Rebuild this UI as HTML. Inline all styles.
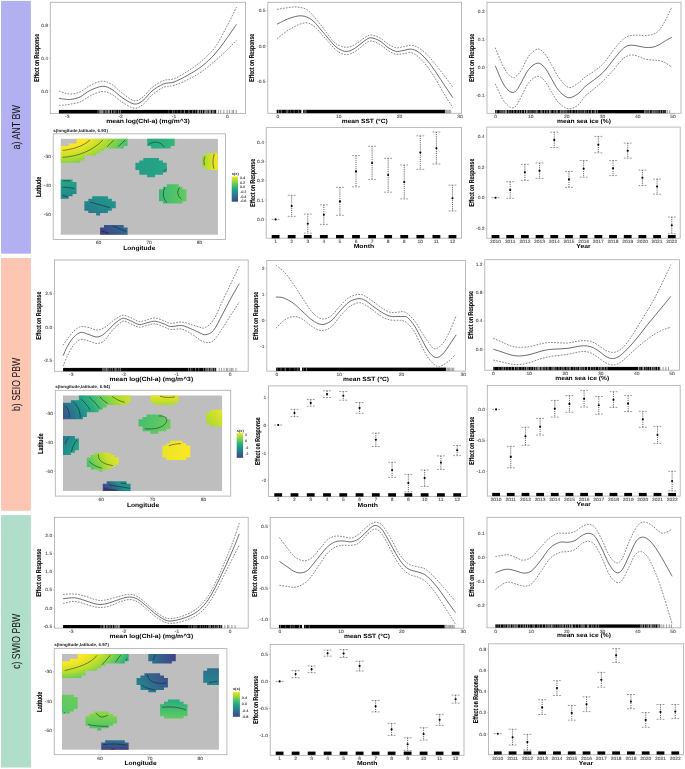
<!DOCTYPE html>
<html><head><meta charset="utf-8"><title>GAM partial effects</title>
<style>html,body{margin:0;padding:0;background:#fff;overflow:hidden}svg{display:block}text{font-family:"Liberation Sans",sans-serif;text-rendering:geometricPrecision}</style>
</head><body>
<svg width="685" height="769" viewBox="0 0 685 769" >
<defs><filter id="soft" filterUnits="userSpaceOnUse" x="0" y="0" width="685" height="769" color-interpolation-filters="sRGB"><feGaussianBlur stdDeviation="0.3"/></filter><filter id="tsoft" filterUnits="userSpaceOnUse" x="0" y="0" width="685" height="769" color-interpolation-filters="sRGB"><feGaussianBlur stdDeviation="0.12"/></filter></defs>
<rect width="685" height="769" fill="#fff"/>
<g filter="url(#soft)">
<rect width="685" height="769" fill="#fff"/>
<rect x="1.05" y="0.9" width="29.85" height="252.8" fill="#b2b0f0"/>
<rect x="1.05" y="258" width="29.85" height="252.8" fill="#fdc6b2"/>
<rect x="1.05" y="515.1" width="29.85" height="252.4" fill="#b0decb"/>
<rect x="50.3" y="2.3" width="195.3" height="111.1" fill="#fff" stroke="#b0b0b0" stroke-width="0.85"/>
<path d="M59,98.3C60,98.45 63,99.02 65,99.2C67,99.38 68.5,99.77 71,99.4C73.5,99.03 76.83,98.48 80,97C83.17,95.52 86.25,92.28 90,90.5C93.75,88.72 98.83,86.47 102.5,86.3C106.17,86.13 108.75,87.63 112,89.5C115.25,91.37 118.3,95.08 122,97.5C125.7,99.92 130.7,103.5 134.2,104C137.7,104.5 140.03,102.67 143,100.5C145.97,98.33 148.57,93.77 152,91C155.43,88.23 159.93,85.4 163.6,83.9C167.27,82.4 169.93,83.48 174,82C178.07,80.52 183.4,77.6 188,75C192.6,72.4 197.12,69.9 201.6,66.4C206.08,62.9 210.83,58.48 214.9,54C218.97,49.52 222.4,44.45 226,39.5C229.6,34.55 234.75,26.83 236.5,24.3" stroke="#2a2a2a" stroke-width="0.68" fill="none"/>
<path d="M59,91C60,91.33 63,92.5 65,93C67,93.5 68.5,94.17 71,94C73.5,93.83 76.83,93.42 80,92C83.17,90.58 86.33,87.3 90,85.5C93.67,83.7 98.33,81.37 102,81.2C105.67,81.03 108.67,82.53 112,84.5C115.33,86.47 118.3,90.32 122,93C125.7,95.68 130.7,99.93 134.2,100.6C137.7,101.27 140.03,99.18 143,97C145.97,94.82 148.57,90.23 152,87.5C155.43,84.77 159.93,82.07 163.6,80.6C167.27,79.13 169.93,80.3 174,78.7C178.07,77.1 183.4,73.95 188,71C192.6,68.05 197.12,64.93 201.6,61C206.08,57.07 210.83,52.9 214.9,47.4C218.97,41.9 222.4,34.7 226,28C229.6,21.3 234.75,10.67 236.5,7.2" stroke="#3a3a3a" stroke-width="0.62" fill="none" stroke-dasharray="1.7,1.3"/>
<path d="M59,105.3C60,105.25 63,105.22 65,105C67,104.78 68.5,104.5 71,104C73.5,103.5 76.83,103.33 80,102C83.17,100.67 86.33,97.75 90,96C93.67,94.25 98.33,91.75 102,91.5C105.67,91.25 108.67,92.75 112,94.5C115.33,96.25 118.3,99.72 122,102C125.7,104.28 130.7,107.78 134.2,108.2C137.7,108.62 140.03,106.7 143,104.5C145.97,102.3 148.57,97.87 152,95C155.43,92.13 159.93,88.9 163.6,87.3C167.27,85.7 169.93,86.7 174,85.4C178.07,84.1 183.4,81.78 188,79.5C192.6,77.22 197.12,74.78 201.6,71.7C206.08,68.62 210.83,64.45 214.9,61C218.97,57.55 222.4,54.47 226,51C229.6,47.53 234.75,42 236.5,40.2" stroke="#3a3a3a" stroke-width="0.62" fill="none" stroke-dasharray="1.7,1.3"/>
<rect x="58.9" y="109.9" width="38.1" height="3.5" fill="#000"/>
<rect x="97" y="109.9" width="25" height="3.5" fill="#000"/>
<path d="M97.99,109.85v3.6M99.56,109.85v3.6M103.9,109.85v3.6M105.54,109.85v3.6M109.58,109.85v3.6M115.96,109.85v3.6M118.52,109.85v3.6M120.37,109.85v3.6" stroke="#fff" stroke-width="0.6" fill="none" stroke-opacity="0.7"/>
<path d="M100.58,109.85v3.6M101.64,109.85v3.6M102.64,109.85v3.6M106.85,109.85v3.6M108.47,109.85v3.6M111.55,109.85v3.6M114.07,109.85v3.6" stroke="#fff" stroke-width="0.6" fill="none" stroke-opacity="0.95"/>
<rect x="122" y="109.9" width="46" height="3.5" fill="#000"/>
<rect x="168" y="109.9" width="28" height="3.5" fill="#000"/>
<path d="M168.72,109.85v3.6M177.21,109.85v3.6" stroke="#fff" stroke-width="0.5" fill="none" stroke-opacity="0.5"/>
<path d="M172.46,109.85v3.6M174.28,109.85v3.6M180.92,109.85v3.6M195.63,109.85v3.6" stroke="#fff" stroke-width="0.5" fill="none" stroke-opacity="0.7"/>
<path d="M184.36,109.85v3.6M188.94,109.85v3.6M192.74,109.85v3.6" stroke="#fff" stroke-width="0.5" fill="none" stroke-opacity="0.95"/>
<rect x="196" y="109.9" width="20" height="3.5" fill="#000"/>
<path d="M197.55,109.85v3.6M204.46,109.85v3.6" stroke="#fff" stroke-width="0.6" fill="none" stroke-opacity="0.7"/>
<path d="M198.59,109.85v3.6M200.38,109.85v3.6M202.52,109.85v3.6M205.56,109.85v3.6M206.74,109.85v3.6M207.9,109.85v3.6M209.51,109.85v3.6M210.54,109.85v3.6M212.42,109.85v3.6M213.9,109.85v3.6" stroke="#fff" stroke-width="0.6" fill="none" stroke-opacity="0.95"/>
<path d="M216,109.9v3.5M218.52,109.9v3.5M220.78,109.9v3.5M223.84,109.9v3.5M227.12,109.9v3.5M229.42,109.9v3.5M232.11,109.9v3.5M233.54,109.9v3.5M236.31,109.9v3.5" stroke="#333" stroke-width="0.5" fill="none"/>
<line x1="67.2" y1="113.4" x2="67.2" y2="114.8" stroke="#a0a0a0" stroke-width="0.5"/>
<line x1="120.6" y1="113.4" x2="120.6" y2="114.8" stroke="#a0a0a0" stroke-width="0.5"/>
<line x1="174" y1="113.4" x2="174" y2="114.8" stroke="#a0a0a0" stroke-width="0.5"/>
<line x1="227.4" y1="113.4" x2="227.4" y2="114.8" stroke="#a0a0a0" stroke-width="0.5"/>
<line x1="48.9" y1="25.2" x2="50.3" y2="25.2" stroke="#a0a0a0" stroke-width="0.5"/>
<line x1="48.9" y1="58.4" x2="50.3" y2="58.4" stroke="#a0a0a0" stroke-width="0.5"/>
<line x1="48.9" y1="91" x2="50.3" y2="91" stroke="#a0a0a0" stroke-width="0.5"/>
<rect x="267.8" y="2.3" width="193.8" height="111" fill="#fff" stroke="#b0b0b0" stroke-width="0.85"/>
<path d="M277,24.2C279,23.25 284.93,19.9 289,18.5C293.07,17.1 297.57,15.55 301.4,15.8C305.23,16.05 308.57,17.47 312,20C315.43,22.53 318.33,26.83 322,31C325.67,35.17 331,41.92 334,45C337,48.08 338.05,48.43 340,49.5C341.95,50.57 343.78,51.28 345.7,51.4C347.62,51.52 349.45,51.1 351.5,50.2C353.55,49.3 355.75,47.62 358,46C360.25,44.38 362.83,41.87 365,40.5C367.17,39.13 368.5,37.72 371,37.8C373.5,37.88 377.17,39.38 380,41C382.83,42.62 385.33,45.78 388,47.5C390.67,49.22 393.5,50.78 396,51.3C398.5,51.82 400.5,50.97 403,50.6C405.5,50.23 408.5,48.9 411,49.1C413.5,49.3 415.5,50.15 418,51.8C420.5,53.45 423.33,56.05 426,59C428.67,61.95 431.17,65.5 434,69.5C436.83,73.5 439.87,78.32 443,83C446.13,87.68 451.17,95.17 452.8,97.6" stroke="#2a2a2a" stroke-width="0.68" fill="none"/>
<path d="M277,9.4C278.67,9.13 283.67,8.2 287,7.8C290.33,7.4 293.5,6.55 297,7C300.5,7.45 304.17,7.67 308,10.5C311.83,13.33 315.83,18.92 320,24C324.17,29.08 329.75,37.42 333,41C336.25,44.58 337.38,44.45 339.5,45.5C341.62,46.55 343.7,47.18 345.7,47.3C347.7,47.42 349.45,47 351.5,46.2C353.55,45.4 355.75,43.95 358,42.5C360.25,41.05 362.83,38.75 365,37.5C367.17,36.25 368.5,34.92 371,35C373.5,35.08 377.17,36.5 380,38C382.83,39.5 385.33,42.38 388,44C390.67,45.62 393.5,47.23 396,47.7C398.5,48.17 400.5,47.2 403,46.8C405.5,46.4 408.5,45.18 411,45.3C413.5,45.42 415.5,46.13 418,47.5C420.5,48.87 423.33,51 426,53.5C428.67,56 431.17,59.08 434,62.5C436.83,65.92 439.87,69.92 443,74C446.13,78.08 451.17,84.83 452.8,87" stroke="#3a3a3a" stroke-width="0.62" fill="none" stroke-dasharray="1.7,1.3"/>
<path d="M277,38.6C279.33,36.92 286.27,31.13 291,28.5C295.73,25.87 301.4,23.05 305.4,22.8C309.4,22.55 311.9,24.63 315,27C318.1,29.37 320.67,33.33 324,37C327.33,40.67 332.25,46.33 335,49C337.75,51.67 338.72,52.05 340.5,53C342.28,53.95 343.87,54.62 345.7,54.7C347.53,54.78 349.45,54.37 351.5,53.5C353.55,52.63 355.75,51.12 358,49.5C360.25,47.88 362.83,45.22 365,43.8C367.17,42.38 368.5,40.88 371,41C373.5,41.12 377.17,42.92 380,44.5C382.83,46.08 385.33,48.87 388,50.5C390.67,52.13 393.5,53.75 396,54.3C398.5,54.85 400.5,54.07 403,53.8C405.5,53.53 408.5,52.25 411,52.7C413.5,53.15 415.5,54.45 418,56.5C420.5,58.55 423.33,61.67 426,65C428.67,68.33 431.17,72 434,76.5C436.83,81 439.87,86.8 443,92C446.13,97.2 451.17,105.08 452.8,107.7" stroke="#3a3a3a" stroke-width="0.62" fill="none" stroke-dasharray="1.7,1.3"/>
<rect x="276.7" y="109.8" width="24.6" height="3.3" fill="#000"/>
<path d="M290.64,109.75v3.4" stroke="#fff" stroke-width="0.5" fill="none" stroke-opacity="0.5"/>
<path d="M286.29,109.75v3.4M294.07,109.75v3.4M298.62,109.75v3.4" stroke="#fff" stroke-width="0.5" fill="none" stroke-opacity="0.7"/>
<path d="M278.69,109.75v3.4M281.26,109.75v3.4M287.79,109.75v3.4" stroke="#fff" stroke-width="0.5" fill="none" stroke-opacity="0.95"/>
<rect x="303" y="109.8" width="6" height="3.3" fill="#000"/>
<path d="M304.1,109.75v3.4M305.83,109.75v3.4" stroke="#fff" stroke-width="0.5" fill="none" stroke-opacity="0.95"/>
<rect x="309" y="109.8" width="136" height="3.3" fill="#000"/>
<path d="M445,109.8v3.3M446.07,109.8v3.3M447.05,109.8v3.3M448.21,109.8v3.3M449.44,109.8v3.3M450.76,109.8v3.3" stroke="#444" stroke-width="0.55" fill="none"/>
<line x1="277.9" y1="113.3" x2="277.9" y2="114.7" stroke="#a0a0a0" stroke-width="0.5"/>
<line x1="338.7" y1="113.3" x2="338.7" y2="114.7" stroke="#a0a0a0" stroke-width="0.5"/>
<line x1="399.5" y1="113.3" x2="399.5" y2="114.7" stroke="#a0a0a0" stroke-width="0.5"/>
<line x1="460" y1="113.3" x2="460" y2="114.7" stroke="#a0a0a0" stroke-width="0.5"/>
<line x1="266.4" y1="10.4" x2="267.8" y2="10.4" stroke="#a0a0a0" stroke-width="0.5"/>
<line x1="266.4" y1="46" x2="267.8" y2="46" stroke="#a0a0a0" stroke-width="0.5"/>
<line x1="266.4" y1="81.6" x2="267.8" y2="81.6" stroke="#a0a0a0" stroke-width="0.5"/>
<rect x="487" y="2.3" width="194" height="111" fill="#fff" stroke="#b0b0b0" stroke-width="0.85"/>
<path d="M495.3,65.8C496.5,68.57 500.42,78.4 502.5,82.4C504.58,86.4 506.18,88.13 507.8,89.8C509.42,91.47 510.73,92.32 512.2,92.4C513.67,92.48 515,92.12 516.6,90.3C518.2,88.48 519.77,85 521.8,81.5C523.83,78 526.17,72.37 528.8,69.3C531.43,66.23 534.97,63.4 537.6,63.1C540.23,62.8 542.27,64.87 544.6,67.5C546.93,70.13 549.27,75.1 551.6,78.9C553.93,82.7 555.82,87.17 558.6,90.3C561.38,93.43 565.08,97.12 568.3,97.7C571.52,98.28 575.12,95.65 577.9,93.8C580.68,91.95 582.25,88.97 585,86.6C587.75,84.23 591.28,82.07 594.4,79.6C597.52,77.13 600.58,75.05 603.7,71.8C606.82,68.55 610.23,63.62 613.1,60.1C615.97,56.58 618.7,53 620.9,50.7C623.1,48.4 624.48,47.22 626.3,46.3C628.12,45.38 629.85,45.25 631.8,45.2C633.75,45.15 635.92,45.65 638,46C640.08,46.35 641.95,47.08 644.3,47.3C646.65,47.52 649.77,47.65 652.1,47.3C654.43,46.95 656.22,46.2 658.3,45.2C660.38,44.2 662.33,42.65 664.6,41.3C666.87,39.95 670.68,37.8 671.9,37.1" stroke="#2a2a2a" stroke-width="0.68" fill="none"/>
<path d="M495.3,47.7C496.5,50.57 500.42,60.58 502.5,64.9C504.58,69.22 506.05,71.47 507.8,73.6C509.55,75.73 511.47,77.38 513,77.7C514.53,78.02 515.53,76.9 517,75.5C518.47,74.1 519.83,72.53 521.8,69.3C523.77,66.07 526.17,59.47 528.8,56.1C531.43,52.73 534.97,49.53 537.6,49.1C540.23,48.67 542.27,50.87 544.6,53.5C546.93,56.13 549.27,60.95 551.6,64.9C553.93,68.85 555.82,73.45 558.6,77.2C561.38,80.95 565.08,86.38 568.3,87.4C571.52,88.42 575.12,85 577.9,83.3C580.68,81.6 582.25,79.25 585,77.2C587.75,75.15 591.28,73.33 594.4,71C597.52,68.67 600.58,66.58 603.7,63.2C606.82,59.82 610.23,54.35 613.1,50.7C615.97,47.05 618.7,43.58 620.9,41.3C623.1,39.02 624.48,37.98 626.3,37C628.12,36.02 629.85,35.72 631.8,35.4C633.75,35.08 635.92,35.07 638,35.1C640.08,35.13 641.95,35.68 644.3,35.6C646.65,35.52 649.77,35.33 652.1,34.6C654.43,33.87 656.22,33.33 658.3,31.2C660.38,29.07 662.33,25.83 664.6,21.8C666.87,17.77 670.68,9.47 671.9,7" stroke="#3a3a3a" stroke-width="0.62" fill="none" stroke-dasharray="1.7,1.3"/>
<path d="M495.3,83.9C496.5,86.43 500.42,95.53 502.5,99.1C504.58,102.67 506.18,103.83 507.8,105.3C509.42,106.77 510.73,107.9 512.2,107.9C513.67,107.9 515,107.35 516.6,105.3C518.2,103.25 519.77,99.4 521.8,95.6C523.83,91.8 526.17,85.72 528.8,82.5C531.43,79.28 534.97,76.6 537.6,76.3C540.23,76 542.27,78.07 544.6,80.7C546.93,83.33 549.27,88.45 551.6,92.1C553.93,95.75 555.82,99.82 558.6,102.6C561.38,105.38 565.08,108.35 568.3,108.8C571.52,109.25 575.12,107.38 577.9,105.3C580.68,103.22 582.25,99.08 585,96.3C587.75,93.52 591.28,91.27 594.4,88.6C597.52,85.93 600.58,83.37 603.7,80.3C606.82,77.23 610.23,73.45 613.1,70.2C615.97,66.95 618.7,63.08 620.9,60.8C623.1,58.52 624.48,57.48 626.3,56.5C628.12,55.52 629.85,54.95 631.8,54.9C633.75,54.85 635.92,55.55 638,56.2C640.08,56.85 641.95,58.15 644.3,58.8C646.65,59.45 649.77,59.83 652.1,60.1C654.43,60.37 656.22,60.02 658.3,60.4C660.38,60.78 662.33,61.23 664.6,62.4C666.87,63.57 670.68,66.57 671.9,67.4" stroke="#3a3a3a" stroke-width="0.62" fill="none" stroke-dasharray="1.7,1.3"/>
<rect x="495.2" y="110" width="104.8" height="3.2" fill="#000"/>
<path d="M499.93,109.95v3.3M501.21,109.95v3.3M502.82,109.95v3.3M511.18,109.95v3.3M519.58,109.95v3.3M529.82,109.95v3.3M531.07,109.95v3.3M533.14,109.95v3.3M534.99,109.95v3.3M537.75,109.95v3.3M542.09,109.95v3.3M544.54,109.95v3.3M557.56,109.95v3.3M563.45,109.95v3.3M569.19,109.95v3.3M575.21,109.95v3.3M580.09,109.95v3.3M581.97,109.95v3.3M586.07,109.95v3.3M588.51,109.95v3.3M594.12,109.95v3.3M597.54,109.95v3.3" stroke="#fff" stroke-width="0.6" fill="none" stroke-opacity="0.7"/>
<path d="M496.72,109.95v3.3M503.95,109.95v3.3M505.45,109.95v3.3M506.56,109.95v3.3M508.84,109.95v3.3M513.8,109.95v3.3M516.99,109.95v3.3M521.68,109.95v3.3M524.54,109.95v3.3M526.52,109.95v3.3M527.84,109.95v3.3M536.32,109.95v3.3M540.94,109.95v3.3M547.04,109.95v3.3M549.46,109.95v3.3M550.83,109.95v3.3M554.12,109.95v3.3M556.28,109.95v3.3M560.31,109.95v3.3M562,109.95v3.3M565,109.95v3.3M566.9,109.95v3.3M571.96,109.95v3.3M577.85,109.95v3.3M584.24,109.95v3.3M591.39,109.95v3.3M595.66,109.95v3.3" stroke="#fff" stroke-width="0.6" fill="none" stroke-opacity="0.95"/>
<rect x="600" y="110" width="43" height="3.2" fill="#000"/>
<rect x="643" y="110" width="23" height="3.2" fill="#000"/>
<path d="M653.23,109.95v3.3M654.52,109.95v3.3M664.99,109.95v3.3" stroke="#fff" stroke-width="0.6" fill="none" stroke-opacity="0.7"/>
<path d="M644.69,109.95v3.3M646.03,109.95v3.3M647.95,109.95v3.3M649.61,109.95v3.3M652.19,109.95v3.3M655.99,109.95v3.3M657.95,109.95v3.3M660.28,109.95v3.3M662.73,109.95v3.3" stroke="#fff" stroke-width="0.6" fill="none" stroke-opacity="0.95"/>
<path d="M666,110v3.2M667.55,110v3.2M669.67,110v3.2" stroke="#333" stroke-width="0.5" fill="none"/>
<line x1="495.5" y1="113.3" x2="495.5" y2="114.7" stroke="#a0a0a0" stroke-width="0.5"/>
<line x1="530.8" y1="113.3" x2="530.8" y2="114.7" stroke="#a0a0a0" stroke-width="0.5"/>
<line x1="566.8" y1="113.3" x2="566.8" y2="114.7" stroke="#a0a0a0" stroke-width="0.5"/>
<line x1="602.4" y1="113.3" x2="602.4" y2="114.7" stroke="#a0a0a0" stroke-width="0.5"/>
<line x1="637.8" y1="113.3" x2="637.8" y2="114.7" stroke="#a0a0a0" stroke-width="0.5"/>
<line x1="673.1" y1="113.3" x2="673.1" y2="114.7" stroke="#a0a0a0" stroke-width="0.5"/>
<line x1="485.6" y1="11.8" x2="487" y2="11.8" stroke="#a0a0a0" stroke-width="0.5"/>
<line x1="485.6" y1="39.3" x2="487" y2="39.3" stroke="#a0a0a0" stroke-width="0.5"/>
<line x1="485.6" y1="67.5" x2="487" y2="67.5" stroke="#a0a0a0" stroke-width="0.5"/>
<line x1="485.6" y1="95.4" x2="487" y2="95.4" stroke="#a0a0a0" stroke-width="0.5"/>
<rect x="53.2" y="133.8" width="172.2" height="105.7" fill="#fff" stroke="#b0b0b0" stroke-width="0.85"/>
<rect x="60.8" y="138.8" width="157.1" height="95.9" fill="#bebebe"/>
<radialGradient id="g0" gradientUnits="userSpaceOnUse" cx="0" cy="0" r="1" gradientTransform="translate(58,132) scale(75.2,40)"><stop offset="0" stop-color="#fde725"/><stop offset="0.1" stop-color="#fde725"/><stop offset="0.2" stop-color="#fde725"/><stop offset="0.3" stop-color="#fde725"/><stop offset="0.4" stop-color="#fde725"/><stop offset="0.42" stop-color="#f8e626"/><stop offset="0.43" stop-color="#f3e626"/><stop offset="0.45" stop-color="#efe527"/><stop offset="0.47" stop-color="#eae428"/><stop offset="0.51" stop-color="#dfe329"/><stop offset="0.55" stop-color="#d3e12b"/><stop offset="0.6" stop-color="#c8e02c"/><stop offset="0.64" stop-color="#bdde2e"/><stop offset="0.67" stop-color="#b2dd2f"/><stop offset="0.7" stop-color="#a7da34"/><stop offset="0.73" stop-color="#9cd83b"/><stop offset="0.76" stop-color="#91d542"/><stop offset="0.79" stop-color="#84d24a"/><stop offset="0.82" stop-color="#77cf52"/><stop offset="0.86" stop-color="#6bcc5a"/><stop offset="0.89" stop-color="#5ec962"/><stop offset="0.92" stop-color="#56c566"/><stop offset="0.95" stop-color="#4fc16a"/><stop offset="0.97" stop-color="#47be6f"/><stop offset="1" stop-color="#40ba73"/></radialGradient>
<path d="M127.57,138.8L127.57,143.59L127.57,143.59L127.57,145.99L123.64,145.99L123.64,148.39L104,148.39L104,150.79L100.08,150.79L100.08,153.19L96.15,153.19L96.15,155.58L84.37,155.58L84.37,160.38L80.44,160.38L80.44,162.78L60.8,162.78L60.8,160.38L60.8,160.38L60.8,155.58L60.8,155.58L60.8,153.19L60.8,153.19L60.8,150.79L60.8,150.79L60.8,148.39L60.8,148.39L60.8,145.99L68.66,145.99L68.66,143.59L76.51,143.59L76.51,138.8Z" fill="url(#g0)"/>
<path d="M62.6,150.4C72,149.5 83,146.5 90,140" stroke="#151515" stroke-width="0.5" fill="none"/>
<path d="M62.6,157.4C78,156.5 93,150.5 102.9,140" stroke="#151515" stroke-width="0.5" fill="none"/>
<path d="M107.2,146.6L113.8,140.2" stroke="#151515" stroke-width="0.5" fill="none"/>
<path d="M118.1,146.6L125.1,140.2" stroke="#151515" stroke-width="0.5" fill="none"/>
<linearGradient id="g1" gradientUnits="userSpaceOnUse" x1="147" y1="140" x2="175" y2="140"><stop offset="0" stop-color="#27a882"/><stop offset="0.25" stop-color="#27ac81"/><stop offset="0.5" stop-color="#2aaf7f"/><stop offset="0.75" stop-color="#31b27b"/><stop offset="1" stop-color="#37b678"/></linearGradient>
<path d="M174.7,138.8L174.7,145.99L170.77,145.99L170.77,148.39L151.13,148.39L151.13,145.99L147.21,145.99L147.21,138.8Z" fill="url(#g1)"/>
<path d="M148.7,144.4C152,142 157,141.2 160.5,143.5C162,144.5 163.5,145.8 164.7,147.2" stroke="#151515" stroke-width="0.5" fill="none"/>
<linearGradient id="g2" gradientUnits="userSpaceOnUse" x1="135" y1="160" x2="167" y2="160"><stop offset="0" stop-color="#249d87"/><stop offset="0.25" stop-color="#249f86"/><stop offset="0.5" stop-color="#25a186"/><stop offset="0.75" stop-color="#25a385"/><stop offset="1" stop-color="#26a584"/></linearGradient>
<path d="M158.99,157.98L158.99,160.38L162.92,160.38L162.92,162.78L166.84,162.78L166.84,169.97L166.84,169.97L166.84,172.37L162.92,172.37L162.92,174.76L155.06,174.76L155.06,177.16L147.21,177.16L147.21,174.76L139.35,174.76L139.35,172.37L139.35,172.37L139.35,169.97L135.42,169.97L135.42,162.78L139.35,162.78L139.35,160.38L143.28,160.38L143.28,157.98Z" fill="url(#g2)"/>
<path d="M163.3,172.1C164.8,171 165.8,170 166.3,168.7" stroke="#151515" stroke-width="0.5" fill="none"/>
<linearGradient id="g3" gradientUnits="userSpaceOnUse" x1="202" y1="160" x2="218" y2="160"><stop offset="0" stop-color="#97d73e"/><stop offset="0.1" stop-color="#a2d937"/><stop offset="0.2" stop-color="#addc30"/><stop offset="0.3" stop-color="#b8de2e"/><stop offset="0.4" stop-color="#c3df2d"/><stop offset="0.55" stop-color="#d0e12b"/><stop offset="0.7" stop-color="#dde329"/><stop offset="0.85" stop-color="#eae428"/><stop offset="1" stop-color="#f7e626"/></linearGradient>
<path d="M217.9,153.19L217.9,155.58L217.9,155.58L217.9,167.57L217.9,167.57L217.9,169.97L206.12,169.97L206.12,167.57L202.19,167.57L202.19,155.58L206.12,155.58L206.12,153.19Z" fill="url(#g3)"/>
<path d="M205,156.6C203.6,159.5 203.6,162.5 204.6,165.2" stroke="#151515" stroke-width="0.5" fill="none"/>
<path d="M214.3,153.8C212.6,158.5 212.6,164 213.8,168.7" stroke="#151515" stroke-width="0.5" fill="none"/>
<linearGradient id="g4" gradientUnits="userSpaceOnUse" x1="62" y1="180" x2="66" y2="199"><stop offset="0" stop-color="#27a882"/><stop offset="0.25" stop-color="#249f86"/><stop offset="0.5" stop-color="#22968a"/><stop offset="0.75" stop-color="#238c8c"/><stop offset="1" stop-color="#26828d"/></linearGradient>
<path d="M72.58,179.56L72.58,181.96L76.51,181.96L76.51,193.94L72.58,193.94L72.58,196.34L68.66,196.34L68.66,198.74L60.8,198.74L60.8,196.34L60.8,196.34L60.8,193.94L60.8,193.94L60.8,181.96L60.8,181.96L60.8,179.56Z" fill="url(#g4)"/>
<path d="M62.6,180.8L70.2,180.8" stroke="#151515" stroke-width="0.5" fill="none"/>
<path d="M62.6,187.2C66,187.3 70,187.7 74.3,188.4" stroke="#151515" stroke-width="0.5" fill="none"/>
<path d="M62.6,195.4L67.9,196.9" stroke="#151515" stroke-width="0.5" fill="none"/>
<linearGradient id="g5" gradientUnits="userSpaceOnUse" x1="159" y1="190" x2="186.5" y2="190"><stop offset="0" stop-color="#3bb875"/><stop offset="0.25" stop-color="#45bd70"/><stop offset="0.5" stop-color="#4fc16a"/><stop offset="0.75" stop-color="#59c665"/><stop offset="1" stop-color="#64cb5e"/></linearGradient>
<path d="M178.62,184.35L178.62,186.75L182.55,186.75L182.55,189.15L186.48,189.15L186.48,201.13L182.55,201.13L182.55,203.53L162.92,203.53L162.92,201.13L158.99,201.13L158.99,189.15L162.92,189.15L162.92,186.75L166.84,186.75L166.84,184.35Z" fill="url(#g5)"/>
<path d="M165,187.4C162.4,192 162.6,198 166.8,202.7" stroke="#151515" stroke-width="0.5" fill="none"/>
<path d="M179.5,187.4C176.8,191.5 177.2,196 181.6,199.2" stroke="#151515" stroke-width="0.5" fill="none"/>
<linearGradient id="g6" gradientUnits="userSpaceOnUse" x1="105" y1="196" x2="95" y2="215.5"><stop offset="0" stop-color="#239889"/><stop offset="0.25" stop-color="#21908c"/><stop offset="0.5" stop-color="#24888d"/><stop offset="0.75" stop-color="#27808d"/><stop offset="1" stop-color="#2a788e"/></linearGradient>
<path d="M107.93,196.34L107.93,198.74L111.86,198.74L111.86,201.13L115.78,201.13L115.78,208.33L111.86,208.33L111.86,210.72L107.93,210.72L107.93,213.12L100.08,213.12L100.08,215.52L96.15,215.52L96.15,213.12L88.29,213.12L88.29,210.72L84.37,210.72L84.37,208.33L84.37,208.33L84.37,201.13L88.29,201.13L88.29,198.74L92.22,198.74L92.22,196.34Z" fill="url(#g6)"/>
<path d="M90,202.1L109.9,207.6" stroke="#151515" stroke-width="0.5" fill="none"/>
<linearGradient id="g7" gradientUnits="userSpaceOnUse" x1="120" y1="225" x2="105" y2="235"><stop offset="0" stop-color="#31668d"/><stop offset="0.25" stop-color="#355e8c"/><stop offset="0.5" stop-color="#39568b"/><stop offset="0.75" stop-color="#3d4d89"/><stop offset="1" stop-color="#404385"/></linearGradient>
<path d="M123.64,225.11L123.64,227.51L127.57,227.51L127.57,234.7L100.08,234.7L100.08,227.51L104,227.51L104,225.11Z" fill="url(#g7)"/>
<path d="M112.8,226L126.3,231.6" stroke="#151515" stroke-width="0.5" fill="none"/>
<path d="M101.7,231L109,233.3" stroke="#151515" stroke-width="0.5" fill="none"/>
<line x1="98.4" y1="239.5" x2="98.4" y2="240.9" stroke="#a0a0a0" stroke-width="0.5"/>
<line x1="148.9" y1="239.5" x2="148.9" y2="240.9" stroke="#a0a0a0" stroke-width="0.5"/>
<line x1="199.4" y1="239.5" x2="199.4" y2="240.9" stroke="#a0a0a0" stroke-width="0.5"/>
<line x1="51.8" y1="156.6" x2="53.2" y2="156.6" stroke="#a0a0a0" stroke-width="0.5"/>
<line x1="51.8" y1="185.8" x2="53.2" y2="185.8" stroke="#a0a0a0" stroke-width="0.5"/>
<line x1="51.8" y1="214.7" x2="53.2" y2="214.7" stroke="#a0a0a0" stroke-width="0.5"/>
<linearGradient id="g8" x1="0" y1="1" x2="0" y2="0"><stop offset="0" stop-color="#404385"/><stop offset="0.08" stop-color="#39568b"/><stop offset="0.17" stop-color="#31678d"/><stop offset="0.25" stop-color="#2a788e"/><stop offset="0.33" stop-color="#24888d"/><stop offset="0.42" stop-color="#239889"/><stop offset="0.5" stop-color="#26a783"/><stop offset="0.58" stop-color="#37b677"/><stop offset="0.67" stop-color="#54c468"/><stop offset="0.75" stop-color="#79cf51"/><stop offset="0.83" stop-color="#a2d937"/><stop offset="0.92" stop-color="#cce02c"/><stop offset="1" stop-color="#f7e626"/></linearGradient>
<rect x="231.7" y="176.6" width="6.3" height="25.1" fill="url(#g8)"/>
<rect x="266.2" y="127.6" width="195.4" height="110.6" fill="#fff" stroke="#b0b0b0" stroke-width="0.85"/>
<line x1="271.7" y1="219.4" x2="279.5" y2="219.4" stroke="#555" stroke-width="0.6" stroke-dasharray="1.8,1.2"/>
<circle cx="275.6" cy="219.4" r="1.05" fill="#000"/>
<line x1="291.68" y1="195.3" x2="291.68" y2="216.4" stroke="#222" stroke-width="0.7" stroke-dasharray="1.1,1"/>
<line x1="287.78" y1="195.3" x2="295.58" y2="195.3" stroke="#555" stroke-width="0.6" stroke-dasharray="1.8,1.2"/>
<line x1="287.78" y1="216.4" x2="295.58" y2="216.4" stroke="#555" stroke-width="0.6" stroke-dasharray="1.8,1.2"/>
<circle cx="291.68" cy="206.1" r="1.05" fill="#000"/>
<line x1="307.76" y1="214.1" x2="307.76" y2="233.1" stroke="#222" stroke-width="0.7" stroke-dasharray="1.1,1"/>
<line x1="303.86" y1="214.1" x2="311.66" y2="214.1" stroke="#555" stroke-width="0.6" stroke-dasharray="1.8,1.2"/>
<line x1="303.86" y1="233.1" x2="311.66" y2="233.1" stroke="#555" stroke-width="0.6" stroke-dasharray="1.8,1.2"/>
<circle cx="307.76" cy="223.8" r="1.05" fill="#000"/>
<line x1="323.84" y1="204.8" x2="323.84" y2="224.4" stroke="#222" stroke-width="0.7" stroke-dasharray="1.1,1"/>
<line x1="319.94" y1="204.8" x2="327.74" y2="204.8" stroke="#555" stroke-width="0.6" stroke-dasharray="1.8,1.2"/>
<line x1="319.94" y1="224.4" x2="327.74" y2="224.4" stroke="#555" stroke-width="0.6" stroke-dasharray="1.8,1.2"/>
<circle cx="323.84" cy="214.8" r="1.05" fill="#000"/>
<line x1="339.92" y1="187.3" x2="339.92" y2="215.3" stroke="#222" stroke-width="0.7" stroke-dasharray="1.1,1"/>
<line x1="336.02" y1="187.3" x2="343.82" y2="187.3" stroke="#555" stroke-width="0.6" stroke-dasharray="1.8,1.2"/>
<line x1="336.02" y1="215.3" x2="343.82" y2="215.3" stroke="#555" stroke-width="0.6" stroke-dasharray="1.8,1.2"/>
<circle cx="339.92" cy="201.4" r="1.05" fill="#000"/>
<line x1="356" y1="155.6" x2="356" y2="186.8" stroke="#222" stroke-width="0.7" stroke-dasharray="1.1,1"/>
<line x1="352.1" y1="155.6" x2="359.9" y2="155.6" stroke="#555" stroke-width="0.6" stroke-dasharray="1.8,1.2"/>
<line x1="352.1" y1="186.8" x2="359.9" y2="186.8" stroke="#555" stroke-width="0.6" stroke-dasharray="1.8,1.2"/>
<circle cx="356" cy="171.4" r="1.05" fill="#000"/>
<line x1="372.08" y1="146.2" x2="372.08" y2="179.4" stroke="#222" stroke-width="0.7" stroke-dasharray="1.1,1"/>
<line x1="368.18" y1="146.2" x2="375.98" y2="146.2" stroke="#555" stroke-width="0.6" stroke-dasharray="1.8,1.2"/>
<line x1="368.18" y1="179.4" x2="375.98" y2="179.4" stroke="#555" stroke-width="0.6" stroke-dasharray="1.8,1.2"/>
<circle cx="372.08" cy="163" r="1.05" fill="#000"/>
<line x1="388.16" y1="158.3" x2="388.16" y2="192.2" stroke="#222" stroke-width="0.7" stroke-dasharray="1.1,1"/>
<line x1="384.26" y1="158.3" x2="392.06" y2="158.3" stroke="#555" stroke-width="0.6" stroke-dasharray="1.8,1.2"/>
<line x1="384.26" y1="192.2" x2="392.06" y2="192.2" stroke="#555" stroke-width="0.6" stroke-dasharray="1.8,1.2"/>
<circle cx="388.16" cy="175" r="1.05" fill="#000"/>
<line x1="404.24" y1="165" x2="404.24" y2="198.9" stroke="#222" stroke-width="0.7" stroke-dasharray="1.1,1"/>
<line x1="400.34" y1="165" x2="408.14" y2="165" stroke="#555" stroke-width="0.6" stroke-dasharray="1.8,1.2"/>
<line x1="400.34" y1="198.9" x2="408.14" y2="198.9" stroke="#555" stroke-width="0.6" stroke-dasharray="1.8,1.2"/>
<circle cx="404.24" cy="182.1" r="1.05" fill="#000"/>
<line x1="420.32" y1="135.8" x2="420.32" y2="169.4" stroke="#222" stroke-width="0.7" stroke-dasharray="1.1,1"/>
<line x1="416.42" y1="135.8" x2="424.22" y2="135.8" stroke="#555" stroke-width="0.6" stroke-dasharray="1.8,1.2"/>
<line x1="416.42" y1="169.4" x2="424.22" y2="169.4" stroke="#555" stroke-width="0.6" stroke-dasharray="1.8,1.2"/>
<circle cx="420.32" cy="152.6" r="1.05" fill="#000"/>
<line x1="436.4" y1="132" x2="436.4" y2="164" stroke="#222" stroke-width="0.7" stroke-dasharray="1.1,1"/>
<line x1="432.5" y1="132" x2="440.3" y2="132" stroke="#555" stroke-width="0.6" stroke-dasharray="1.8,1.2"/>
<line x1="432.5" y1="164" x2="440.3" y2="164" stroke="#555" stroke-width="0.6" stroke-dasharray="1.8,1.2"/>
<circle cx="436.4" cy="148.2" r="1.05" fill="#000"/>
<line x1="452.48" y1="185.1" x2="452.48" y2="211" stroke="#222" stroke-width="0.7" stroke-dasharray="1.1,1"/>
<line x1="448.58" y1="185.1" x2="456.38" y2="185.1" stroke="#555" stroke-width="0.6" stroke-dasharray="1.8,1.2"/>
<line x1="448.58" y1="211" x2="456.38" y2="211" stroke="#555" stroke-width="0.6" stroke-dasharray="1.8,1.2"/>
<circle cx="452.48" cy="198.2" r="1.05" fill="#000"/>
<rect x="271.7" y="235" width="7.8" height="3.3" fill="#000"/>
<rect x="287.78" y="235" width="7.8" height="3.3" fill="#000"/>
<rect x="303.86" y="235" width="7.8" height="3.3" fill="#000"/>
<rect x="319.94" y="235" width="7.8" height="3.3" fill="#000"/>
<rect x="336.02" y="235" width="7.8" height="3.3" fill="#000"/>
<rect x="352.1" y="235" width="7.8" height="3.3" fill="#000"/>
<rect x="368.18" y="235" width="7.8" height="3.3" fill="#000"/>
<rect x="384.26" y="235" width="7.8" height="3.3" fill="#000"/>
<rect x="400.34" y="235" width="7.8" height="3.3" fill="#000"/>
<rect x="416.42" y="235" width="7.8" height="3.3" fill="#000"/>
<rect x="432.5" y="235" width="7.8" height="3.3" fill="#000"/>
<rect x="448.58" y="235" width="7.8" height="3.3" fill="#000"/>
<line x1="275.6" y1="238.2" x2="275.6" y2="239.6" stroke="#a0a0a0" stroke-width="0.5"/>
<line x1="291.68" y1="238.2" x2="291.68" y2="239.6" stroke="#a0a0a0" stroke-width="0.5"/>
<line x1="307.76" y1="238.2" x2="307.76" y2="239.6" stroke="#a0a0a0" stroke-width="0.5"/>
<line x1="323.84" y1="238.2" x2="323.84" y2="239.6" stroke="#a0a0a0" stroke-width="0.5"/>
<line x1="339.92" y1="238.2" x2="339.92" y2="239.6" stroke="#a0a0a0" stroke-width="0.5"/>
<line x1="356" y1="238.2" x2="356" y2="239.6" stroke="#a0a0a0" stroke-width="0.5"/>
<line x1="372.08" y1="238.2" x2="372.08" y2="239.6" stroke="#a0a0a0" stroke-width="0.5"/>
<line x1="388.16" y1="238.2" x2="388.16" y2="239.6" stroke="#a0a0a0" stroke-width="0.5"/>
<line x1="404.24" y1="238.2" x2="404.24" y2="239.6" stroke="#a0a0a0" stroke-width="0.5"/>
<line x1="420.32" y1="238.2" x2="420.32" y2="239.6" stroke="#a0a0a0" stroke-width="0.5"/>
<line x1="436.4" y1="238.2" x2="436.4" y2="239.6" stroke="#a0a0a0" stroke-width="0.5"/>
<line x1="452.48" y1="238.2" x2="452.48" y2="239.6" stroke="#a0a0a0" stroke-width="0.5"/>
<line x1="264.8" y1="142.3" x2="266.2" y2="142.3" stroke="#a0a0a0" stroke-width="0.5"/>
<line x1="264.8" y1="161.5" x2="266.2" y2="161.5" stroke="#a0a0a0" stroke-width="0.5"/>
<line x1="264.8" y1="180.7" x2="266.2" y2="180.7" stroke="#a0a0a0" stroke-width="0.5"/>
<line x1="264.8" y1="200" x2="266.2" y2="200" stroke="#a0a0a0" stroke-width="0.5"/>
<line x1="264.8" y1="219.4" x2="266.2" y2="219.4" stroke="#a0a0a0" stroke-width="0.5"/>
<rect x="486.8" y="127.1" width="193.4" height="111.1" fill="#fff" stroke="#b0b0b0" stroke-width="0.85"/>
<line x1="491.6" y1="197.7" x2="499.4" y2="197.7" stroke="#555" stroke-width="0.6" stroke-dasharray="1.8,1.2"/>
<circle cx="495.5" cy="197.7" r="1.05" fill="#000"/>
<line x1="510.19" y1="181.7" x2="510.19" y2="198.4" stroke="#222" stroke-width="0.7" stroke-dasharray="1.1,1"/>
<line x1="506.29" y1="181.7" x2="514.09" y2="181.7" stroke="#555" stroke-width="0.6" stroke-dasharray="1.8,1.2"/>
<line x1="506.29" y1="198.4" x2="514.09" y2="198.4" stroke="#555" stroke-width="0.6" stroke-dasharray="1.8,1.2"/>
<circle cx="510.19" cy="190" r="1.05" fill="#000"/>
<line x1="524.88" y1="164.3" x2="524.88" y2="180.4" stroke="#222" stroke-width="0.7" stroke-dasharray="1.1,1"/>
<line x1="520.98" y1="164.3" x2="528.78" y2="164.3" stroke="#555" stroke-width="0.6" stroke-dasharray="1.8,1.2"/>
<line x1="520.98" y1="180.4" x2="528.78" y2="180.4" stroke="#555" stroke-width="0.6" stroke-dasharray="1.8,1.2"/>
<circle cx="524.88" cy="172.3" r="1.05" fill="#000"/>
<line x1="539.57" y1="163" x2="539.57" y2="178.4" stroke="#222" stroke-width="0.7" stroke-dasharray="1.1,1"/>
<line x1="535.67" y1="163" x2="543.47" y2="163" stroke="#555" stroke-width="0.6" stroke-dasharray="1.8,1.2"/>
<line x1="535.67" y1="178.4" x2="543.47" y2="178.4" stroke="#555" stroke-width="0.6" stroke-dasharray="1.8,1.2"/>
<circle cx="539.57" cy="170.7" r="1.05" fill="#000"/>
<line x1="554.26" y1="132.2" x2="554.26" y2="147.6" stroke="#222" stroke-width="0.7" stroke-dasharray="1.1,1"/>
<line x1="550.36" y1="132.2" x2="558.16" y2="132.2" stroke="#555" stroke-width="0.6" stroke-dasharray="1.8,1.2"/>
<line x1="550.36" y1="147.6" x2="558.16" y2="147.6" stroke="#555" stroke-width="0.6" stroke-dasharray="1.8,1.2"/>
<circle cx="554.26" cy="139.9" r="1.05" fill="#000"/>
<line x1="568.95" y1="171.4" x2="568.95" y2="187.4" stroke="#222" stroke-width="0.7" stroke-dasharray="1.1,1"/>
<line x1="565.05" y1="171.4" x2="572.85" y2="171.4" stroke="#555" stroke-width="0.6" stroke-dasharray="1.8,1.2"/>
<line x1="565.05" y1="187.4" x2="572.85" y2="187.4" stroke="#555" stroke-width="0.6" stroke-dasharray="1.8,1.2"/>
<circle cx="568.95" cy="179.4" r="1.05" fill="#000"/>
<line x1="583.64" y1="160.5" x2="583.64" y2="177.2" stroke="#222" stroke-width="0.7" stroke-dasharray="1.1,1"/>
<line x1="579.74" y1="160.5" x2="587.54" y2="160.5" stroke="#555" stroke-width="0.6" stroke-dasharray="1.8,1.2"/>
<line x1="579.74" y1="177.2" x2="587.54" y2="177.2" stroke="#555" stroke-width="0.6" stroke-dasharray="1.8,1.2"/>
<circle cx="583.64" cy="168.8" r="1.05" fill="#000"/>
<line x1="598.33" y1="136.4" x2="598.33" y2="152.8" stroke="#222" stroke-width="0.7" stroke-dasharray="1.1,1"/>
<line x1="594.43" y1="136.4" x2="602.23" y2="136.4" stroke="#555" stroke-width="0.6" stroke-dasharray="1.8,1.2"/>
<line x1="594.43" y1="152.8" x2="602.23" y2="152.8" stroke="#555" stroke-width="0.6" stroke-dasharray="1.8,1.2"/>
<circle cx="598.33" cy="144.7" r="1.05" fill="#000"/>
<line x1="613.02" y1="160.5" x2="613.02" y2="175.6" stroke="#222" stroke-width="0.7" stroke-dasharray="1.1,1"/>
<line x1="609.12" y1="160.5" x2="616.92" y2="160.5" stroke="#555" stroke-width="0.6" stroke-dasharray="1.8,1.2"/>
<line x1="609.12" y1="175.6" x2="616.92" y2="175.6" stroke="#555" stroke-width="0.6" stroke-dasharray="1.8,1.2"/>
<circle cx="613.02" cy="168.2" r="1.05" fill="#000"/>
<line x1="627.71" y1="143.1" x2="627.71" y2="158.2" stroke="#222" stroke-width="0.7" stroke-dasharray="1.1,1"/>
<line x1="623.81" y1="143.1" x2="631.61" y2="143.1" stroke="#555" stroke-width="0.6" stroke-dasharray="1.8,1.2"/>
<line x1="623.81" y1="158.2" x2="631.61" y2="158.2" stroke="#555" stroke-width="0.6" stroke-dasharray="1.8,1.2"/>
<circle cx="627.71" cy="150.8" r="1.05" fill="#000"/>
<line x1="642.4" y1="170.1" x2="642.4" y2="185.5" stroke="#222" stroke-width="0.7" stroke-dasharray="1.1,1"/>
<line x1="638.5" y1="170.1" x2="646.3" y2="170.1" stroke="#555" stroke-width="0.6" stroke-dasharray="1.8,1.2"/>
<line x1="638.5" y1="185.5" x2="646.3" y2="185.5" stroke="#555" stroke-width="0.6" stroke-dasharray="1.8,1.2"/>
<circle cx="642.4" cy="177.8" r="1.05" fill="#000"/>
<line x1="657.09" y1="179.1" x2="657.09" y2="194.2" stroke="#222" stroke-width="0.7" stroke-dasharray="1.1,1"/>
<line x1="653.19" y1="179.1" x2="660.99" y2="179.1" stroke="#555" stroke-width="0.6" stroke-dasharray="1.8,1.2"/>
<line x1="653.19" y1="194.2" x2="660.99" y2="194.2" stroke="#555" stroke-width="0.6" stroke-dasharray="1.8,1.2"/>
<circle cx="657.09" cy="186.5" r="1.05" fill="#000"/>
<line x1="671.78" y1="217" x2="671.78" y2="233.7" stroke="#222" stroke-width="0.7" stroke-dasharray="1.1,1"/>
<line x1="667.88" y1="217" x2="675.68" y2="217" stroke="#555" stroke-width="0.6" stroke-dasharray="1.8,1.2"/>
<line x1="667.88" y1="233.7" x2="675.68" y2="233.7" stroke="#555" stroke-width="0.6" stroke-dasharray="1.8,1.2"/>
<circle cx="671.78" cy="225.3" r="1.05" fill="#000"/>
<rect x="491.6" y="235" width="7.8" height="3.2" fill="#000"/>
<rect x="506.29" y="235" width="7.8" height="3.2" fill="#000"/>
<rect x="520.98" y="235" width="7.8" height="3.2" fill="#000"/>
<rect x="535.67" y="235" width="7.8" height="3.2" fill="#000"/>
<rect x="550.36" y="235" width="7.8" height="3.2" fill="#000"/>
<rect x="565.05" y="235" width="7.8" height="3.2" fill="#000"/>
<rect x="579.74" y="235" width="7.8" height="3.2" fill="#000"/>
<rect x="594.43" y="235" width="7.8" height="3.2" fill="#000"/>
<rect x="609.12" y="235" width="7.8" height="3.2" fill="#000"/>
<rect x="623.81" y="235" width="7.8" height="3.2" fill="#000"/>
<rect x="638.5" y="235" width="7.8" height="3.2" fill="#000"/>
<rect x="653.19" y="235" width="7.8" height="3.2" fill="#000"/>
<rect x="667.88" y="235" width="7.8" height="3.2" fill="#000"/>
<line x1="495.5" y1="238.2" x2="495.5" y2="239.6" stroke="#a0a0a0" stroke-width="0.5"/>
<line x1="510.19" y1="238.2" x2="510.19" y2="239.6" stroke="#a0a0a0" stroke-width="0.5"/>
<line x1="524.88" y1="238.2" x2="524.88" y2="239.6" stroke="#a0a0a0" stroke-width="0.5"/>
<line x1="539.57" y1="238.2" x2="539.57" y2="239.6" stroke="#a0a0a0" stroke-width="0.5"/>
<line x1="554.26" y1="238.2" x2="554.26" y2="239.6" stroke="#a0a0a0" stroke-width="0.5"/>
<line x1="568.95" y1="238.2" x2="568.95" y2="239.6" stroke="#a0a0a0" stroke-width="0.5"/>
<line x1="583.64" y1="238.2" x2="583.64" y2="239.6" stroke="#a0a0a0" stroke-width="0.5"/>
<line x1="598.33" y1="238.2" x2="598.33" y2="239.6" stroke="#a0a0a0" stroke-width="0.5"/>
<line x1="613.02" y1="238.2" x2="613.02" y2="239.6" stroke="#a0a0a0" stroke-width="0.5"/>
<line x1="627.71" y1="238.2" x2="627.71" y2="239.6" stroke="#a0a0a0" stroke-width="0.5"/>
<line x1="642.4" y1="238.2" x2="642.4" y2="239.6" stroke="#a0a0a0" stroke-width="0.5"/>
<line x1="657.09" y1="238.2" x2="657.09" y2="239.6" stroke="#a0a0a0" stroke-width="0.5"/>
<line x1="671.78" y1="238.2" x2="671.78" y2="239.6" stroke="#a0a0a0" stroke-width="0.5"/>
<line x1="485.4" y1="136" x2="486.8" y2="136" stroke="#a0a0a0" stroke-width="0.5"/>
<line x1="485.4" y1="167.2" x2="486.8" y2="167.2" stroke="#a0a0a0" stroke-width="0.5"/>
<line x1="485.4" y1="197.7" x2="486.8" y2="197.7" stroke="#a0a0a0" stroke-width="0.5"/>
<line x1="485.4" y1="228.2" x2="486.8" y2="228.2" stroke="#a0a0a0" stroke-width="0.5"/>
<rect x="54.5" y="260" width="193.7" height="111.3" fill="#fff" stroke="#b0b0b0" stroke-width="0.85"/>
<path d="M63.1,355.7C63.83,354.1 65.88,349.02 67.5,346.1C69.12,343.18 71.05,340.3 72.8,338.2C74.55,336.1 76.4,334.47 78,333.5C79.6,332.53 80.5,332.2 82.4,332.4C84.3,332.6 86.97,333.93 89.4,334.7C91.83,335.47 94.52,337.15 97,337C99.48,336.85 101.62,335.78 104.3,333.8C106.98,331.82 110.47,327.48 113.1,325.1C115.73,322.72 118.2,320.62 120.1,319.5C122,318.38 122.45,318.05 124.5,318.4C126.55,318.75 129.92,320.57 132.4,321.6C134.88,322.63 136.78,324.45 139.4,324.6C142.02,324.75 145.5,323.07 148.1,322.5C150.7,321.93 152.37,320.97 155,321.2C157.63,321.43 161.28,323.02 163.9,323.9C166.52,324.78 167.68,326.22 170.7,326.5C173.72,326.78 178.35,325.1 182,325.6C185.65,326.1 189.6,328.27 192.6,329.5C195.6,330.73 197.82,332.13 200,333C202.18,333.87 203.43,335.15 205.7,334.7C207.97,334.25 210.83,333.65 213.6,330.3C216.37,326.95 219.38,320 222.3,314.6C225.22,309.2 228.27,303.07 231.1,297.9C233.93,292.73 237.93,285.98 239.3,283.6" stroke="#2a2a2a" stroke-width="0.68" fill="none"/>
<path d="M63.1,345.2C63.83,344.18 65.88,341.28 67.5,339.1C69.12,336.92 71.05,334 72.8,332.1C74.55,330.2 76.33,328.63 78,327.7C79.67,326.77 80.9,326.5 82.8,326.5C84.7,326.5 87.03,327.12 89.4,327.7C91.77,328.28 94.52,330 97,330C99.48,330 101.62,329.25 104.3,327.7C106.98,326.15 110.47,322.6 113.1,320.7C115.73,318.8 118.2,317.18 120.1,316.3C122,315.42 122.45,315.05 124.5,315.4C126.55,315.75 129.92,317.37 132.4,318.4C134.88,319.43 136.78,321.42 139.4,321.6C142.02,321.78 145.5,320.08 148.1,319.5C150.7,318.92 152.37,317.9 155,318.1C157.63,318.3 161.28,319.83 163.9,320.7C166.52,321.57 167.68,323.07 170.7,323.3C173.72,323.53 178.35,321.8 182,322.1C185.65,322.4 189.77,324.28 192.6,325.1C195.43,325.92 196.97,326.57 199,327C201.03,327.43 202.37,328.9 204.8,327.7C207.23,326.5 210.68,324.18 213.6,319.8C216.52,315.42 219.38,307.53 222.3,301.4C225.22,295.27 228.27,288.9 231.1,283C233.93,277.1 237.93,268.83 239.3,266" stroke="#3a3a3a" stroke-width="0.62" fill="none" stroke-dasharray="1.7,1.3"/>
<path d="M63.1,366.2C63.83,364.45 65.88,359.05 67.5,355.7C69.12,352.35 71.05,348.58 72.8,346.1C74.55,343.62 76.4,341.92 78,340.8C79.6,339.68 80.5,339.33 82.4,339.4C84.3,339.47 86.97,340.52 89.4,341.2C91.83,341.88 94.52,343.62 97,343.5C99.48,343.38 101.62,342.83 104.3,340.5C106.98,338.17 110.47,332.42 113.1,329.5C115.73,326.58 118.2,324.38 120.1,323C122,321.62 122.45,320.93 124.5,321.2C126.55,321.47 129.92,323.6 132.4,324.6C134.88,325.6 136.78,327.12 139.4,327.2C142.02,327.28 145.5,325.65 148.1,325.1C150.7,324.55 152.37,323.62 155,323.9C157.63,324.18 161.28,325.87 163.9,326.8C166.52,327.73 167.68,329.12 170.7,329.5C173.72,329.88 178.35,328.23 182,329.1C185.65,329.97 189.6,332.88 192.6,334.7C195.6,336.52 197.67,338.68 200,340C202.33,341.32 204.33,342.52 206.6,342.6C208.87,342.68 210.98,342.83 213.6,340.5C216.22,338.17 219.38,332.92 222.3,328.6C225.22,324.28 228.27,319.03 231.1,314.6C233.93,310.17 237.93,304.1 239.3,302" stroke="#3a3a3a" stroke-width="0.62" fill="none" stroke-dasharray="1.7,1.3"/>
<rect x="63.1" y="367.9" width="39.4" height="3.4" fill="#000"/>
<rect x="102.5" y="367.9" width="19.5" height="3.4" fill="#000"/>
<path d="M103.3,367.85v3.5M110.14,367.85v3.5M112.27,367.85v3.5M114.86,367.85v3.5M118.29,367.85v3.5" stroke="#fff" stroke-width="0.6" fill="none" stroke-opacity="0.7"/>
<path d="M104.94,367.85v3.5M106.4,367.85v3.5M107.97,367.85v3.5M116.02,367.85v3.5M120.23,367.85v3.5" stroke="#fff" stroke-width="0.6" fill="none" stroke-opacity="0.95"/>
<rect x="122" y="367.9" width="65" height="3.4" fill="#000"/>
<rect x="187" y="367.9" width="18" height="3.4" fill="#000"/>
<path d="M192.01,367.85v3.5" stroke="#fff" stroke-width="0.5" fill="none" stroke-opacity="0.5"/>
<path d="M188.49,367.85v3.5M190.53,367.85v3.5M195.57,367.85v3.5M198.75,367.85v3.5M203.54,367.85v3.5" stroke="#fff" stroke-width="0.5" fill="none" stroke-opacity="0.7"/>
<rect x="205" y="367.9" width="11" height="3.4" fill="#000"/>
<path d="M210.19,367.85v3.5" stroke="#fff" stroke-width="0.6" fill="none" stroke-opacity="0.7"/>
<path d="M205.82,367.85v3.5M207.13,367.85v3.5M208.58,367.85v3.5M211.2,367.85v3.5M212.7,367.85v3.5M214.73,367.85v3.5" stroke="#fff" stroke-width="0.6" fill="none" stroke-opacity="0.95"/>
<path d="M216,367.9v3.4M219.23,367.9v3.4M221.58,367.9v3.4M224,367.9v3.4M226.4,367.9v3.4M227.74,367.9v3.4M229.96,367.9v3.4M231.64,367.9v3.4M232.95,367.9v3.4M235.93,367.9v3.4" stroke="#333" stroke-width="0.5" fill="none"/>
<line x1="71.2" y1="371.3" x2="71.2" y2="372.7" stroke="#a0a0a0" stroke-width="0.5"/>
<line x1="123.8" y1="371.3" x2="123.8" y2="372.7" stroke="#a0a0a0" stroke-width="0.5"/>
<line x1="176.8" y1="371.3" x2="176.8" y2="372.7" stroke="#a0a0a0" stroke-width="0.5"/>
<line x1="230" y1="371.3" x2="230" y2="372.7" stroke="#a0a0a0" stroke-width="0.5"/>
<line x1="53.1" y1="293.5" x2="54.5" y2="293.5" stroke="#a0a0a0" stroke-width="0.5"/>
<line x1="53.1" y1="327.2" x2="54.5" y2="327.2" stroke="#a0a0a0" stroke-width="0.5"/>
<line x1="53.1" y1="360.6" x2="54.5" y2="360.6" stroke="#a0a0a0" stroke-width="0.5"/>
<rect x="266.8" y="260.4" width="198.6" height="110.7" fill="#fff" stroke="#b0b0b0" stroke-width="0.85"/>
<path d="M275.9,297C276.75,297.05 279.43,297.02 281,297.3C282.57,297.58 283.3,297.75 285.3,298.7C287.3,299.65 290.22,300.95 293,303C295.78,305.05 298.83,308.17 302,311C305.17,313.83 308.73,317.75 312,320C315.27,322.25 318.43,324.33 321.6,324.5C324.77,324.67 327.93,323.25 331,321C334.07,318.75 337,314.17 340,311C343,307.83 345.97,304.05 349,302C352.03,299.95 355.53,298.98 358.2,298.7C360.87,298.42 362.62,299.1 365,300.3C367.38,301.5 369.78,303.95 372.5,305.9C375.22,307.85 378.37,310.28 381.3,312C384.23,313.72 387.17,315.45 390.1,316.2C393.03,316.95 396.58,316.43 398.9,316.5C401.22,316.57 402.55,316.42 404,316.6C405.45,316.78 405.83,316.03 407.6,317.6C409.37,319.17 412.25,322.4 414.6,326C416.95,329.6 419.35,334.95 421.7,339.2C424.05,343.45 426.37,348.43 428.7,351.5C431.03,354.57 433.37,357.17 435.7,357.6C438.03,358.03 440.37,356.28 442.7,354.1C445.03,351.92 447.45,347.72 449.7,344.5C451.95,341.28 455.12,336.42 456.2,334.8" stroke="#2a2a2a" stroke-width="0.68" fill="none"/>
<path d="M275.9,265.1C276.75,265.75 279.32,267.52 281,269C282.68,270.48 283.6,271 286,274C288.4,277 292.57,282.83 295.4,287C298.23,291.17 300.23,294.83 303,299C305.77,303.17 308.9,308.7 312,312C315.1,315.3 318.43,318.13 321.6,318.8C324.77,319.47 327.93,318.13 331,316C334.07,313.87 337,309.08 340,306C343,302.92 345.92,299.43 349,297.5C352.08,295.57 355.83,294.65 358.5,294.4C361.17,294.15 362.67,294.9 365,296C367.33,297.1 369.78,299.07 372.5,301C375.22,302.93 378.37,305.72 381.3,307.6C384.23,309.48 387.17,311.57 390.1,312.3C393.03,313.03 396.75,312.12 398.9,312C401.05,311.88 401.55,311.3 403,311.6C404.45,311.9 405.67,312.27 407.6,313.8C409.53,315.33 412.25,317.73 414.6,320.8C416.95,323.87 419.35,328.55 421.7,332.2C424.05,335.85 426.52,339.92 428.7,342.7C430.88,345.48 432.47,348.75 434.8,348.9C437.13,349.05 440.22,346.53 442.7,343.6C445.18,340.67 447.45,335.98 449.7,331.3C451.95,326.62 455.12,318.13 456.2,315.5" stroke="#3a3a3a" stroke-width="0.62" fill="none" stroke-dasharray="1.7,1.3"/>
<path d="M275.9,328.2C276.75,327.33 279.32,324.53 281,323C282.68,321.47 283.88,320.08 286,319C288.12,317.92 291.03,316.5 293.7,316.5C296.37,316.5 298.95,317.33 302,319C305.05,320.67 308.73,324.57 312,326.5C315.27,328.43 318.43,330.52 321.6,330.6C324.77,330.68 327.93,329.35 331,327C334.07,324.65 337,319.83 340,316.5C343,313.17 345.92,309.28 349,307C352.08,304.72 355.83,303.17 358.5,302.8C361.17,302.43 362.67,303.65 365,304.8C367.33,305.95 369.78,307.77 372.5,309.7C375.22,311.63 378.37,314.7 381.3,316.4C384.23,318.1 387.17,319.25 390.1,319.9C393.03,320.55 396.75,320.15 398.9,320.3C401.05,320.45 401.55,320.28 403,320.8C404.45,321.32 405.67,321.5 407.6,323.4C409.53,325.3 412.25,328.4 414.6,332.2C416.95,336 419.35,341.82 421.7,346.2C424.05,350.58 426.13,355.13 428.7,358.5C431.27,361.87 434.77,365.28 437.1,366.4C439.43,367.52 440.6,366.22 442.7,365.2C444.8,364.18 447.65,362 449.7,360.3C451.75,358.6 454.12,355.88 455,355" stroke="#3a3a3a" stroke-width="0.62" fill="none" stroke-dasharray="1.7,1.3"/>
<rect x="276.1" y="367.6" width="23.9" height="3.4" fill="#000"/>
<path d="M277.31,367.55v3.5M289.8,367.55v3.5M294.83,367.55v3.5M298.82,367.55v3.5" stroke="#fff" stroke-width="0.5" fill="none" stroke-opacity="0.5"/>
<path d="M280.99,367.55v3.5M297.24,367.55v3.5" stroke="#fff" stroke-width="0.5" fill="none" stroke-opacity="0.7"/>
<path d="M285.19,367.55v3.5" stroke="#fff" stroke-width="0.5" fill="none" stroke-opacity="0.95"/>
<rect x="302" y="367.6" width="6" height="3.4" fill="#000"/>
<path d="M303.34,367.55v3.5" stroke="#fff" stroke-width="0.5" fill="none" stroke-opacity="0.5"/>
<path d="M306.56,367.55v3.5" stroke="#fff" stroke-width="0.5" fill="none" stroke-opacity="0.7"/>
<rect x="308" y="367.6" width="138" height="3.4" fill="#000"/>
<path d="M446,367.6v3.4M447.17,367.6v3.4M448.39,367.6v3.4M449.58,367.6v3.4M451.04,367.6v3.4M452.36,367.6v3.4M453.79,367.6v3.4" stroke="#444" stroke-width="0.55" fill="none"/>
<line x1="276.9" y1="371.1" x2="276.9" y2="372.5" stroke="#a0a0a0" stroke-width="0.5"/>
<line x1="339.2" y1="371.1" x2="339.2" y2="372.5" stroke="#a0a0a0" stroke-width="0.5"/>
<line x1="401.4" y1="371.1" x2="401.4" y2="372.5" stroke="#a0a0a0" stroke-width="0.5"/>
<line x1="463.3" y1="371.1" x2="463.3" y2="372.5" stroke="#a0a0a0" stroke-width="0.5"/>
<line x1="265.4" y1="268.5" x2="266.8" y2="268.5" stroke="#a0a0a0" stroke-width="0.5"/>
<line x1="265.4" y1="294.3" x2="266.8" y2="294.3" stroke="#a0a0a0" stroke-width="0.5"/>
<line x1="265.4" y1="320.3" x2="266.8" y2="320.3" stroke="#a0a0a0" stroke-width="0.5"/>
<line x1="265.4" y1="346.1" x2="266.8" y2="346.1" stroke="#a0a0a0" stroke-width="0.5"/>
<rect x="484.8" y="259.7" width="194.7" height="110.5" fill="#fff" stroke="#b0b0b0" stroke-width="0.85"/>
<path d="M493.3,349.2C494.75,349.67 499.05,351.03 502,352C504.95,352.97 508.07,354.33 511,355C513.93,355.67 516.43,356.08 519.6,356C522.77,355.92 526.6,355.25 530,354.5C533.4,353.75 536.92,352.32 540,351.5C543.08,350.68 545.5,350.02 548.5,349.6C551.5,349.18 554.78,349.22 558,349C561.22,348.78 564.8,348.67 567.8,348.3C570.8,347.93 573.33,347.23 576,346.8C578.67,346.37 581.3,345.7 583.8,345.7C586.3,345.7 588.63,346 591,346.8C593.37,347.6 595.5,348.88 598,350.5C600.5,352.12 603.62,355.15 606,356.5C608.38,357.85 610.3,358.52 612.3,358.6C614.3,358.68 616.18,357.93 618,357C619.82,356.07 621,355.02 623.2,353C625.4,350.98 628.53,347.85 631.2,344.9C633.87,341.95 636.52,338.63 639.2,335.3C641.88,331.97 644.62,328.25 647.3,324.9C649.98,321.55 652.63,318.42 655.3,315.2C657.97,311.98 660.7,308.75 663.3,305.6C665.9,302.45 669.63,297.85 670.9,296.3" stroke="#2a2a2a" stroke-width="0.68" fill="none"/>
<path d="M493.3,338.3C494.75,338.92 499.05,340.72 502,342C504.95,343.28 508.07,345.12 511,346C513.93,346.88 516.43,347.22 519.6,347.3C522.77,347.38 526.6,347.05 530,346.5C533.4,345.95 536.92,344.67 540,344C543.08,343.33 545.5,342.7 548.5,342.5C551.5,342.3 554.78,342.72 558,342.8C561.22,342.88 564.8,343.22 567.8,343C570.8,342.78 573.33,341.9 576,341.5C578.67,341.1 581.3,340.6 583.8,340.6C586.3,340.6 588.63,340.77 591,341.5C593.37,342.23 595.5,343.5 598,345C600.5,346.5 603.55,349.27 606,350.5C608.45,351.73 610.7,352.32 612.7,352.4C614.7,352.48 616.25,351.85 618,351C619.75,350.15 621,349.65 623.2,347.3C625.4,344.95 628.53,340.78 631.2,336.9C633.87,333.02 636.52,328.33 639.2,324C641.88,319.67 644.62,315.43 647.3,310.9C649.98,306.37 652.37,302.37 655.3,296.8C658.23,291.23 662.3,282.87 664.9,277.5C667.5,272.13 669.9,266.75 670.9,264.6" stroke="#3a3a3a" stroke-width="0.62" fill="none" stroke-dasharray="1.7,1.3"/>
<path d="M493.3,360.1C494.75,360.42 499.05,361.35 502,362C504.95,362.65 508.07,363.57 511,364C513.93,364.43 516.43,364.85 519.6,364.6C522.77,364.35 526.6,363.43 530,362.5C533.4,361.57 536.92,359.93 540,359C543.08,358.07 545.5,357.48 548.5,356.9C551.5,356.32 554.78,355.92 558,355.5C561.22,355.08 564.8,354.9 567.8,354.4C570.8,353.9 573.33,352.98 576,352.5C578.67,352.02 581.3,351.42 583.8,351.5C586.3,351.58 588.63,352 591,353C593.37,354 595.5,355.83 598,357.5C600.5,359.17 603.55,361.75 606,363C608.45,364.25 610.7,364.87 612.7,365C614.7,365.13 616.25,364.6 618,363.8C619.75,363 621,362 623.2,360.2C625.4,358.4 628.53,355.42 631.2,353C633.87,350.58 636.52,347.98 639.2,345.7C641.88,343.42 644.62,341.3 647.3,339.3C649.98,337.3 652.63,335.3 655.3,333.7C657.97,332.1 660.7,330.77 663.3,329.7C665.9,328.63 669.63,327.7 670.9,327.3" stroke="#3a3a3a" stroke-width="0.62" fill="none" stroke-dasharray="1.7,1.3"/>
<rect x="493.2" y="366.9" width="9.8" height="3.3" fill="#000"/>
<path d="M494.09,366.85v3.4M498.93,366.85v3.4" stroke="#fff" stroke-width="0.5" fill="none" stroke-opacity="0.7"/>
<path d="M502.04,366.85v3.4" stroke="#fff" stroke-width="0.5" fill="none" stroke-opacity="0.95"/>
<rect x="503" y="366.9" width="105" height="3.3" fill="#000"/>
<path d="M503.61,366.85v3.4M505.65,366.85v3.4M508.22,366.85v3.4M511.3,366.85v3.4M517.02,366.85v3.4M518.67,366.85v3.4M521.9,366.85v3.4M524.65,366.85v3.4M531.01,366.85v3.4M547.34,366.85v3.4M548.69,366.85v3.4M551.93,366.85v3.4M554.4,366.85v3.4M556.1,366.85v3.4M570.5,366.85v3.4M573.36,366.85v3.4M575.4,366.85v3.4M577.09,366.85v3.4M580.87,366.85v3.4M582.12,366.85v3.4M593.11,366.85v3.4M595.37,366.85v3.4M598.53,366.85v3.4M600.21,366.85v3.4" stroke="#fff" stroke-width="0.6" fill="none" stroke-opacity="0.7"/>
<path d="M514.46,366.85v3.4M526.62,366.85v3.4M528.08,366.85v3.4M533.66,366.85v3.4M535.65,366.85v3.4M537.18,366.85v3.4M538.49,366.85v3.4M539.63,366.85v3.4M541.74,366.85v3.4M542.88,366.85v3.4M545.12,366.85v3.4M553.21,366.85v3.4M559,366.85v3.4M561.9,366.85v3.4M563.89,366.85v3.4M567.02,366.85v3.4M569.21,366.85v3.4M579.58,366.85v3.4M584.21,366.85v3.4M587.5,366.85v3.4M590.64,366.85v3.4M601.75,366.85v3.4M604.23,366.85v3.4M607,366.85v3.4" stroke="#fff" stroke-width="0.6" fill="none" stroke-opacity="0.95"/>
<rect x="608" y="366.9" width="29" height="3.3" fill="#000"/>
<rect x="637" y="366.9" width="23" height="3.3" fill="#000"/>
<path d="M640,366.85v3.4M642.59,366.85v3.4M645.27,366.85v3.4M647.05,366.85v3.4M649.54,366.85v3.4M659.64,366.85v3.4" stroke="#fff" stroke-width="0.6" fill="none" stroke-opacity="0.7"/>
<path d="M638.51,366.85v3.4M643.51,366.85v3.4M651.56,366.85v3.4M653.19,366.85v3.4M655.02,366.85v3.4M657.57,366.85v3.4" stroke="#fff" stroke-width="0.6" fill="none" stroke-opacity="0.95"/>
<path d="M660,366.9v3.3M663.05,366.9v3.3M665.83,366.9v3.3M668.47,366.9v3.3" stroke="#333" stroke-width="0.5" fill="none"/>
<line x1="493.3" y1="370.2" x2="493.3" y2="371.6" stroke="#a0a0a0" stroke-width="0.5"/>
<line x1="529.2" y1="370.2" x2="529.2" y2="371.6" stroke="#a0a0a0" stroke-width="0.5"/>
<line x1="565.2" y1="370.2" x2="565.2" y2="371.6" stroke="#a0a0a0" stroke-width="0.5"/>
<line x1="600.8" y1="370.2" x2="600.8" y2="371.6" stroke="#a0a0a0" stroke-width="0.5"/>
<line x1="636.8" y1="370.2" x2="636.8" y2="371.6" stroke="#a0a0a0" stroke-width="0.5"/>
<line x1="672.1" y1="370.2" x2="672.1" y2="371.6" stroke="#a0a0a0" stroke-width="0.5"/>
<line x1="483.4" y1="264.3" x2="484.8" y2="264.3" stroke="#a0a0a0" stroke-width="0.5"/>
<line x1="483.4" y1="292.5" x2="484.8" y2="292.5" stroke="#a0a0a0" stroke-width="0.5"/>
<line x1="483.4" y1="320.8" x2="484.8" y2="320.8" stroke="#a0a0a0" stroke-width="0.5"/>
<line x1="483.4" y1="349.2" x2="484.8" y2="349.2" stroke="#a0a0a0" stroke-width="0.5"/>
<rect x="55.3" y="390.3" width="175.4" height="105.8" fill="#fff" stroke="#b0b0b0" stroke-width="0.85"/>
<rect x="63" y="395.5" width="159.1" height="95.4" fill="#bebebe"/>
<linearGradient id="g9" gradientUnits="userSpaceOnUse" x1="63" y1="412" x2="131" y2="378"><stop offset="0" stop-color="#375a8c"/><stop offset="0.04" stop-color="#33638d"/><stop offset="0.07" stop-color="#2e6d8e"/><stop offset="0.11" stop-color="#2a768e"/><stop offset="0.15" stop-color="#27808d"/><stop offset="0.19" stop-color="#24888d"/><stop offset="0.22" stop-color="#21918c"/><stop offset="0.26" stop-color="#239989"/><stop offset="0.3" stop-color="#25a185"/><stop offset="0.34" stop-color="#27a882"/><stop offset="0.38" stop-color="#2aaf7f"/><stop offset="0.41" stop-color="#37b678"/><stop offset="0.45" stop-color="#44bc70"/><stop offset="0.48" stop-color="#4ec16b"/><stop offset="0.51" stop-color="#58c666"/><stop offset="0.54" stop-color="#63ca5f"/><stop offset="0.56" stop-color="#71ce56"/><stop offset="0.6" stop-color="#7ed14e"/><stop offset="0.63" stop-color="#8ad446"/><stop offset="0.66" stop-color="#97d73e"/><stop offset="0.69" stop-color="#a4da36"/><stop offset="0.73" stop-color="#addc30"/><stop offset="0.77" stop-color="#b7dd2f"/><stop offset="0.81" stop-color="#c0df2d"/><stop offset="0.85" stop-color="#cae02c"/><stop offset="0.89" stop-color="#d0e12b"/><stop offset="0.93" stop-color="#d7e22a"/><stop offset="0.96" stop-color="#dde329"/><stop offset="1" stop-color="#e3e329"/></linearGradient>
<path d="M130.62,395.5L130.62,400.27L130.62,400.27L130.62,402.65L126.64,402.65L126.64,405.04L106.75,405.04L106.75,407.43L102.78,407.43L102.78,409.81L98.8,409.81L98.8,412.19L86.87,412.19L86.87,416.96L82.89,416.96L82.89,419.35L63,419.35L63,416.96L63,416.96L63,412.19L63,412.19L63,409.81L63,409.81L63,407.43L63,407.43L63,405.04L63,405.04L63,402.65L70.95,402.65L70.95,400.27L78.91,400.27L78.91,395.5Z" fill="url(#g9)"/>
<path d="M65.2,406C68.5,409 70,413 68.9,417.3" stroke="#151515" stroke-width="0.5" fill="none"/>
<path d="M73.2,401.9C77.5,405.5 80.5,411 80.2,417.9" stroke="#151515" stroke-width="0.5" fill="none"/>
<path d="M80.8,398.9C84.5,402 88,406 90.1,410.3" stroke="#151515" stroke-width="0.5" fill="none"/>
<path d="M89,396.8C93,400.5 97,404.5 99.5,408.5" stroke="#151515" stroke-width="0.5" fill="none"/>
<path d="M99.8,396.8C102,399.5 105,402 107.7,403.3" stroke="#151515" stroke-width="0.5" fill="none"/>
<path d="M112,396.3C115.5,399 120,401.3 124.8,402.4" stroke="#151515" stroke-width="0.5" fill="none"/>
<linearGradient id="g10" gradientUnits="userSpaceOnUse" x1="160" y1="395.5" x2="160" y2="405"><stop offset="0" stop-color="#eae428"/><stop offset="0.25" stop-color="#dae22a"/><stop offset="0.5" stop-color="#cae02c"/><stop offset="0.75" stop-color="#bade2e"/><stop offset="1" stop-color="#aadb32"/></linearGradient>
<path d="M178.35,395.5L178.35,402.65L174.37,402.65L174.37,405.04L154.48,405.04L154.48,402.65L150.5,402.65L150.5,395.5Z" fill="url(#g10)"/>
<path d="M160,396.2C165,397.8 170,397.8 175,396.8" stroke="#151515" stroke-width="0.5" fill="none"/>
<linearGradient id="g11" gradientUnits="userSpaceOnUse" x1="139" y1="418" x2="171" y2="430"><stop offset="0" stop-color="#44bc70"/><stop offset="0.25" stop-color="#4ec16b"/><stop offset="0.5" stop-color="#58c666"/><stop offset="0.75" stop-color="#63ca5f"/><stop offset="1" stop-color="#71ce56"/></linearGradient>
<path d="M162.44,414.58L162.44,416.96L166.42,416.96L166.42,419.35L170.39,419.35L170.39,426.5L170.39,426.5L170.39,428.89L166.42,428.89L166.42,431.27L158.46,431.27L158.46,433.66L150.5,433.66L150.5,431.27L142.55,431.27L142.55,428.89L142.55,428.89L142.55,426.5L138.57,426.5L138.57,419.35L142.55,419.35L142.55,416.96L146.53,416.96L146.53,414.58Z" fill="url(#g11)"/>
<path d="M144.8,428.7C152,429.5 160,428.5 164,425C167.5,422 167.5,418.5 165,417C163,416 160.5,415.8 158.7,416" stroke="#151515" stroke-width="0.5" fill="none"/>
<linearGradient id="g12" gradientUnits="userSpaceOnUse" x1="206.5" y1="425" x2="222" y2="412"><stop offset="0" stop-color="#a4da36"/><stop offset="0.25" stop-color="#b3dd2f"/><stop offset="0.5" stop-color="#c3df2d"/><stop offset="0.75" stop-color="#d3e12b"/><stop offset="1" stop-color="#e3e329"/></linearGradient>
<path d="M222.1,409.81L222.1,412.19L222.1,412.19L222.1,424.12L222.1,424.12L222.1,426.5L210.17,426.5L210.17,424.12L206.19,424.12L206.19,412.19L210.17,412.19L210.17,409.81Z" fill="url(#g12)"/>
<linearGradient id="g13" gradientUnits="userSpaceOnUse" x1="63" y1="440" x2="79" y2="448"><stop offset="0" stop-color="#2a788e"/><stop offset="0.25" stop-color="#25858d"/><stop offset="0.5" stop-color="#21918c"/><stop offset="0.75" stop-color="#249d87"/><stop offset="1" stop-color="#27a882"/></linearGradient>
<path d="M74.93,436.04L74.93,438.43L78.91,438.43L78.91,450.35L74.93,450.35L74.93,452.74L70.95,452.74L70.95,455.12L63,455.12L63,452.74L63,452.74L63,450.35L63,450.35L63,438.43L63,438.43L63,436.04Z" fill="url(#g13)"/>
<path d="M68.7,437.4C67,439.5 65.8,441.5 65,444" stroke="#151515" stroke-width="0.5" fill="none"/>
<path d="M76.9,440.1C74,443.5 72.3,447.5 71.4,451.8" stroke="#151515" stroke-width="0.5" fill="none"/>
<linearGradient id="g14" gradientUnits="userSpaceOnUse" x1="163" y1="450" x2="190" y2="450"><stop offset="0" stop-color="#eae428"/><stop offset="0.25" stop-color="#efe527"/><stop offset="0.5" stop-color="#f3e626"/><stop offset="0.75" stop-color="#f8e626"/><stop offset="1" stop-color="#fde725"/></linearGradient>
<path d="M182.32,440.81L182.32,443.2L186.3,443.2L186.3,445.58L190.28,445.58L190.28,457.51L186.3,457.51L186.3,459.89L166.42,459.89L166.42,457.51L162.44,457.51L162.44,445.58L166.42,445.58L166.42,443.2L170.39,443.2L170.39,440.81Z" fill="url(#g14)"/>
<path d="M168.8,445.8C172,444.5 177,443.6 181,443.7" stroke="#151515" stroke-width="0.5" fill="none"/>
<linearGradient id="g15" gradientUnits="userSpaceOnUse" x1="88" y1="471" x2="117" y2="455"><stop offset="0" stop-color="#40ba73"/><stop offset="0.09" stop-color="#4dc06c"/><stop offset="0.17" stop-color="#5ac764"/><stop offset="0.26" stop-color="#6bcc5a"/><stop offset="0.35" stop-color="#7ed14e"/><stop offset="0.44" stop-color="#91d542"/><stop offset="0.52" stop-color="#a4da36"/><stop offset="0.61" stop-color="#b7dd2f"/><stop offset="0.7" stop-color="#cae02c"/><stop offset="0.77" stop-color="#d0e12b"/><stop offset="0.85" stop-color="#d7e22a"/><stop offset="0.93" stop-color="#dde329"/><stop offset="1" stop-color="#e3e329"/></linearGradient>
<path d="M110.73,452.74L110.73,455.12L114.71,455.12L114.71,457.51L118.69,457.51L118.69,464.66L114.71,464.66L114.71,467.05L110.73,467.05L110.73,469.43L102.78,469.43L102.78,471.82L98.8,471.82L98.8,469.43L90.84,469.43L90.84,467.05L86.87,467.05L86.87,464.66L86.87,464.66L86.87,457.51L90.84,457.51L90.84,455.12L94.82,455.12L94.82,452.74Z" fill="url(#g15)"/>
<path d="M98.3,454.1C97.8,460 102,464 112.9,465.6" stroke="#151515" stroke-width="0.5" fill="none"/>
<path d="M89,461.1C92,464.5 96.5,467 101.8,468.1" stroke="#151515" stroke-width="0.5" fill="none"/>
<linearGradient id="g16" gradientUnits="userSpaceOnUse" x1="116" y1="481.5" x2="108" y2="491"><stop offset="0" stop-color="#21918c"/><stop offset="0.07" stop-color="#24898d"/><stop offset="0.15" stop-color="#27818d"/><stop offset="0.22" stop-color="#2a798e"/><stop offset="0.3" stop-color="#2d718e"/><stop offset="0.47" stop-color="#32668d"/><stop offset="0.65" stop-color="#375b8c"/><stop offset="0.82" stop-color="#3c508a"/><stop offset="1" stop-color="#404385"/></linearGradient>
<path d="M126.64,481.36L126.64,483.75L130.62,483.75L130.62,490.9L102.78,490.9L102.78,483.75L106.75,483.75L106.75,481.36Z" fill="url(#g16)"/>
<path d="M120.5,483.1L126.3,483.4" stroke="#151515" stroke-width="0.5" fill="none"/>
<path d="M108.8,484.8L129.8,488.3" stroke="#151515" stroke-width="0.5" fill="none"/>
<path d="M104.1,488.8L116.4,490.3" stroke="#151515" stroke-width="0.5" fill="none"/>
<line x1="101.3" y1="496.1" x2="101.3" y2="497.5" stroke="#a0a0a0" stroke-width="0.5"/>
<line x1="152.4" y1="496.1" x2="152.4" y2="497.5" stroke="#a0a0a0" stroke-width="0.5"/>
<line x1="203.4" y1="496.1" x2="203.4" y2="497.5" stroke="#a0a0a0" stroke-width="0.5"/>
<line x1="53.9" y1="413.2" x2="55.3" y2="413.2" stroke="#a0a0a0" stroke-width="0.5"/>
<line x1="53.9" y1="442.4" x2="55.3" y2="442.4" stroke="#a0a0a0" stroke-width="0.5"/>
<line x1="53.9" y1="471.3" x2="55.3" y2="471.3" stroke="#a0a0a0" stroke-width="0.5"/>
<linearGradient id="g17" x1="0" y1="1" x2="0" y2="0"><stop offset="0" stop-color="#423d82"/><stop offset="0.08" stop-color="#3b518b"/><stop offset="0.17" stop-color="#33638d"/><stop offset="0.25" stop-color="#2b748e"/><stop offset="0.33" stop-color="#25858d"/><stop offset="0.42" stop-color="#22958a"/><stop offset="0.5" stop-color="#26a584"/><stop offset="0.58" stop-color="#34b479"/><stop offset="0.67" stop-color="#51c369"/><stop offset="0.75" stop-color="#76cf53"/><stop offset="0.83" stop-color="#a0d938"/><stop offset="0.92" stop-color="#cbe02c"/><stop offset="1" stop-color="#f7e626"/></linearGradient>
<rect x="236.7" y="433" width="6.4" height="24.8" fill="url(#g17)"/>
<rect x="268.5" y="385.9" width="198.5" height="110.6" fill="#fff" stroke="#b0b0b0" stroke-width="0.85"/>
<line x1="274.3" y1="425" x2="282.1" y2="425" stroke="#555" stroke-width="0.6" stroke-dasharray="1.8,1.2"/>
<circle cx="278.2" cy="425" r="1.05" fill="#000"/>
<line x1="294.47" y1="409.3" x2="294.47" y2="416.6" stroke="#222" stroke-width="0.7" stroke-dasharray="1.1,1"/>
<line x1="290.57" y1="409.3" x2="298.37" y2="409.3" stroke="#555" stroke-width="0.6" stroke-dasharray="1.8,1.2"/>
<line x1="290.57" y1="416.6" x2="298.37" y2="416.6" stroke="#555" stroke-width="0.6" stroke-dasharray="1.8,1.2"/>
<circle cx="294.47" cy="412.9" r="1.05" fill="#000"/>
<line x1="310.74" y1="399.5" x2="310.74" y2="406.2" stroke="#222" stroke-width="0.7" stroke-dasharray="1.1,1"/>
<line x1="306.84" y1="399.5" x2="314.64" y2="399.5" stroke="#555" stroke-width="0.6" stroke-dasharray="1.8,1.2"/>
<line x1="306.84" y1="406.2" x2="314.64" y2="406.2" stroke="#555" stroke-width="0.6" stroke-dasharray="1.8,1.2"/>
<circle cx="310.74" cy="402.9" r="1.05" fill="#000"/>
<line x1="327.01" y1="390.8" x2="327.01" y2="397.5" stroke="#222" stroke-width="0.7" stroke-dasharray="1.1,1"/>
<line x1="323.11" y1="390.8" x2="330.91" y2="390.8" stroke="#555" stroke-width="0.6" stroke-dasharray="1.8,1.2"/>
<line x1="323.11" y1="397.5" x2="330.91" y2="397.5" stroke="#555" stroke-width="0.6" stroke-dasharray="1.8,1.2"/>
<circle cx="327.01" cy="394.1" r="1.05" fill="#000"/>
<line x1="343.28" y1="391.5" x2="343.28" y2="400.2" stroke="#222" stroke-width="0.7" stroke-dasharray="1.1,1"/>
<line x1="339.38" y1="391.5" x2="347.18" y2="391.5" stroke="#555" stroke-width="0.6" stroke-dasharray="1.8,1.2"/>
<line x1="339.38" y1="400.2" x2="347.18" y2="400.2" stroke="#555" stroke-width="0.6" stroke-dasharray="1.8,1.2"/>
<circle cx="343.28" cy="395.8" r="1.05" fill="#000"/>
<line x1="359.55" y1="402.5" x2="359.55" y2="413.3" stroke="#222" stroke-width="0.7" stroke-dasharray="1.1,1"/>
<line x1="355.65" y1="402.5" x2="363.45" y2="402.5" stroke="#555" stroke-width="0.6" stroke-dasharray="1.8,1.2"/>
<line x1="355.65" y1="413.3" x2="363.45" y2="413.3" stroke="#555" stroke-width="0.6" stroke-dasharray="1.8,1.2"/>
<circle cx="359.55" cy="407.9" r="1.05" fill="#000"/>
<line x1="375.82" y1="433.1" x2="375.82" y2="446.5" stroke="#222" stroke-width="0.7" stroke-dasharray="1.1,1"/>
<line x1="371.92" y1="433.1" x2="379.72" y2="433.1" stroke="#555" stroke-width="0.6" stroke-dasharray="1.8,1.2"/>
<line x1="371.92" y1="446.5" x2="379.72" y2="446.5" stroke="#555" stroke-width="0.6" stroke-dasharray="1.8,1.2"/>
<circle cx="375.82" cy="439.8" r="1.05" fill="#000"/>
<line x1="392.09" y1="462.3" x2="392.09" y2="477.4" stroke="#222" stroke-width="0.7" stroke-dasharray="1.1,1"/>
<line x1="388.19" y1="462.3" x2="395.99" y2="462.3" stroke="#555" stroke-width="0.6" stroke-dasharray="1.8,1.2"/>
<line x1="388.19" y1="477.4" x2="395.99" y2="477.4" stroke="#555" stroke-width="0.6" stroke-dasharray="1.8,1.2"/>
<circle cx="392.09" cy="470" r="1.05" fill="#000"/>
<line x1="408.36" y1="474.4" x2="408.36" y2="491.9" stroke="#222" stroke-width="0.7" stroke-dasharray="1.1,1"/>
<line x1="404.46" y1="474.4" x2="412.26" y2="474.4" stroke="#555" stroke-width="0.6" stroke-dasharray="1.8,1.2"/>
<line x1="404.46" y1="491.9" x2="412.26" y2="491.9" stroke="#555" stroke-width="0.6" stroke-dasharray="1.8,1.2"/>
<circle cx="408.36" cy="483.1" r="1.05" fill="#000"/>
<line x1="424.63" y1="470" x2="424.63" y2="486.5" stroke="#222" stroke-width="0.7" stroke-dasharray="1.1,1"/>
<line x1="420.73" y1="470" x2="428.53" y2="470" stroke="#555" stroke-width="0.6" stroke-dasharray="1.8,1.2"/>
<line x1="420.73" y1="486.5" x2="428.53" y2="486.5" stroke="#555" stroke-width="0.6" stroke-dasharray="1.8,1.2"/>
<circle cx="424.63" cy="478.1" r="1.05" fill="#000"/>
<line x1="440.9" y1="455.9" x2="440.9" y2="469.4" stroke="#222" stroke-width="0.7" stroke-dasharray="1.1,1"/>
<line x1="437" y1="455.9" x2="444.8" y2="455.9" stroke="#555" stroke-width="0.6" stroke-dasharray="1.8,1.2"/>
<line x1="437" y1="469.4" x2="444.8" y2="469.4" stroke="#555" stroke-width="0.6" stroke-dasharray="1.8,1.2"/>
<circle cx="440.9" cy="462.6" r="1.05" fill="#000"/>
<line x1="457.17" y1="445.5" x2="457.17" y2="455.6" stroke="#222" stroke-width="0.7" stroke-dasharray="1.1,1"/>
<line x1="453.27" y1="445.5" x2="461.07" y2="445.5" stroke="#555" stroke-width="0.6" stroke-dasharray="1.8,1.2"/>
<line x1="453.27" y1="455.6" x2="461.07" y2="455.6" stroke="#555" stroke-width="0.6" stroke-dasharray="1.8,1.2"/>
<circle cx="457.17" cy="450.2" r="1.05" fill="#000"/>
<rect x="274.3" y="493.2" width="7.8" height="3.4" fill="#000"/>
<rect x="290.57" y="493.2" width="7.8" height="3.4" fill="#000"/>
<rect x="306.84" y="493.2" width="7.8" height="3.4" fill="#000"/>
<rect x="323.11" y="493.2" width="7.8" height="3.4" fill="#000"/>
<rect x="339.38" y="493.2" width="7.8" height="3.4" fill="#000"/>
<rect x="355.65" y="493.2" width="7.8" height="3.4" fill="#000"/>
<rect x="371.92" y="493.2" width="7.8" height="3.4" fill="#000"/>
<rect x="388.19" y="493.2" width="7.8" height="3.4" fill="#000"/>
<rect x="404.46" y="493.2" width="7.8" height="3.4" fill="#000"/>
<rect x="420.73" y="493.2" width="7.8" height="3.4" fill="#000"/>
<rect x="437" y="493.2" width="7.8" height="3.4" fill="#000"/>
<rect x="453.27" y="493.2" width="7.8" height="3.4" fill="#000"/>
<line x1="278.2" y1="496.5" x2="278.2" y2="497.9" stroke="#a0a0a0" stroke-width="0.5"/>
<line x1="294.47" y1="496.5" x2="294.47" y2="497.9" stroke="#a0a0a0" stroke-width="0.5"/>
<line x1="310.74" y1="496.5" x2="310.74" y2="497.9" stroke="#a0a0a0" stroke-width="0.5"/>
<line x1="327.01" y1="496.5" x2="327.01" y2="497.9" stroke="#a0a0a0" stroke-width="0.5"/>
<line x1="343.28" y1="496.5" x2="343.28" y2="497.9" stroke="#a0a0a0" stroke-width="0.5"/>
<line x1="359.55" y1="496.5" x2="359.55" y2="497.9" stroke="#a0a0a0" stroke-width="0.5"/>
<line x1="375.82" y1="496.5" x2="375.82" y2="497.9" stroke="#a0a0a0" stroke-width="0.5"/>
<line x1="392.09" y1="496.5" x2="392.09" y2="497.9" stroke="#a0a0a0" stroke-width="0.5"/>
<line x1="408.36" y1="496.5" x2="408.36" y2="497.9" stroke="#a0a0a0" stroke-width="0.5"/>
<line x1="424.63" y1="496.5" x2="424.63" y2="497.9" stroke="#a0a0a0" stroke-width="0.5"/>
<line x1="440.9" y1="496.5" x2="440.9" y2="497.9" stroke="#a0a0a0" stroke-width="0.5"/>
<line x1="457.17" y1="496.5" x2="457.17" y2="497.9" stroke="#a0a0a0" stroke-width="0.5"/>
<line x1="267.1" y1="397.4" x2="268.5" y2="397.4" stroke="#a0a0a0" stroke-width="0.5"/>
<line x1="267.1" y1="425.2" x2="268.5" y2="425.2" stroke="#a0a0a0" stroke-width="0.5"/>
<line x1="267.1" y1="452.9" x2="268.5" y2="452.9" stroke="#a0a0a0" stroke-width="0.5"/>
<line x1="267.1" y1="480.8" x2="268.5" y2="480.8" stroke="#a0a0a0" stroke-width="0.5"/>
<rect x="487.3" y="385.4" width="192.9" height="110.7" fill="#fff" stroke="#b0b0b0" stroke-width="0.85"/>
<line x1="492.2" y1="409.4" x2="500" y2="409.4" stroke="#555" stroke-width="0.6" stroke-dasharray="1.8,1.2"/>
<circle cx="496.1" cy="409.4" r="1.05" fill="#000"/>
<line x1="510.77" y1="446.3" x2="510.77" y2="467.8" stroke="#222" stroke-width="0.7" stroke-dasharray="1.1,1"/>
<line x1="506.87" y1="446.3" x2="514.67" y2="446.3" stroke="#555" stroke-width="0.6" stroke-dasharray="1.8,1.2"/>
<line x1="506.87" y1="467.8" x2="514.67" y2="467.8" stroke="#555" stroke-width="0.6" stroke-dasharray="1.8,1.2"/>
<circle cx="510.77" cy="456.9" r="1.05" fill="#000"/>
<line x1="525.44" y1="427.3" x2="525.44" y2="445.3" stroke="#222" stroke-width="0.7" stroke-dasharray="1.1,1"/>
<line x1="521.54" y1="427.3" x2="529.34" y2="427.3" stroke="#555" stroke-width="0.6" stroke-dasharray="1.8,1.2"/>
<line x1="521.54" y1="445.3" x2="529.34" y2="445.3" stroke="#555" stroke-width="0.6" stroke-dasharray="1.8,1.2"/>
<circle cx="525.44" cy="436.3" r="1.05" fill="#000"/>
<line x1="540.11" y1="418.4" x2="540.11" y2="435.1" stroke="#222" stroke-width="0.7" stroke-dasharray="1.1,1"/>
<line x1="536.21" y1="418.4" x2="544.01" y2="418.4" stroke="#555" stroke-width="0.6" stroke-dasharray="1.8,1.2"/>
<line x1="536.21" y1="435.1" x2="544.01" y2="435.1" stroke="#555" stroke-width="0.6" stroke-dasharray="1.8,1.2"/>
<circle cx="540.11" cy="426.7" r="1.05" fill="#000"/>
<line x1="554.78" y1="400.4" x2="554.78" y2="417.1" stroke="#222" stroke-width="0.7" stroke-dasharray="1.1,1"/>
<line x1="550.88" y1="400.4" x2="558.68" y2="400.4" stroke="#555" stroke-width="0.6" stroke-dasharray="1.8,1.2"/>
<line x1="550.88" y1="417.1" x2="558.68" y2="417.1" stroke="#555" stroke-width="0.6" stroke-dasharray="1.8,1.2"/>
<circle cx="554.78" cy="408.7" r="1.05" fill="#000"/>
<line x1="569.45" y1="395.6" x2="569.45" y2="412.3" stroke="#222" stroke-width="0.7" stroke-dasharray="1.1,1"/>
<line x1="565.55" y1="395.6" x2="573.35" y2="395.6" stroke="#555" stroke-width="0.6" stroke-dasharray="1.8,1.2"/>
<line x1="565.55" y1="412.3" x2="573.35" y2="412.3" stroke="#555" stroke-width="0.6" stroke-dasharray="1.8,1.2"/>
<circle cx="569.45" cy="403.9" r="1.05" fill="#000"/>
<line x1="584.12" y1="390.4" x2="584.12" y2="407.1" stroke="#222" stroke-width="0.7" stroke-dasharray="1.1,1"/>
<line x1="580.22" y1="390.4" x2="588.02" y2="390.4" stroke="#555" stroke-width="0.6" stroke-dasharray="1.8,1.2"/>
<line x1="580.22" y1="407.1" x2="588.02" y2="407.1" stroke="#555" stroke-width="0.6" stroke-dasharray="1.8,1.2"/>
<circle cx="584.12" cy="398.8" r="1.05" fill="#000"/>
<line x1="598.79" y1="396.5" x2="598.79" y2="414.2" stroke="#222" stroke-width="0.7" stroke-dasharray="1.1,1"/>
<line x1="594.89" y1="396.5" x2="602.69" y2="396.5" stroke="#555" stroke-width="0.6" stroke-dasharray="1.8,1.2"/>
<line x1="594.89" y1="414.2" x2="602.69" y2="414.2" stroke="#555" stroke-width="0.6" stroke-dasharray="1.8,1.2"/>
<circle cx="598.79" cy="405.2" r="1.05" fill="#000"/>
<line x1="613.46" y1="391.7" x2="613.46" y2="407.4" stroke="#222" stroke-width="0.7" stroke-dasharray="1.1,1"/>
<line x1="609.56" y1="391.7" x2="617.36" y2="391.7" stroke="#555" stroke-width="0.6" stroke-dasharray="1.8,1.2"/>
<line x1="609.56" y1="407.4" x2="617.36" y2="407.4" stroke="#555" stroke-width="0.6" stroke-dasharray="1.8,1.2"/>
<circle cx="613.46" cy="399.7" r="1.05" fill="#000"/>
<line x1="628.13" y1="395.6" x2="628.13" y2="411.6" stroke="#222" stroke-width="0.7" stroke-dasharray="1.1,1"/>
<line x1="624.23" y1="395.6" x2="632.03" y2="395.6" stroke="#555" stroke-width="0.6" stroke-dasharray="1.8,1.2"/>
<line x1="624.23" y1="411.6" x2="632.03" y2="411.6" stroke="#555" stroke-width="0.6" stroke-dasharray="1.8,1.2"/>
<circle cx="628.13" cy="403.6" r="1.05" fill="#000"/>
<line x1="642.8" y1="411.3" x2="642.8" y2="427.3" stroke="#222" stroke-width="0.7" stroke-dasharray="1.1,1"/>
<line x1="638.9" y1="411.3" x2="646.7" y2="411.3" stroke="#555" stroke-width="0.6" stroke-dasharray="1.8,1.2"/>
<line x1="638.9" y1="427.3" x2="646.7" y2="427.3" stroke="#555" stroke-width="0.6" stroke-dasharray="1.8,1.2"/>
<circle cx="642.8" cy="419.3" r="1.05" fill="#000"/>
<line x1="657.47" y1="426.4" x2="657.47" y2="443.4" stroke="#222" stroke-width="0.7" stroke-dasharray="1.1,1"/>
<line x1="653.57" y1="426.4" x2="661.37" y2="426.4" stroke="#555" stroke-width="0.6" stroke-dasharray="1.8,1.2"/>
<line x1="653.57" y1="443.4" x2="661.37" y2="443.4" stroke="#555" stroke-width="0.6" stroke-dasharray="1.8,1.2"/>
<circle cx="657.47" cy="435" r="1.05" fill="#000"/>
<line x1="672.14" y1="471.3" x2="672.14" y2="490.9" stroke="#222" stroke-width="0.7" stroke-dasharray="1.1,1"/>
<line x1="668.24" y1="471.3" x2="676.04" y2="471.3" stroke="#555" stroke-width="0.6" stroke-dasharray="1.8,1.2"/>
<line x1="668.24" y1="490.9" x2="676.04" y2="490.9" stroke="#555" stroke-width="0.6" stroke-dasharray="1.8,1.2"/>
<circle cx="672.14" cy="481" r="1.05" fill="#000"/>
<rect x="492.2" y="492.9" width="7.8" height="3.2" fill="#000"/>
<rect x="506.87" y="492.9" width="7.8" height="3.2" fill="#000"/>
<rect x="521.54" y="492.9" width="7.8" height="3.2" fill="#000"/>
<rect x="536.21" y="492.9" width="7.8" height="3.2" fill="#000"/>
<rect x="550.88" y="492.9" width="7.8" height="3.2" fill="#000"/>
<rect x="565.55" y="492.9" width="7.8" height="3.2" fill="#000"/>
<rect x="580.22" y="492.9" width="7.8" height="3.2" fill="#000"/>
<rect x="594.89" y="492.9" width="7.8" height="3.2" fill="#000"/>
<rect x="609.56" y="492.9" width="7.8" height="3.2" fill="#000"/>
<rect x="624.23" y="492.9" width="7.8" height="3.2" fill="#000"/>
<rect x="638.9" y="492.9" width="7.8" height="3.2" fill="#000"/>
<rect x="653.57" y="492.9" width="7.8" height="3.2" fill="#000"/>
<rect x="668.24" y="492.9" width="7.8" height="3.2" fill="#000"/>
<line x1="496.1" y1="496.1" x2="496.1" y2="497.5" stroke="#a0a0a0" stroke-width="0.5"/>
<line x1="510.77" y1="496.1" x2="510.77" y2="497.5" stroke="#a0a0a0" stroke-width="0.5"/>
<line x1="525.44" y1="496.1" x2="525.44" y2="497.5" stroke="#a0a0a0" stroke-width="0.5"/>
<line x1="540.11" y1="496.1" x2="540.11" y2="497.5" stroke="#a0a0a0" stroke-width="0.5"/>
<line x1="554.78" y1="496.1" x2="554.78" y2="497.5" stroke="#a0a0a0" stroke-width="0.5"/>
<line x1="569.45" y1="496.1" x2="569.45" y2="497.5" stroke="#a0a0a0" stroke-width="0.5"/>
<line x1="584.12" y1="496.1" x2="584.12" y2="497.5" stroke="#a0a0a0" stroke-width="0.5"/>
<line x1="598.79" y1="496.1" x2="598.79" y2="497.5" stroke="#a0a0a0" stroke-width="0.5"/>
<line x1="613.46" y1="496.1" x2="613.46" y2="497.5" stroke="#a0a0a0" stroke-width="0.5"/>
<line x1="628.13" y1="496.1" x2="628.13" y2="497.5" stroke="#a0a0a0" stroke-width="0.5"/>
<line x1="642.8" y1="496.1" x2="642.8" y2="497.5" stroke="#a0a0a0" stroke-width="0.5"/>
<line x1="657.47" y1="496.1" x2="657.47" y2="497.5" stroke="#a0a0a0" stroke-width="0.5"/>
<line x1="672.14" y1="496.1" x2="672.14" y2="497.5" stroke="#a0a0a0" stroke-width="0.5"/>
<line x1="485.9" y1="409.5" x2="487.3" y2="409.5" stroke="#a0a0a0" stroke-width="0.5"/>
<line x1="485.9" y1="440.4" x2="487.3" y2="440.4" stroke="#a0a0a0" stroke-width="0.5"/>
<line x1="485.9" y1="471.5" x2="487.3" y2="471.5" stroke="#a0a0a0" stroke-width="0.5"/>
<rect x="54.5" y="517.3" width="193.7" height="110.8" fill="#fff" stroke="#b0b0b0" stroke-width="0.85"/>
<path d="M63.1,598.7C65,598.55 70.85,597.5 74.5,597.8C78.15,598.1 81.78,599.55 85,600.5C88.22,601.45 91.17,602.83 93.8,603.5C96.43,604.17 98.17,604.62 100.8,604.5C103.43,604.38 106.38,603.7 109.6,602.8C112.82,601.9 116.75,600.07 120.1,599.1C123.45,598.13 126.78,596.98 129.7,597C132.62,597.02 134.82,597.7 137.6,599.2C140.38,600.7 143.48,603.6 146.4,606C149.32,608.4 152.08,611.32 155.1,613.6C158.12,615.88 161.9,618.47 164.5,619.7C167.1,620.93 168.07,621.08 170.7,621C173.33,620.92 176.95,620.13 180.3,619.2C183.65,618.27 187.58,617 190.8,615.4C194.02,613.8 196.68,612.23 199.6,609.6C202.52,606.97 205.38,603.9 208.3,599.6C211.22,595.3 214.18,589.5 217.1,583.8C220.02,578.1 223.17,571.08 225.8,565.4C228.43,559.72 230.65,554.95 232.9,549.7C235.15,544.45 238.23,536.53 239.3,533.9" stroke="#2a2a2a" stroke-width="0.68" fill="none"/>
<path d="M63.1,594.3C65,594.25 70.85,593.7 74.5,594C78.15,594.3 81.78,595.23 85,596.1C88.22,596.97 91.17,598.47 93.8,599.2C96.43,599.93 98.17,600.52 100.8,600.5C103.43,600.48 106.38,599.83 109.6,599.1C112.82,598.37 116.75,596.9 120.1,596.1C123.45,595.3 126.78,594.22 129.7,594.3C132.62,594.38 134.82,595.07 137.6,596.6C140.38,598.13 143.48,601.05 146.4,603.5C149.32,605.95 152.08,608.98 155.1,611.3C158.12,613.62 161.9,616.2 164.5,617.4C167.1,618.6 168.07,618.6 170.7,618.5C173.33,618.4 176.95,617.82 180.3,616.8C183.65,615.78 187.58,614.15 190.8,612.4C194.02,610.65 196.68,609.08 199.6,606.3C202.52,603.52 205.38,600.17 208.3,595.7C211.22,591.23 214.18,585.57 217.1,579.5C220.02,573.43 223.17,565.58 225.8,559.3C228.43,553.02 230.65,547.87 232.9,541.8C235.15,535.73 238.23,526.05 239.3,522.9" stroke="#3a3a3a" stroke-width="0.62" fill="none" stroke-dasharray="1.7,1.3"/>
<path d="M63.1,603.5C65,603.15 70.85,601.32 74.5,601.4C78.15,601.48 81.78,603.13 85,604C88.22,604.87 91.17,606.02 93.8,606.6C96.43,607.18 98.17,607.58 100.8,607.5C103.43,607.42 106.38,607.07 109.6,606.1C112.82,605.13 116.75,602.78 120.1,601.7C123.45,600.62 126.78,599.57 129.7,599.6C132.62,599.63 134.82,600.37 137.6,601.9C140.38,603.43 143.48,606.38 146.4,608.8C149.32,611.22 152.08,614.2 155.1,616.4C158.12,618.6 161.9,620.83 164.5,622C167.1,623.17 168.07,623.4 170.7,623.4C173.33,623.4 176.95,622.85 180.3,622C183.65,621.15 187.58,619.78 190.8,618.3C194.02,616.82 196.68,615.48 199.6,613.1C202.52,610.72 205.38,608 208.3,604C211.22,600 214.18,594.5 217.1,589.1C220.02,583.7 223.17,576.85 225.8,571.6C228.43,566.35 230.65,562.05 232.9,557.6C235.15,553.15 238.23,547.02 239.3,544.9" stroke="#3a3a3a" stroke-width="0.62" fill="none" stroke-dasharray="1.7,1.3"/>
<rect x="63.1" y="625" width="36.9" height="3.1" fill="#000"/>
<rect x="100" y="625" width="22" height="3.1" fill="#000"/>
<path d="M101.02,624.95v3.2M103.34,624.95v3.2M107.94,624.95v3.2M117.19,624.95v3.2" stroke="#fff" stroke-width="0.6" fill="none" stroke-opacity="0.7"/>
<path d="M104.36,624.95v3.2M106.76,624.95v3.2M109.97,624.95v3.2M112.35,624.95v3.2M114.9,624.95v3.2M116.21,624.95v3.2M118.36,624.95v3.2M119.26,624.95v3.2" stroke="#fff" stroke-width="0.6" fill="none" stroke-opacity="0.95"/>
<rect x="122" y="625" width="65" height="3.1" fill="#000"/>
<rect x="187" y="625" width="21" height="3.1" fill="#000"/>
<path d="M202.68,624.95v3.2M204.45,624.95v3.2M206.44,624.95v3.2" stroke="#fff" stroke-width="0.5" fill="none" stroke-opacity="0.5"/>
<path d="M188.96,624.95v3.2M191.36,624.95v3.2M193.65,624.95v3.2M196.8,624.95v3.2M200.26,624.95v3.2" stroke="#fff" stroke-width="0.5" fill="none" stroke-opacity="0.7"/>
<path d="M195.06,624.95v3.2" stroke="#fff" stroke-width="0.5" fill="none" stroke-opacity="0.95"/>
<rect x="208" y="625" width="14" height="3.1" fill="#000"/>
<path d="M212.77,624.95v3.2" stroke="#fff" stroke-width="0.6" fill="none" stroke-opacity="0.7"/>
<path d="M208.95,624.95v3.2M210.25,624.95v3.2M214.79,624.95v3.2M217.02,624.95v3.2M218.59,624.95v3.2M220.71,624.95v3.2" stroke="#fff" stroke-width="0.6" fill="none" stroke-opacity="0.95"/>
<path d="M222,625v3.1M224.82,625v3.1M227.47,625v3.1M228.86,625v3.1M231.92,625v3.1M235.09,625v3.1" stroke="#333" stroke-width="0.5" fill="none"/>
<line x1="71.2" y1="628.1" x2="71.2" y2="629.5" stroke="#a0a0a0" stroke-width="0.5"/>
<line x1="124.1" y1="628.1" x2="124.1" y2="629.5" stroke="#a0a0a0" stroke-width="0.5"/>
<line x1="177" y1="628.1" x2="177" y2="629.5" stroke="#a0a0a0" stroke-width="0.5"/>
<line x1="230" y1="628.1" x2="230" y2="629.5" stroke="#a0a0a0" stroke-width="0.5"/>
<line x1="53.1" y1="535" x2="54.5" y2="535" stroke="#a0a0a0" stroke-width="0.5"/>
<line x1="53.1" y1="553.4" x2="54.5" y2="553.4" stroke="#a0a0a0" stroke-width="0.5"/>
<line x1="53.1" y1="571.6" x2="54.5" y2="571.6" stroke="#a0a0a0" stroke-width="0.5"/>
<line x1="53.1" y1="589.8" x2="54.5" y2="589.8" stroke="#a0a0a0" stroke-width="0.5"/>
<line x1="53.1" y1="608.2" x2="54.5" y2="608.2" stroke="#a0a0a0" stroke-width="0.5"/>
<line x1="53.1" y1="626.5" x2="54.5" y2="626.5" stroke="#a0a0a0" stroke-width="0.5"/>
<rect x="270.2" y="517.5" width="193.5" height="110.7" fill="#fff" stroke="#b0b0b0" stroke-width="0.85"/>
<path d="M279.4,561.4C280.8,562.37 285.38,565.55 287.8,567.2C290.22,568.85 291.85,570.35 293.9,571.3C295.95,572.25 297.9,572.98 300.1,572.9C302.3,572.82 304.77,572.47 307.1,570.8C309.43,569.13 311.77,565.68 314.1,562.9C316.43,560.12 318.75,556.88 321.1,554.1C323.45,551.32 325.85,548.25 328.2,546.2C330.55,544.15 332.87,542.68 335.2,541.8C337.53,540.92 339.57,540.9 342.2,540.9C344.83,540.9 348.37,542.07 351,541.8C353.63,541.53 355.87,540.52 358,539.3C360.13,538.08 361.67,536.45 363.8,534.5C365.93,532.55 368.77,529.1 370.8,527.6C372.83,526.1 374.25,525.32 376,525.5C377.75,525.68 379.55,526.85 381.3,528.7C383.05,530.55 384.6,533.38 386.5,536.6C388.4,539.82 390.65,544.35 392.7,548C394.75,551.65 396.75,555.43 398.8,558.5C400.85,561.57 402.95,564.45 405,566.4C407.05,568.35 408.92,569.27 411.1,570.2C413.28,571.13 415.9,571.32 418.1,572C420.3,572.68 422.25,573.05 424.3,574.3C426.35,575.55 428.22,577.32 430.4,579.5C432.58,581.68 435.07,584.47 437.4,587.4C439.73,590.33 442.2,594.02 444.4,597.1C446.6,600.18 448.75,603.33 450.6,605.9C452.45,608.47 454.68,611.4 455.5,612.5" stroke="#2a2a2a" stroke-width="0.68" fill="none"/>
<path d="M279.4,537.4C280.8,539.3 285.08,545.43 287.8,548.8C290.52,552.17 292.92,555.6 295.7,557.6C298.48,559.6 301.72,560.85 304.5,560.8C307.28,560.75 309.63,559.58 312.4,557.3C315.17,555.02 318.47,550.12 321.1,547.1C323.73,544.08 325.85,541.02 328.2,539.2C330.55,537.38 332.87,536.65 335.2,536.2C337.53,535.75 339.57,536.2 342.2,536.5C344.83,536.8 348.37,538.28 351,538C353.63,537.72 355.87,536.22 358,534.8C360.13,533.38 361.67,531.3 363.8,529.5C365.93,527.7 368.77,525.22 370.8,524C372.83,522.78 374.25,522.15 376,522.2C377.75,522.25 379.55,522.78 381.3,524.3C383.05,525.82 384.6,528.38 386.5,531.3C388.4,534.22 390.65,538.15 392.7,541.8C394.75,545.45 396.75,549.98 398.8,553.2C400.85,556.42 402.95,559.1 405,561.1C407.05,563.1 408.92,564.23 411.1,565.2C413.28,566.17 415.9,566.35 418.1,566.9C420.3,567.45 422.25,567.47 424.3,568.5C426.35,569.53 428.22,571.12 430.4,573.1C432.58,575.08 435.07,577.87 437.4,580.4C439.73,582.93 442.2,585.73 444.4,588.3C446.6,590.87 448.75,593.62 450.6,595.8C452.45,597.98 454.68,600.47 455.5,601.4" stroke="#3a3a3a" stroke-width="0.62" fill="none" stroke-dasharray="1.7,1.3"/>
<path d="M279.4,585.3C280.8,585.5 285.38,586.15 287.8,586.5C290.22,586.85 291.85,587.53 293.9,587.4C295.95,587.27 297.9,586.72 300.1,585.7C302.3,584.68 304.77,583.5 307.1,581.3C309.43,579.1 311.77,575.72 314.1,572.5C316.43,569.28 318.75,565.37 321.1,562C323.45,558.63 325.85,554.78 328.2,552.3C330.55,549.82 332.87,548.27 335.2,547.1C337.53,545.93 339.57,545.6 342.2,545.3C344.83,545 348.37,545.58 351,545.3C353.63,545.02 355.87,544.82 358,543.6C360.13,542.38 361.67,540.07 363.8,538C365.93,535.93 368.77,532.7 370.8,531.2C372.83,529.7 374.25,528.68 376,529C377.75,529.32 379.55,530.97 381.3,533.1C383.05,535.23 384.6,538.37 386.5,541.8C388.4,545.23 390.65,549.98 392.7,553.7C394.75,557.42 396.75,561.17 398.8,564.1C400.85,567.03 402.95,569.47 405,571.3C407.05,573.13 408.92,574.12 411.1,575.1C413.28,576.08 415.9,576.32 418.1,577.2C420.3,578.08 422.25,578.85 424.3,580.4C426.35,581.95 428.22,583.97 430.4,586.5C432.58,589.03 435.07,592.23 437.4,595.6C439.73,598.97 442.2,603.25 444.4,606.7C446.6,610.15 448.75,613.38 450.6,616.3C452.45,619.22 454.68,622.88 455.5,624.2" stroke="#3a3a3a" stroke-width="0.62" fill="none" stroke-dasharray="1.7,1.3"/>
<rect x="278.9" y="624.9" width="23.1" height="3.3" fill="#000"/>
<path d="M285.63,624.85v3.4M292.17,624.85v3.4" stroke="#fff" stroke-width="0.5" fill="none" stroke-opacity="0.5"/>
<path d="M280.5,624.85v3.4M290.42,624.85v3.4M294.11,624.85v3.4" stroke="#fff" stroke-width="0.5" fill="none" stroke-opacity="0.7"/>
<path d="M299.45,624.85v3.4" stroke="#fff" stroke-width="0.5" fill="none" stroke-opacity="0.95"/>
<rect x="304" y="624.9" width="6" height="3.3" fill="#000"/>
<path d="M305.34,624.85v3.4" stroke="#fff" stroke-width="0.5" fill="none" stroke-opacity="0.5"/>
<path d="M309.31,624.85v3.4" stroke="#fff" stroke-width="0.5" fill="none" stroke-opacity="0.7"/>
<rect x="310" y="624.9" width="134.5" height="3.3" fill="#000"/>
<path d="M444.5,624.9v3.3M445.4,624.9v3.3M446.78,624.9v3.3M448.13,624.9v3.3M449.33,624.9v3.3M450.55,624.9v3.3M451.85,624.9v3.3M452.79,624.9v3.3M454.13,624.9v3.3" stroke="#444" stroke-width="0.55" fill="none"/>
<line x1="279.9" y1="628.2" x2="279.9" y2="629.6" stroke="#a0a0a0" stroke-width="0.5"/>
<line x1="341" y1="628.2" x2="341" y2="629.6" stroke="#a0a0a0" stroke-width="0.5"/>
<line x1="401.8" y1="628.2" x2="401.8" y2="629.6" stroke="#a0a0a0" stroke-width="0.5"/>
<line x1="463.3" y1="628.2" x2="463.3" y2="629.6" stroke="#a0a0a0" stroke-width="0.5"/>
<line x1="268.8" y1="525.9" x2="270.2" y2="525.9" stroke="#a0a0a0" stroke-width="0.5"/>
<line x1="268.8" y1="557.2" x2="270.2" y2="557.2" stroke="#a0a0a0" stroke-width="0.5"/>
<line x1="268.8" y1="588.1" x2="270.2" y2="588.1" stroke="#a0a0a0" stroke-width="0.5"/>
<line x1="268.8" y1="619.2" x2="270.2" y2="619.2" stroke="#a0a0a0" stroke-width="0.5"/>
<rect x="487" y="517.3" width="193.8" height="110.5" fill="#fff" stroke="#b0b0b0" stroke-width="0.85"/>
<path d="M495.5,572.8C496.58,572.37 499.85,570.8 502,570.2C504.15,569.6 506.07,569.07 508.4,569.2C510.73,569.33 513.33,570.35 516,571C518.67,571.65 521.73,573.18 524.4,573.1C527.07,573.02 529.23,572.68 532,570.5C534.77,568.32 538,563.75 541,560C544,556.25 546.88,550.95 550,548C553.12,545.05 556.73,543.25 559.7,542.3C562.67,541.35 565.25,542.6 567.8,542.3C570.35,542 572.63,541.63 575,540.5C577.37,539.37 579.73,536.7 582,535.5C584.27,534.3 586.43,533.13 588.6,533.3C590.77,533.47 592.77,533.88 595,536.5C597.23,539.12 599.67,544.42 602,549C604.33,553.58 606.68,560.1 609,564C611.32,567.9 613.73,571.4 615.9,572.4C618.07,573.4 619.82,572.73 622,570C624.18,567.27 626.67,560.75 629,556C631.33,551.25 633.73,544.65 636,541.5C638.27,538.35 640.27,537.18 642.6,537.1C644.93,537.02 647.43,538.6 650,541C652.57,543.4 655.5,547.75 658,551.5C660.5,555.25 662.65,559.37 665,563.5C667.35,567.63 670.92,574.17 672.1,576.3" stroke="#2a2a2a" stroke-width="0.68" fill="none"/>
<path d="M495.5,556.4C496.58,556.23 499.85,555.67 502,555.4C504.15,555.13 506.07,554.45 508.4,554.8C510.73,555.15 513.6,556.6 516,557.5C518.4,558.4 520.3,560.2 522.8,560.2C525.3,560.2 528.13,559.53 531,557.5C533.87,555.47 537,551.17 540,548C543,544.83 545.98,540.95 549,538.5C552.02,536.05 554.97,534.17 558.1,533.3C561.23,532.43 564.98,533.6 567.8,533.3C570.62,533 572.63,532.63 575,531.5C577.37,530.37 579.73,527.7 582,526.5C584.27,525.3 586.43,524.13 588.6,524.3C590.77,524.47 592.77,524.88 595,527.5C597.23,530.12 599.67,535.42 602,540C604.33,544.58 606.68,551.2 609,555C611.32,558.8 613.73,562.13 615.9,562.8C618.07,563.47 619.82,562.47 622,559C624.18,555.53 626.5,547.42 629,542C631.5,536.58 634.47,529.83 637,526.5C639.53,523.17 641.7,522.17 644.2,522C646.7,521.83 649.22,523.68 652,525.5C654.78,527.32 658.4,531.82 660.9,532.9C663.4,533.98 665.13,532.63 667,532C668.87,531.37 671.25,529.58 672.1,529.1" stroke="#3a3a3a" stroke-width="0.62" fill="none" stroke-dasharray="1.7,1.3"/>
<path d="M495.5,589.5C496.58,588.67 499.85,585.73 502,584.5C504.15,583.27 506.07,582.18 508.4,582.1C510.73,582.02 513.33,583.32 516,584C518.67,584.68 521.73,586.28 524.4,586.2C527.07,586.12 529.23,585.95 532,583.5C534.77,581.05 538,575.67 541,571.5C544,567.33 546.88,561.67 550,558.5C553.12,555.33 556.73,553.65 559.7,552.5C562.67,551.35 565.25,552.1 567.8,551.6C570.35,551.1 572.63,550.85 575,549.5C577.37,548.15 579.73,544.87 582,543.5C584.27,542.13 586.43,541.05 588.6,541.3C590.77,541.55 592.77,542.22 595,545C597.23,547.78 599.67,553.17 602,558C604.33,562.83 606.68,569.98 609,574C611.32,578.02 613.73,581.02 615.9,582.1C618.07,583.18 619.82,583.02 622,580.5C624.18,577.98 626.83,571.25 629,567C631.17,562.75 633,557.57 635,555C637,552.43 638.83,551.18 641,551.6C643.17,552.02 645.5,553.77 648,557.5C650.5,561.23 653.33,567.42 656,574C658.67,580.58 661.32,588.7 664,597C666.68,605.3 670.75,619.33 672.1,623.8" stroke="#3a3a3a" stroke-width="0.62" fill="none" stroke-dasharray="1.7,1.3"/>
<rect x="495.2" y="624.4" width="10.8" height="3.3" fill="#000"/>
<path d="M495.81,624.35v3.4M498.17,624.35v3.4M505.66,624.35v3.4" stroke="#fff" stroke-width="0.5" fill="none" stroke-opacity="0.7"/>
<path d="M500.52,624.35v3.4M503.95,624.35v3.4" stroke="#fff" stroke-width="0.5" fill="none" stroke-opacity="0.95"/>
<rect x="506" y="624.4" width="94" height="3.3" fill="#000"/>
<path d="M520.56,624.35v3.4M529.72,624.35v3.4M534.54,624.35v3.4M537.7,624.35v3.4M539.44,624.35v3.4M547.19,624.35v3.4M548.45,624.35v3.4M555.15,624.35v3.4M557.8,624.35v3.4M561.96,624.35v3.4M567.43,624.35v3.4M575.29,624.35v3.4M578.46,624.35v3.4M591.44,624.35v3.4M593.16,624.35v3.4M598.59,624.35v3.4" stroke="#fff" stroke-width="0.6" fill="none" stroke-opacity="0.7"/>
<path d="M507.43,624.35v3.4M508.96,624.35v3.4M510.39,624.35v3.4M512.92,624.35v3.4M514.69,624.35v3.4M516.08,624.35v3.4M517.32,624.35v3.4M523.18,624.35v3.4M525.36,624.35v3.4M527.59,624.35v3.4M533,624.35v3.4M542.34,624.35v3.4M545.63,624.35v3.4M549.87,624.35v3.4M551.54,624.35v3.4M552.93,624.35v3.4M560,624.35v3.4M563.07,624.35v3.4M565.67,624.35v3.4M569.45,624.35v3.4M571.24,624.35v3.4M572.35,624.35v3.4M581.13,624.35v3.4M582.87,624.35v3.4M584.11,624.35v3.4M587.41,624.35v3.4M588.68,624.35v3.4M596.09,624.35v3.4" stroke="#fff" stroke-width="0.6" fill="none" stroke-opacity="0.95"/>
<rect x="600" y="624.4" width="40" height="3.3" fill="#000"/>
<rect x="640" y="624.4" width="20" height="3.3" fill="#000"/>
<path d="M640.9,624.35v3.4M642.34,624.35v3.4M644.57,624.35v3.4M646.97,624.35v3.4M648.55,624.35v3.4M650.39,624.35v3.4M651.42,624.35v3.4M653.02,624.35v3.4M655.2,624.35v3.4M657.58,624.35v3.4M658.56,624.35v3.4M659.68,624.35v3.4" stroke="#fff" stroke-width="0.6" fill="none" stroke-opacity="0.95"/>
<path d="M660,624.4v3.3M661.89,624.4v3.3M663.73,624.4v3.3M666.58,624.4v3.3M669.25,624.4v3.3M671.4,624.4v3.3" stroke="#333" stroke-width="0.5" fill="none"/>
<line x1="495.5" y1="627.8" x2="495.5" y2="629.2" stroke="#a0a0a0" stroke-width="0.5"/>
<line x1="531.2" y1="627.8" x2="531.2" y2="629.2" stroke="#a0a0a0" stroke-width="0.5"/>
<line x1="566.8" y1="627.8" x2="566.8" y2="629.2" stroke="#a0a0a0" stroke-width="0.5"/>
<line x1="602.4" y1="627.8" x2="602.4" y2="629.2" stroke="#a0a0a0" stroke-width="0.5"/>
<line x1="637.8" y1="627.8" x2="637.8" y2="629.2" stroke="#a0a0a0" stroke-width="0.5"/>
<line x1="673.1" y1="627.8" x2="673.1" y2="629.2" stroke="#a0a0a0" stroke-width="0.5"/>
<line x1="485.6" y1="533.3" x2="487" y2="533.3" stroke="#a0a0a0" stroke-width="0.5"/>
<line x1="485.6" y1="557.3" x2="487" y2="557.3" stroke="#a0a0a0" stroke-width="0.5"/>
<line x1="485.6" y1="580.9" x2="487" y2="580.9" stroke="#a0a0a0" stroke-width="0.5"/>
<line x1="485.6" y1="604.9" x2="487" y2="604.9" stroke="#a0a0a0" stroke-width="0.5"/>
<rect x="54.2" y="648.6" width="172.7" height="106.1" fill="#fff" stroke="#b0b0b0" stroke-width="0.85"/>
<rect x="62" y="654" width="156.9" height="95.7" fill="#bebebe"/>
<radialGradient id="g18" gradientUnits="userSpaceOnUse" cx="0" cy="0" r="1" gradientTransform="translate(58,647) scale(75.2,40)"><stop offset="0" stop-color="#fde725"/><stop offset="0.1" stop-color="#fde725"/><stop offset="0.2" stop-color="#fde725"/><stop offset="0.3" stop-color="#fde725"/><stop offset="0.4" stop-color="#fde725"/><stop offset="0.44" stop-color="#f2e527"/><stop offset="0.49" stop-color="#e7e428"/><stop offset="0.53" stop-color="#dbe22a"/><stop offset="0.57" stop-color="#d0e12b"/><stop offset="0.61" stop-color="#c2df2d"/><stop offset="0.65" stop-color="#b3dd2f"/><stop offset="0.68" stop-color="#a5da35"/><stop offset="0.71" stop-color="#97d73e"/><stop offset="0.75" stop-color="#87d348"/><stop offset="0.78" stop-color="#77cf52"/><stop offset="0.82" stop-color="#67cb5c"/><stop offset="0.85" stop-color="#5ac764"/><stop offset="0.88" stop-color="#4fc16a"/><stop offset="0.91" stop-color="#44bc70"/><stop offset="0.93" stop-color="#39b776"/><stop offset="0.96" stop-color="#2eb17c"/><stop offset="0.97" stop-color="#2cb07e"/><stop offset="0.98" stop-color="#2aaf7f"/><stop offset="0.99" stop-color="#28ae80"/><stop offset="1" stop-color="#28ad80"/></radialGradient>
<path d="M128.68,654L128.68,658.78L128.68,658.78L128.68,661.18L124.76,661.18L124.76,663.57L105.15,663.57L105.15,665.96L101.22,665.96L101.22,668.36L97.3,668.36L97.3,670.75L85.53,670.75L85.53,675.53L81.61,675.53L81.61,677.92L62,677.92L62,675.53L62,675.53L62,670.75L62,670.75L62,668.36L62,668.36L62,665.96L62,665.96L62,663.57L62,663.57L62,661.18L69.84,661.18L69.84,658.78L77.69,658.78L77.69,654Z" fill="url(#g18)"/>
<path d="M64.6,670.6C78,667.5 91,663.5 97,655.4" stroke="#151515" stroke-width="0.5" fill="none"/>
<path d="M102,664.8L110.5,655.2" stroke="#151515" stroke-width="0.5" fill="none"/>
<path d="M115.4,662.2L120.7,655.2" stroke="#151515" stroke-width="0.5" fill="none"/>
<path d="M125.9,660.7L127.1,658.3" stroke="#151515" stroke-width="0.5" fill="none"/>
<linearGradient id="g19" gradientUnits="userSpaceOnUse" x1="149" y1="660" x2="176" y2="660"><stop offset="0" stop-color="#2c738e"/><stop offset="0.25" stop-color="#31688d"/><stop offset="0.5" stop-color="#365c8c"/><stop offset="0.75" stop-color="#3b518a"/><stop offset="1" stop-color="#404385"/></linearGradient>
<path d="M175.75,654L175.75,661.18L171.83,661.18L171.83,663.57L152.22,663.57L152.22,661.18L148.3,661.18L148.3,654Z" fill="url(#g19)"/>
<path d="M155.7,654.8L152.9,660.1" stroke="#151515" stroke-width="0.5" fill="none"/>
<linearGradient id="g20" gradientUnits="userSpaceOnUse" x1="164" y1="674" x2="141" y2="691"><stop offset="0" stop-color="#3c4f8a"/><stop offset="0.25" stop-color="#365d8c"/><stop offset="0.5" stop-color="#306a8d"/><stop offset="0.75" stop-color="#2a788e"/><stop offset="1" stop-color="#25858d"/></linearGradient>
<path d="M160.06,673.14L160.06,675.53L163.99,675.53L163.99,677.92L167.91,677.92L167.91,685.1L167.91,685.1L167.91,687.5L163.99,687.5L163.99,689.89L156.14,689.89L156.14,692.28L148.3,692.28L148.3,689.89L140.45,689.89L140.45,687.5L140.45,687.5L140.45,685.1L136.53,685.1L136.53,677.92L140.45,677.92L140.45,675.53L144.37,675.53L144.37,673.14Z" fill="url(#g20)"/>
<path d="M147.3,674.7C148,681 155,684.5 166.3,683" stroke="#151515" stroke-width="0.5" fill="none"/>
<path d="M141.4,685.1C145,687.5 150,689.3 155,689.9" stroke="#151515" stroke-width="0.5" fill="none"/>
<linearGradient id="g21" gradientUnits="userSpaceOnUse" x1="210" y1="668" x2="210" y2="685.5"><stop offset="0" stop-color="#2e6e8e"/><stop offset="0.25" stop-color="#2b748e"/><stop offset="0.5" stop-color="#29798e"/><stop offset="0.75" stop-color="#277f8d"/><stop offset="1" stop-color="#25858d"/></linearGradient>
<path d="M218.9,668.36L218.9,670.75L218.9,670.75L218.9,682.71L218.9,682.71L218.9,685.1L207.13,685.1L207.13,682.71L203.21,682.71L203.21,670.75L207.13,670.75L207.13,668.36Z" fill="url(#g21)"/>
<path d="M209,682.7L217.4,681.2" stroke="#151515" stroke-width="0.5" fill="none"/>
<linearGradient id="g22" gradientUnits="userSpaceOnUse" x1="78" y1="695" x2="62" y2="714"><stop offset="0" stop-color="#6ecd58"/><stop offset="0.25" stop-color="#67cb5c"/><stop offset="0.5" stop-color="#61ca60"/><stop offset="0.75" stop-color="#5cc863"/><stop offset="1" stop-color="#58c666"/></linearGradient>
<path d="M73.77,694.67L73.77,697.07L77.69,697.07L77.69,709.03L73.77,709.03L73.77,711.42L69.84,711.42L69.84,713.81L62,713.81L62,711.42L62,711.42L62,709.03L62,709.03L62,697.07L62,697.07L62,694.67Z" fill="url(#g22)"/>
<path d="M63.8,711.9L65,712.8" stroke="#151515" stroke-width="0.5" fill="none"/>
<linearGradient id="g23" gradientUnits="userSpaceOnUse" x1="170" y1="699.6" x2="170" y2="718.8"><stop offset="0" stop-color="#28ad80"/><stop offset="0.25" stop-color="#35b479"/><stop offset="0.5" stop-color="#44bc70"/><stop offset="0.75" stop-color="#53c468"/><stop offset="1" stop-color="#64cb5e"/></linearGradient>
<path d="M179.68,699.46L179.68,701.85L183.6,701.85L183.6,704.24L187.52,704.24L187.52,716.21L183.6,716.21L183.6,718.6L163.99,718.6L163.99,716.21L160.06,716.21L160.06,704.24L163.99,704.24L163.99,701.85L167.91,701.85L167.91,699.46Z" fill="url(#g23)"/>
<path d="M162.2,707.3C170,706.5 178,706.8 186.2,710" stroke="#151515" stroke-width="0.5" fill="none"/>
<linearGradient id="g24" gradientUnits="userSpaceOnUse" x1="100" y1="711.7" x2="100" y2="731"><stop offset="0" stop-color="#91d542"/><stop offset="0.2" stop-color="#81d14c"/><stop offset="0.4" stop-color="#71ce56"/><stop offset="0.6" stop-color="#61ca60"/><stop offset="0.8" stop-color="#55c567"/><stop offset="0.85" stop-color="#50c26a"/><stop offset="0.9" stop-color="#4bbf6d"/><stop offset="0.95" stop-color="#45bd70"/><stop offset="1" stop-color="#40ba73"/></linearGradient>
<path d="M109.07,711.42L109.07,713.81L112.99,713.81L112.99,716.21L116.92,716.21L116.92,723.38L112.99,723.38L112.99,725.78L109.07,725.78L109.07,728.17L101.22,728.17L101.22,730.56L97.3,730.56L97.3,728.17L89.46,728.17L89.46,725.78L85.53,725.78L85.53,723.38L85.53,723.38L85.53,716.21L89.46,716.21L89.46,713.81L93.38,713.81L93.38,711.42Z" fill="url(#g24)"/>
<path d="M96.1,713.1C98,716 101,717.5 103,717C105,716.7 106.5,716 107.8,715.2" stroke="#151515" stroke-width="0.5" fill="none"/>
<path d="M88,724.6C94,725.8 101,726.5 108.4,726.3" stroke="#151515" stroke-width="0.5" fill="none"/>
<linearGradient id="g25" gradientUnits="userSpaceOnUse" x1="115" y1="740.6" x2="115" y2="749.7"><stop offset="0" stop-color="#2c738e"/><stop offset="0.25" stop-color="#31668d"/><stop offset="0.5" stop-color="#375a8c"/><stop offset="0.75" stop-color="#3d4c88"/><stop offset="1" stop-color="#423d82"/></linearGradient>
<path d="M124.76,740.13L124.76,742.52L128.68,742.52L128.68,749.7L101.22,749.7L101.22,742.52L105.15,742.52L105.15,740.13Z" fill="url(#g25)"/>
<path d="M103.1,744.6C112,743.6 120,743.8 127.1,745.2" stroke="#151515" stroke-width="0.5" fill="none"/>
<path d="M111.3,749L114.8,749" stroke="#151515" stroke-width="0.5" fill="none"/>
<line x1="100" y1="754.7" x2="100" y2="756.1" stroke="#a0a0a0" stroke-width="0.5"/>
<line x1="149.8" y1="754.7" x2="149.8" y2="756.1" stroke="#a0a0a0" stroke-width="0.5"/>
<line x1="200.2" y1="754.7" x2="200.2" y2="756.1" stroke="#a0a0a0" stroke-width="0.5"/>
<line x1="52.8" y1="671.7" x2="54.2" y2="671.7" stroke="#a0a0a0" stroke-width="0.5"/>
<line x1="52.8" y1="701" x2="54.2" y2="701" stroke="#a0a0a0" stroke-width="0.5"/>
<line x1="52.8" y1="730.2" x2="54.2" y2="730.2" stroke="#a0a0a0" stroke-width="0.5"/>
<linearGradient id="g26" x1="0" y1="1" x2="0" y2="0"><stop offset="0" stop-color="#404385"/><stop offset="0.08" stop-color="#39568b"/><stop offset="0.17" stop-color="#31678d"/><stop offset="0.25" stop-color="#2a788e"/><stop offset="0.33" stop-color="#24888d"/><stop offset="0.42" stop-color="#239889"/><stop offset="0.5" stop-color="#26a783"/><stop offset="0.58" stop-color="#37b677"/><stop offset="0.67" stop-color="#54c468"/><stop offset="0.75" stop-color="#79cf51"/><stop offset="0.83" stop-color="#a2d937"/><stop offset="0.92" stop-color="#cce02c"/><stop offset="1" stop-color="#f7e626"/></linearGradient>
<rect x="232.9" y="691.7" width="7" height="25.1" fill="url(#g26)"/>
<rect x="270.2" y="644.4" width="193.8" height="110.9" fill="#fff" stroke="#b0b0b0" stroke-width="0.85"/>
<line x1="275.7" y1="681.4" x2="283.5" y2="681.4" stroke="#555" stroke-width="0.6" stroke-dasharray="1.8,1.2"/>
<circle cx="279.6" cy="681.4" r="1.05" fill="#000"/>
<line x1="295.6" y1="670.6" x2="295.6" y2="677.7" stroke="#222" stroke-width="0.7" stroke-dasharray="1.1,1"/>
<line x1="291.7" y1="670.6" x2="299.5" y2="670.6" stroke="#555" stroke-width="0.6" stroke-dasharray="1.8,1.2"/>
<line x1="291.7" y1="677.7" x2="299.5" y2="677.7" stroke="#555" stroke-width="0.6" stroke-dasharray="1.8,1.2"/>
<circle cx="295.6" cy="674" r="1.05" fill="#000"/>
<line x1="311.6" y1="665.9" x2="311.6" y2="672.6" stroke="#222" stroke-width="0.7" stroke-dasharray="1.1,1"/>
<line x1="307.7" y1="665.9" x2="315.5" y2="665.9" stroke="#555" stroke-width="0.6" stroke-dasharray="1.8,1.2"/>
<line x1="307.7" y1="672.6" x2="315.5" y2="672.6" stroke="#555" stroke-width="0.6" stroke-dasharray="1.8,1.2"/>
<circle cx="311.6" cy="669.3" r="1.05" fill="#000"/>
<line x1="327.6" y1="650.1" x2="327.6" y2="656.2" stroke="#222" stroke-width="0.7" stroke-dasharray="1.1,1"/>
<line x1="323.7" y1="650.1" x2="331.5" y2="650.1" stroke="#555" stroke-width="0.6" stroke-dasharray="1.8,1.2"/>
<line x1="323.7" y1="656.2" x2="331.5" y2="656.2" stroke="#555" stroke-width="0.6" stroke-dasharray="1.8,1.2"/>
<circle cx="327.6" cy="653.2" r="1.05" fill="#000"/>
<line x1="343.6" y1="649.5" x2="343.6" y2="657.5" stroke="#222" stroke-width="0.7" stroke-dasharray="1.1,1"/>
<line x1="339.7" y1="649.5" x2="347.5" y2="649.5" stroke="#555" stroke-width="0.6" stroke-dasharray="1.8,1.2"/>
<line x1="339.7" y1="657.5" x2="347.5" y2="657.5" stroke="#555" stroke-width="0.6" stroke-dasharray="1.8,1.2"/>
<circle cx="343.6" cy="653.5" r="1.05" fill="#000"/>
<line x1="359.6" y1="661.2" x2="359.6" y2="671" stroke="#222" stroke-width="0.7" stroke-dasharray="1.1,1"/>
<line x1="355.7" y1="661.2" x2="363.5" y2="661.2" stroke="#555" stroke-width="0.6" stroke-dasharray="1.8,1.2"/>
<line x1="355.7" y1="671" x2="363.5" y2="671" stroke="#555" stroke-width="0.6" stroke-dasharray="1.8,1.2"/>
<circle cx="359.6" cy="665.9" r="1.05" fill="#000"/>
<line x1="375.6" y1="700.5" x2="375.6" y2="711.9" stroke="#222" stroke-width="0.7" stroke-dasharray="1.1,1"/>
<line x1="371.7" y1="700.5" x2="379.5" y2="700.5" stroke="#555" stroke-width="0.6" stroke-dasharray="1.8,1.2"/>
<line x1="371.7" y1="711.9" x2="379.5" y2="711.9" stroke="#555" stroke-width="0.6" stroke-dasharray="1.8,1.2"/>
<circle cx="375.6" cy="706.2" r="1.05" fill="#000"/>
<line x1="391.6" y1="723.4" x2="391.6" y2="735.4" stroke="#222" stroke-width="0.7" stroke-dasharray="1.1,1"/>
<line x1="387.7" y1="723.4" x2="395.5" y2="723.4" stroke="#555" stroke-width="0.6" stroke-dasharray="1.8,1.2"/>
<line x1="387.7" y1="735.4" x2="395.5" y2="735.4" stroke="#555" stroke-width="0.6" stroke-dasharray="1.8,1.2"/>
<circle cx="391.6" cy="729.4" r="1.05" fill="#000"/>
<line x1="407.6" y1="737.8" x2="407.6" y2="750.6" stroke="#222" stroke-width="0.7" stroke-dasharray="1.1,1"/>
<line x1="403.7" y1="737.8" x2="411.5" y2="737.8" stroke="#555" stroke-width="0.6" stroke-dasharray="1.8,1.2"/>
<line x1="403.7" y1="750.6" x2="411.5" y2="750.6" stroke="#555" stroke-width="0.6" stroke-dasharray="1.8,1.2"/>
<circle cx="407.6" cy="744.2" r="1.05" fill="#000"/>
<line x1="423.6" y1="727.7" x2="423.6" y2="740.1" stroke="#222" stroke-width="0.7" stroke-dasharray="1.1,1"/>
<line x1="419.7" y1="727.7" x2="427.5" y2="727.7" stroke="#555" stroke-width="0.6" stroke-dasharray="1.8,1.2"/>
<line x1="419.7" y1="740.1" x2="427.5" y2="740.1" stroke="#555" stroke-width="0.6" stroke-dasharray="1.8,1.2"/>
<circle cx="423.6" cy="734.1" r="1.05" fill="#000"/>
<line x1="439.6" y1="714.3" x2="439.6" y2="725.4" stroke="#222" stroke-width="0.7" stroke-dasharray="1.1,1"/>
<line x1="435.7" y1="714.3" x2="443.5" y2="714.3" stroke="#555" stroke-width="0.6" stroke-dasharray="1.8,1.2"/>
<line x1="435.7" y1="725.4" x2="443.5" y2="725.4" stroke="#555" stroke-width="0.6" stroke-dasharray="1.8,1.2"/>
<circle cx="439.6" cy="719.7" r="1.05" fill="#000"/>
<line x1="455.6" y1="695.1" x2="455.6" y2="703.2" stroke="#222" stroke-width="0.7" stroke-dasharray="1.1,1"/>
<line x1="451.7" y1="695.1" x2="459.5" y2="695.1" stroke="#555" stroke-width="0.6" stroke-dasharray="1.8,1.2"/>
<line x1="451.7" y1="703.2" x2="459.5" y2="703.2" stroke="#555" stroke-width="0.6" stroke-dasharray="1.8,1.2"/>
<circle cx="455.6" cy="699.2" r="1.05" fill="#000"/>
<rect x="275.7" y="751.6" width="7.8" height="3.3" fill="#000"/>
<rect x="291.7" y="751.6" width="7.8" height="3.3" fill="#000"/>
<rect x="307.7" y="751.6" width="7.8" height="3.3" fill="#000"/>
<rect x="323.7" y="751.6" width="7.8" height="3.3" fill="#000"/>
<rect x="339.7" y="751.6" width="7.8" height="3.3" fill="#000"/>
<rect x="355.7" y="751.6" width="7.8" height="3.3" fill="#000"/>
<rect x="371.7" y="751.6" width="7.8" height="3.3" fill="#000"/>
<rect x="387.7" y="751.6" width="7.8" height="3.3" fill="#000"/>
<rect x="403.7" y="751.6" width="7.8" height="3.3" fill="#000"/>
<rect x="419.7" y="751.6" width="7.8" height="3.3" fill="#000"/>
<rect x="435.7" y="751.6" width="7.8" height="3.3" fill="#000"/>
<rect x="451.7" y="751.6" width="7.8" height="3.3" fill="#000"/>
<line x1="279.6" y1="755.3" x2="279.6" y2="756.7" stroke="#a0a0a0" stroke-width="0.5"/>
<line x1="295.6" y1="755.3" x2="295.6" y2="756.7" stroke="#a0a0a0" stroke-width="0.5"/>
<line x1="311.6" y1="755.3" x2="311.6" y2="756.7" stroke="#a0a0a0" stroke-width="0.5"/>
<line x1="327.6" y1="755.3" x2="327.6" y2="756.7" stroke="#a0a0a0" stroke-width="0.5"/>
<line x1="343.6" y1="755.3" x2="343.6" y2="756.7" stroke="#a0a0a0" stroke-width="0.5"/>
<line x1="359.6" y1="755.3" x2="359.6" y2="756.7" stroke="#a0a0a0" stroke-width="0.5"/>
<line x1="375.6" y1="755.3" x2="375.6" y2="756.7" stroke="#a0a0a0" stroke-width="0.5"/>
<line x1="391.6" y1="755.3" x2="391.6" y2="756.7" stroke="#a0a0a0" stroke-width="0.5"/>
<line x1="407.6" y1="755.3" x2="407.6" y2="756.7" stroke="#a0a0a0" stroke-width="0.5"/>
<line x1="423.6" y1="755.3" x2="423.6" y2="756.7" stroke="#a0a0a0" stroke-width="0.5"/>
<line x1="439.6" y1="755.3" x2="439.6" y2="756.7" stroke="#a0a0a0" stroke-width="0.5"/>
<line x1="455.6" y1="755.3" x2="455.6" y2="756.7" stroke="#a0a0a0" stroke-width="0.5"/>
<line x1="268.8" y1="654.7" x2="270.2" y2="654.7" stroke="#a0a0a0" stroke-width="0.5"/>
<line x1="268.8" y1="681.5" x2="270.2" y2="681.5" stroke="#a0a0a0" stroke-width="0.5"/>
<line x1="268.8" y1="708.5" x2="270.2" y2="708.5" stroke="#a0a0a0" stroke-width="0.5"/>
<line x1="268.8" y1="735.7" x2="270.2" y2="735.7" stroke="#a0a0a0" stroke-width="0.5"/>
<rect x="488.5" y="643.8" width="195.1" height="110.9" fill="#fff" stroke="#b0b0b0" stroke-width="0.85"/>
<line x1="493.9" y1="733.7" x2="501.7" y2="733.7" stroke="#555" stroke-width="0.6" stroke-dasharray="1.8,1.2"/>
<circle cx="497.8" cy="733.7" r="1.05" fill="#000"/>
<line x1="512.59" y1="729.2" x2="512.59" y2="745" stroke="#222" stroke-width="0.7" stroke-dasharray="1.1,1"/>
<line x1="508.69" y1="729.2" x2="516.49" y2="729.2" stroke="#555" stroke-width="0.6" stroke-dasharray="1.8,1.2"/>
<line x1="508.69" y1="745" x2="516.49" y2="745" stroke="#555" stroke-width="0.6" stroke-dasharray="1.8,1.2"/>
<circle cx="512.59" cy="737.3" r="1.05" fill="#000"/>
<line x1="527.38" y1="734.4" x2="527.38" y2="750.1" stroke="#222" stroke-width="0.7" stroke-dasharray="1.1,1"/>
<line x1="523.48" y1="734.4" x2="531.28" y2="734.4" stroke="#555" stroke-width="0.6" stroke-dasharray="1.8,1.2"/>
<line x1="523.48" y1="750.1" x2="531.28" y2="750.1" stroke="#555" stroke-width="0.6" stroke-dasharray="1.8,1.2"/>
<circle cx="527.38" cy="742.1" r="1.05" fill="#000"/>
<line x1="542.17" y1="699.7" x2="542.17" y2="714.5" stroke="#222" stroke-width="0.7" stroke-dasharray="1.1,1"/>
<line x1="538.27" y1="699.7" x2="546.07" y2="699.7" stroke="#555" stroke-width="0.6" stroke-dasharray="1.8,1.2"/>
<line x1="538.27" y1="714.5" x2="546.07" y2="714.5" stroke="#555" stroke-width="0.6" stroke-dasharray="1.8,1.2"/>
<circle cx="542.17" cy="707.4" r="1.05" fill="#000"/>
<line x1="556.96" y1="680.7" x2="556.96" y2="695.5" stroke="#222" stroke-width="0.7" stroke-dasharray="1.1,1"/>
<line x1="553.06" y1="680.7" x2="560.86" y2="680.7" stroke="#555" stroke-width="0.6" stroke-dasharray="1.8,1.2"/>
<line x1="553.06" y1="695.5" x2="560.86" y2="695.5" stroke="#555" stroke-width="0.6" stroke-dasharray="1.8,1.2"/>
<circle cx="556.96" cy="688.1" r="1.05" fill="#000"/>
<line x1="571.75" y1="705.5" x2="571.75" y2="720.2" stroke="#222" stroke-width="0.7" stroke-dasharray="1.1,1"/>
<line x1="567.85" y1="705.5" x2="575.65" y2="705.5" stroke="#555" stroke-width="0.6" stroke-dasharray="1.8,1.2"/>
<line x1="567.85" y1="720.2" x2="575.65" y2="720.2" stroke="#555" stroke-width="0.6" stroke-dasharray="1.8,1.2"/>
<circle cx="571.75" cy="712.9" r="1.05" fill="#000"/>
<line x1="586.54" y1="696.8" x2="586.54" y2="711.6" stroke="#222" stroke-width="0.7" stroke-dasharray="1.1,1"/>
<line x1="582.64" y1="696.8" x2="590.44" y2="696.8" stroke="#555" stroke-width="0.6" stroke-dasharray="1.8,1.2"/>
<line x1="582.64" y1="711.6" x2="590.44" y2="711.6" stroke="#555" stroke-width="0.6" stroke-dasharray="1.8,1.2"/>
<circle cx="586.54" cy="704.2" r="1.05" fill="#000"/>
<line x1="601.33" y1="672.4" x2="601.33" y2="687.2" stroke="#222" stroke-width="0.7" stroke-dasharray="1.1,1"/>
<line x1="597.43" y1="672.4" x2="605.23" y2="672.4" stroke="#555" stroke-width="0.6" stroke-dasharray="1.8,1.2"/>
<line x1="597.43" y1="687.2" x2="605.23" y2="687.2" stroke="#555" stroke-width="0.6" stroke-dasharray="1.8,1.2"/>
<circle cx="601.33" cy="679.8" r="1.05" fill="#000"/>
<line x1="616.12" y1="648.6" x2="616.12" y2="662.4" stroke="#222" stroke-width="0.7" stroke-dasharray="1.1,1"/>
<line x1="612.22" y1="648.6" x2="620.02" y2="648.6" stroke="#555" stroke-width="0.6" stroke-dasharray="1.8,1.2"/>
<line x1="612.22" y1="662.4" x2="620.02" y2="662.4" stroke="#555" stroke-width="0.6" stroke-dasharray="1.8,1.2"/>
<circle cx="616.12" cy="655.4" r="1.05" fill="#000"/>
<line x1="630.91" y1="694.5" x2="630.91" y2="708.7" stroke="#222" stroke-width="0.7" stroke-dasharray="1.1,1"/>
<line x1="627.01" y1="694.5" x2="634.81" y2="694.5" stroke="#555" stroke-width="0.6" stroke-dasharray="1.8,1.2"/>
<line x1="627.01" y1="708.7" x2="634.81" y2="708.7" stroke="#555" stroke-width="0.6" stroke-dasharray="1.8,1.2"/>
<circle cx="630.91" cy="701.6" r="1.05" fill="#000"/>
<line x1="645.7" y1="712.5" x2="645.7" y2="727.3" stroke="#222" stroke-width="0.7" stroke-dasharray="1.1,1"/>
<line x1="641.8" y1="712.5" x2="649.6" y2="712.5" stroke="#555" stroke-width="0.6" stroke-dasharray="1.8,1.2"/>
<line x1="641.8" y1="727.3" x2="649.6" y2="727.3" stroke="#555" stroke-width="0.6" stroke-dasharray="1.8,1.2"/>
<circle cx="645.7" cy="719.9" r="1.05" fill="#000"/>
<line x1="660.49" y1="704.5" x2="660.49" y2="719.3" stroke="#222" stroke-width="0.7" stroke-dasharray="1.1,1"/>
<line x1="656.59" y1="704.5" x2="664.39" y2="704.5" stroke="#555" stroke-width="0.6" stroke-dasharray="1.8,1.2"/>
<line x1="656.59" y1="719.3" x2="664.39" y2="719.3" stroke="#555" stroke-width="0.6" stroke-dasharray="1.8,1.2"/>
<circle cx="660.49" cy="711.9" r="1.05" fill="#000"/>
<line x1="675.28" y1="704.5" x2="675.28" y2="718.6" stroke="#222" stroke-width="0.7" stroke-dasharray="1.1,1"/>
<line x1="671.38" y1="704.5" x2="679.18" y2="704.5" stroke="#555" stroke-width="0.6" stroke-dasharray="1.8,1.2"/>
<line x1="671.38" y1="718.6" x2="679.18" y2="718.6" stroke="#555" stroke-width="0.6" stroke-dasharray="1.8,1.2"/>
<circle cx="675.28" cy="711.6" r="1.05" fill="#000"/>
<rect x="493.9" y="751.4" width="7.8" height="3.2" fill="#000"/>
<rect x="508.69" y="751.4" width="7.8" height="3.2" fill="#000"/>
<rect x="523.48" y="751.4" width="7.8" height="3.2" fill="#000"/>
<rect x="538.27" y="751.4" width="7.8" height="3.2" fill="#000"/>
<rect x="553.06" y="751.4" width="7.8" height="3.2" fill="#000"/>
<rect x="567.85" y="751.4" width="7.8" height="3.2" fill="#000"/>
<rect x="582.64" y="751.4" width="7.8" height="3.2" fill="#000"/>
<rect x="597.43" y="751.4" width="7.8" height="3.2" fill="#000"/>
<rect x="612.22" y="751.4" width="7.8" height="3.2" fill="#000"/>
<rect x="627.01" y="751.4" width="7.8" height="3.2" fill="#000"/>
<rect x="641.8" y="751.4" width="7.8" height="3.2" fill="#000"/>
<rect x="656.59" y="751.4" width="7.8" height="3.2" fill="#000"/>
<rect x="671.38" y="751.4" width="7.8" height="3.2" fill="#000"/>
<line x1="497.8" y1="754.7" x2="497.8" y2="756.1" stroke="#a0a0a0" stroke-width="0.5"/>
<line x1="512.59" y1="754.7" x2="512.59" y2="756.1" stroke="#a0a0a0" stroke-width="0.5"/>
<line x1="527.38" y1="754.7" x2="527.38" y2="756.1" stroke="#a0a0a0" stroke-width="0.5"/>
<line x1="542.17" y1="754.7" x2="542.17" y2="756.1" stroke="#a0a0a0" stroke-width="0.5"/>
<line x1="556.96" y1="754.7" x2="556.96" y2="756.1" stroke="#a0a0a0" stroke-width="0.5"/>
<line x1="571.75" y1="754.7" x2="571.75" y2="756.1" stroke="#a0a0a0" stroke-width="0.5"/>
<line x1="586.54" y1="754.7" x2="586.54" y2="756.1" stroke="#a0a0a0" stroke-width="0.5"/>
<line x1="601.33" y1="754.7" x2="601.33" y2="756.1" stroke="#a0a0a0" stroke-width="0.5"/>
<line x1="616.12" y1="754.7" x2="616.12" y2="756.1" stroke="#a0a0a0" stroke-width="0.5"/>
<line x1="630.91" y1="754.7" x2="630.91" y2="756.1" stroke="#a0a0a0" stroke-width="0.5"/>
<line x1="645.7" y1="754.7" x2="645.7" y2="756.1" stroke="#a0a0a0" stroke-width="0.5"/>
<line x1="660.49" y1="754.7" x2="660.49" y2="756.1" stroke="#a0a0a0" stroke-width="0.5"/>
<line x1="675.28" y1="754.7" x2="675.28" y2="756.1" stroke="#a0a0a0" stroke-width="0.5"/>
<line x1="487.1" y1="649.1" x2="488.5" y2="649.1" stroke="#a0a0a0" stroke-width="0.5"/>
<line x1="487.1" y1="670.2" x2="488.5" y2="670.2" stroke="#a0a0a0" stroke-width="0.5"/>
<line x1="487.1" y1="691.7" x2="488.5" y2="691.7" stroke="#a0a0a0" stroke-width="0.5"/>
<line x1="487.1" y1="712.8" x2="488.5" y2="712.8" stroke="#a0a0a0" stroke-width="0.5"/>
<line x1="487.1" y1="733.9" x2="488.5" y2="733.9" stroke="#a0a0a0" stroke-width="0.5"/>
</g>
<g filter="url(#tsoft)">
<text transform="translate(20.4,127.3) rotate(-90) scale(0.77,1)" font-size="11.5" font-weight="normal" fill="#111" text-anchor="middle" textLength="57.79" lengthAdjust="spacingAndGlyphs">a) ANT BW</text>
<text transform="translate(20.4,384.4) rotate(-90) scale(0.77,1)" font-size="11.5" font-weight="normal" fill="#111" text-anchor="middle" textLength="69.22" lengthAdjust="spacingAndGlyphs">b) SEIO PBW</text>
<text transform="translate(20.4,641.3) rotate(-90) scale(0.77,1)" font-size="11.5" font-weight="normal" fill="#111" text-anchor="middle" textLength="71.43" lengthAdjust="spacingAndGlyphs">c) SWIO PBW</text>
<text transform="translate(67.2,118.25) scale(1,0.92)" font-size="4.95" font-weight="normal" fill="#505050" stroke="#505050" stroke-width="0.1" text-anchor="middle">-3</text>
<text transform="translate(120.6,118.25) scale(1,0.92)" font-size="4.95" font-weight="normal" fill="#505050" stroke="#505050" stroke-width="0.1" text-anchor="middle">-2</text>
<text transform="translate(174,118.25) scale(1,0.92)" font-size="4.95" font-weight="normal" fill="#505050" stroke="#505050" stroke-width="0.1" text-anchor="middle">-1</text>
<text transform="translate(227.4,118.25) scale(1,0.92)" font-size="4.95" font-weight="normal" fill="#505050" stroke="#505050" stroke-width="0.1" text-anchor="middle">0</text>
<text transform="translate(48,26.8) scale(1,0.92)" font-size="4.95" font-weight="normal" fill="#505050" stroke="#505050" stroke-width="0.1" text-anchor="end">0.8</text>
<text transform="translate(48,60) scale(1,0.92)" font-size="4.95" font-weight="normal" fill="#505050" stroke="#505050" stroke-width="0.1" text-anchor="end">0.4</text>
<text transform="translate(48,92.6) scale(1,0.92)" font-size="4.95" font-weight="normal" fill="#505050" stroke="#505050" stroke-width="0.1" text-anchor="end">0.0</text>
<text transform="translate(147.95,122.9) scale(1,0.9)" font-size="6.7" font-weight="bold" fill="#000" text-anchor="middle" textLength="83.6" lengthAdjust="spacingAndGlyphs">mean log(Chl-a) (mg/m^3)</text>
<text transform="translate(38.6,57.85) rotate(-90) scale(0.78,1)" font-size="7.1" font-weight="bold" fill="#000" stroke="#000" stroke-width="0.12" text-anchor="middle" textLength="61.28" lengthAdjust="spacingAndGlyphs">Effect on Response</text>
<text transform="translate(277.9,118.15) scale(1,0.92)" font-size="4.95" font-weight="normal" fill="#505050" stroke="#505050" stroke-width="0.1" text-anchor="middle">0</text>
<text transform="translate(338.7,118.15) scale(1,0.92)" font-size="4.95" font-weight="normal" fill="#505050" stroke="#505050" stroke-width="0.1" text-anchor="middle">10</text>
<text transform="translate(399.5,118.15) scale(1,0.92)" font-size="4.95" font-weight="normal" fill="#505050" stroke="#505050" stroke-width="0.1" text-anchor="middle">20</text>
<text transform="translate(460,118.15) scale(1,0.92)" font-size="4.95" font-weight="normal" fill="#505050" stroke="#505050" stroke-width="0.1" text-anchor="middle">30</text>
<text transform="translate(265.5,12) scale(1,0.92)" font-size="4.95" font-weight="normal" fill="#505050" stroke="#505050" stroke-width="0.1" text-anchor="end">0.5</text>
<text transform="translate(265.5,47.6) scale(1,0.92)" font-size="4.95" font-weight="normal" fill="#505050" stroke="#505050" stroke-width="0.1" text-anchor="end">0.0</text>
<text transform="translate(265.5,83.2) scale(1,0.92)" font-size="4.95" font-weight="normal" fill="#505050" stroke="#505050" stroke-width="0.1" text-anchor="end">-0.5</text>
<text transform="translate(364.7,122.8) scale(1,0.9)" font-size="6.7" font-weight="bold" fill="#000" text-anchor="middle" textLength="46" lengthAdjust="spacingAndGlyphs">mean SST (°C)</text>
<text transform="translate(254.1,57.8) rotate(-90) scale(0.78,1)" font-size="7.1" font-weight="bold" fill="#000" stroke="#000" stroke-width="0.12" text-anchor="middle" textLength="61.28" lengthAdjust="spacingAndGlyphs">Effect on Response</text>
<text transform="translate(495.5,118.15) scale(1,0.92)" font-size="4.95" font-weight="normal" fill="#505050" stroke="#505050" stroke-width="0.1" text-anchor="middle">0</text>
<text transform="translate(530.8,118.15) scale(1,0.92)" font-size="4.95" font-weight="normal" fill="#505050" stroke="#505050" stroke-width="0.1" text-anchor="middle">10</text>
<text transform="translate(566.8,118.15) scale(1,0.92)" font-size="4.95" font-weight="normal" fill="#505050" stroke="#505050" stroke-width="0.1" text-anchor="middle">20</text>
<text transform="translate(602.4,118.15) scale(1,0.92)" font-size="4.95" font-weight="normal" fill="#505050" stroke="#505050" stroke-width="0.1" text-anchor="middle">30</text>
<text transform="translate(637.8,118.15) scale(1,0.92)" font-size="4.95" font-weight="normal" fill="#505050" stroke="#505050" stroke-width="0.1" text-anchor="middle">40</text>
<text transform="translate(673.1,118.15) scale(1,0.92)" font-size="4.95" font-weight="normal" fill="#505050" stroke="#505050" stroke-width="0.1" text-anchor="middle">50</text>
<text transform="translate(484.7,13.4) scale(1,0.92)" font-size="4.95" font-weight="normal" fill="#505050" stroke="#505050" stroke-width="0.1" text-anchor="end">0.2</text>
<text transform="translate(484.7,40.9) scale(1,0.92)" font-size="4.95" font-weight="normal" fill="#505050" stroke="#505050" stroke-width="0.1" text-anchor="end">0.1</text>
<text transform="translate(484.7,69.1) scale(1,0.92)" font-size="4.95" font-weight="normal" fill="#505050" stroke="#505050" stroke-width="0.1" text-anchor="end">0.0</text>
<text transform="translate(484.7,97) scale(1,0.92)" font-size="4.95" font-weight="normal" fill="#505050" stroke="#505050" stroke-width="0.1" text-anchor="end">-0.1</text>
<text transform="translate(584,122.8) scale(1,0.9)" font-size="6.7" font-weight="bold" fill="#000" text-anchor="middle" textLength="53.9" lengthAdjust="spacingAndGlyphs">mean sea ice (%)</text>
<text transform="translate(473.7,57.8) rotate(-90) scale(0.78,1)" font-size="7.1" font-weight="bold" fill="#000" stroke="#000" stroke-width="0.12" text-anchor="middle" textLength="61.28" lengthAdjust="spacingAndGlyphs">Effect on Response</text>
<text transform="translate(98.4,244.35) scale(1,0.92)" font-size="4.95" font-weight="normal" fill="#505050" stroke="#505050" stroke-width="0.1" text-anchor="middle">60</text>
<text transform="translate(148.9,244.35) scale(1,0.92)" font-size="4.95" font-weight="normal" fill="#505050" stroke="#505050" stroke-width="0.1" text-anchor="middle">70</text>
<text transform="translate(199.4,244.35) scale(1,0.92)" font-size="4.95" font-weight="normal" fill="#505050" stroke="#505050" stroke-width="0.1" text-anchor="middle">80</text>
<text transform="translate(50.9,158.2) scale(1,0.92)" font-size="4.95" font-weight="normal" fill="#505050" stroke="#505050" stroke-width="0.1" text-anchor="end">-30</text>
<text transform="translate(50.9,187.4) scale(1,0.92)" font-size="4.95" font-weight="normal" fill="#505050" stroke="#505050" stroke-width="0.1" text-anchor="end">-40</text>
<text transform="translate(50.9,216.3) scale(1,0.92)" font-size="4.95" font-weight="normal" fill="#505050" stroke="#505050" stroke-width="0.1" text-anchor="end">-50</text>
<text transform="translate(139.3,250.2) scale(1,0.92)" font-size="6.7" font-weight="bold" fill="#000" text-anchor="middle" textLength="32.2" lengthAdjust="spacingAndGlyphs">Longitude</text>
<text transform="translate(41,186.95) rotate(-90) scale(0.78,1)" font-size="7.3" font-weight="bold" fill="#000" stroke="#000" stroke-width="0.12" text-anchor="middle" textLength="26.03" lengthAdjust="spacingAndGlyphs">Latitude</text>
<text transform="translate(53.2,131.5) scale(1,0.9)" font-size="4.7" font-weight="bold" fill="#222" text-anchor="start" textLength="54.7" lengthAdjust="spacingAndGlyphs">s(longitude,latitude, 6.93)</text>
<text transform="translate(231.7,175.1) scale(1,0.9)" font-size="4.0" font-weight="bold" fill="#222" text-anchor="start">s(x)</text>
<text transform="translate(239.9,179.2) scale(1,0.9)" font-size="3.8" font-weight="normal" fill="#222" stroke="#222" stroke-width="0.1" text-anchor="start">0.4</text>
<text transform="translate(239.9,183.9) scale(1,0.9)" font-size="3.8" font-weight="normal" fill="#222" stroke="#222" stroke-width="0.1" text-anchor="start">0.2</text>
<text transform="translate(239.9,188.4) scale(1,0.9)" font-size="3.8" font-weight="normal" fill="#222" stroke="#222" stroke-width="0.1" text-anchor="start">0.0</text>
<text transform="translate(239.9,193.1) scale(1,0.9)" font-size="3.8" font-weight="normal" fill="#222" stroke="#222" stroke-width="0.1" text-anchor="start">-0.2</text>
<text transform="translate(239.9,197.8) scale(1,0.9)" font-size="3.8" font-weight="normal" fill="#222" stroke="#222" stroke-width="0.1" text-anchor="start">-0.4</text>
<text transform="translate(239.9,202.3) scale(1,0.9)" font-size="3.8" font-weight="normal" fill="#222" stroke="#222" stroke-width="0.1" text-anchor="start">-0.6</text>
<text transform="translate(275.6,243.05) scale(1,0.92)" font-size="4.95" font-weight="normal" fill="#505050" stroke="#505050" stroke-width="0.1" text-anchor="middle">1</text>
<text transform="translate(291.68,243.05) scale(1,0.92)" font-size="4.95" font-weight="normal" fill="#505050" stroke="#505050" stroke-width="0.1" text-anchor="middle">2</text>
<text transform="translate(307.76,243.05) scale(1,0.92)" font-size="4.95" font-weight="normal" fill="#505050" stroke="#505050" stroke-width="0.1" text-anchor="middle">3</text>
<text transform="translate(323.84,243.05) scale(1,0.92)" font-size="4.95" font-weight="normal" fill="#505050" stroke="#505050" stroke-width="0.1" text-anchor="middle">4</text>
<text transform="translate(339.92,243.05) scale(1,0.92)" font-size="4.95" font-weight="normal" fill="#505050" stroke="#505050" stroke-width="0.1" text-anchor="middle">5</text>
<text transform="translate(356,243.05) scale(1,0.92)" font-size="4.95" font-weight="normal" fill="#505050" stroke="#505050" stroke-width="0.1" text-anchor="middle">6</text>
<text transform="translate(372.08,243.05) scale(1,0.92)" font-size="4.95" font-weight="normal" fill="#505050" stroke="#505050" stroke-width="0.1" text-anchor="middle">7</text>
<text transform="translate(388.16,243.05) scale(1,0.92)" font-size="4.95" font-weight="normal" fill="#505050" stroke="#505050" stroke-width="0.1" text-anchor="middle">8</text>
<text transform="translate(404.24,243.05) scale(1,0.92)" font-size="4.95" font-weight="normal" fill="#505050" stroke="#505050" stroke-width="0.1" text-anchor="middle">9</text>
<text transform="translate(420.32,243.05) scale(1,0.92)" font-size="4.95" font-weight="normal" fill="#505050" stroke="#505050" stroke-width="0.1" text-anchor="middle">10</text>
<text transform="translate(436.4,243.05) scale(1,0.92)" font-size="4.95" font-weight="normal" fill="#505050" stroke="#505050" stroke-width="0.1" text-anchor="middle">11</text>
<text transform="translate(452.48,243.05) scale(1,0.92)" font-size="4.95" font-weight="normal" fill="#505050" stroke="#505050" stroke-width="0.1" text-anchor="middle">12</text>
<text transform="translate(263.9,143.9) scale(1,0.92)" font-size="4.95" font-weight="normal" fill="#505050" stroke="#505050" stroke-width="0.1" text-anchor="end">0.4</text>
<text transform="translate(263.9,163.1) scale(1,0.92)" font-size="4.95" font-weight="normal" fill="#505050" stroke="#505050" stroke-width="0.1" text-anchor="end">0.3</text>
<text transform="translate(263.9,182.3) scale(1,0.92)" font-size="4.95" font-weight="normal" fill="#505050" stroke="#505050" stroke-width="0.1" text-anchor="end">0.2</text>
<text transform="translate(263.9,201.6) scale(1,0.92)" font-size="4.95" font-weight="normal" fill="#505050" stroke="#505050" stroke-width="0.1" text-anchor="end">0.1</text>
<text transform="translate(263.9,221) scale(1,0.92)" font-size="4.95" font-weight="normal" fill="#505050" stroke="#505050" stroke-width="0.1" text-anchor="end">0.0</text>
<text transform="translate(363.9,248.2) scale(1,0.85)" font-size="6.8" font-weight="bold" fill="#000" text-anchor="middle">Month</text>
<text transform="translate(255,182.9) rotate(-90) scale(0.78,1)" font-size="7.1" font-weight="bold" fill="#000" stroke="#000" stroke-width="0.12" text-anchor="middle" textLength="61.28" lengthAdjust="spacingAndGlyphs">Effect on Response</text>
<text transform="translate(495.5,243.05) scale(1,0.92)" font-size="4.95" font-weight="normal" fill="#505050" stroke="#505050" stroke-width="0.1" text-anchor="middle">2010</text>
<text transform="translate(510.19,243.05) scale(1,0.92)" font-size="4.95" font-weight="normal" fill="#505050" stroke="#505050" stroke-width="0.1" text-anchor="middle">2011</text>
<text transform="translate(524.88,243.05) scale(1,0.92)" font-size="4.95" font-weight="normal" fill="#505050" stroke="#505050" stroke-width="0.1" text-anchor="middle">2012</text>
<text transform="translate(539.57,243.05) scale(1,0.92)" font-size="4.95" font-weight="normal" fill="#505050" stroke="#505050" stroke-width="0.1" text-anchor="middle">2013</text>
<text transform="translate(554.26,243.05) scale(1,0.92)" font-size="4.95" font-weight="normal" fill="#505050" stroke="#505050" stroke-width="0.1" text-anchor="middle">2014</text>
<text transform="translate(568.95,243.05) scale(1,0.92)" font-size="4.95" font-weight="normal" fill="#505050" stroke="#505050" stroke-width="0.1" text-anchor="middle">2015</text>
<text transform="translate(583.64,243.05) scale(1,0.92)" font-size="4.95" font-weight="normal" fill="#505050" stroke="#505050" stroke-width="0.1" text-anchor="middle">2016</text>
<text transform="translate(598.33,243.05) scale(1,0.92)" font-size="4.95" font-weight="normal" fill="#505050" stroke="#505050" stroke-width="0.1" text-anchor="middle">2017</text>
<text transform="translate(613.02,243.05) scale(1,0.92)" font-size="4.95" font-weight="normal" fill="#505050" stroke="#505050" stroke-width="0.1" text-anchor="middle">2018</text>
<text transform="translate(627.71,243.05) scale(1,0.92)" font-size="4.95" font-weight="normal" fill="#505050" stroke="#505050" stroke-width="0.1" text-anchor="middle">2019</text>
<text transform="translate(642.4,243.05) scale(1,0.92)" font-size="4.95" font-weight="normal" fill="#505050" stroke="#505050" stroke-width="0.1" text-anchor="middle">2020</text>
<text transform="translate(657.09,243.05) scale(1,0.92)" font-size="4.95" font-weight="normal" fill="#505050" stroke="#505050" stroke-width="0.1" text-anchor="middle">2021</text>
<text transform="translate(671.78,243.05) scale(1,0.92)" font-size="4.95" font-weight="normal" fill="#505050" stroke="#505050" stroke-width="0.1" text-anchor="middle">2022</text>
<text transform="translate(484.5,137.6) scale(1,0.92)" font-size="4.95" font-weight="normal" fill="#505050" stroke="#505050" stroke-width="0.1" text-anchor="end">0.4</text>
<text transform="translate(484.5,168.8) scale(1,0.92)" font-size="4.95" font-weight="normal" fill="#505050" stroke="#505050" stroke-width="0.1" text-anchor="end">0.2</text>
<text transform="translate(484.5,199.3) scale(1,0.92)" font-size="4.95" font-weight="normal" fill="#505050" stroke="#505050" stroke-width="0.1" text-anchor="end">0.0</text>
<text transform="translate(484.5,229.8) scale(1,0.92)" font-size="4.95" font-weight="normal" fill="#505050" stroke="#505050" stroke-width="0.1" text-anchor="end">-0.2</text>
<text transform="translate(583.5,248.2) scale(1,0.85)" font-size="6.8" font-weight="bold" fill="#000" text-anchor="middle">Year</text>
<text transform="translate(473.7,182.65) rotate(-90) scale(0.78,1)" font-size="7.1" font-weight="bold" fill="#000" stroke="#000" stroke-width="0.12" text-anchor="middle" textLength="61.28" lengthAdjust="spacingAndGlyphs">Effect on Response</text>
<text transform="translate(71.2,376.15) scale(1,0.92)" font-size="4.95" font-weight="normal" fill="#505050" stroke="#505050" stroke-width="0.1" text-anchor="middle">-3</text>
<text transform="translate(123.8,376.15) scale(1,0.92)" font-size="4.95" font-weight="normal" fill="#505050" stroke="#505050" stroke-width="0.1" text-anchor="middle">-2</text>
<text transform="translate(176.8,376.15) scale(1,0.92)" font-size="4.95" font-weight="normal" fill="#505050" stroke="#505050" stroke-width="0.1" text-anchor="middle">-1</text>
<text transform="translate(230,376.15) scale(1,0.92)" font-size="4.95" font-weight="normal" fill="#505050" stroke="#505050" stroke-width="0.1" text-anchor="middle">0</text>
<text transform="translate(52.2,295.1) scale(1,0.92)" font-size="4.95" font-weight="normal" fill="#505050" stroke="#505050" stroke-width="0.1" text-anchor="end">2.5</text>
<text transform="translate(52.2,328.8) scale(1,0.92)" font-size="4.95" font-weight="normal" fill="#505050" stroke="#505050" stroke-width="0.1" text-anchor="end">0.0</text>
<text transform="translate(52.2,362.2) scale(1,0.92)" font-size="4.95" font-weight="normal" fill="#505050" stroke="#505050" stroke-width="0.1" text-anchor="end">-2.5</text>
<text transform="translate(151.35,380.8) scale(1,0.9)" font-size="6.7" font-weight="bold" fill="#000" text-anchor="middle" textLength="83.6" lengthAdjust="spacingAndGlyphs">mean log(Chl-a) (mg/m^3)</text>
<text transform="translate(41,315.65) rotate(-90) scale(0.78,1)" font-size="7.1" font-weight="bold" fill="#000" stroke="#000" stroke-width="0.12" text-anchor="middle" textLength="61.28" lengthAdjust="spacingAndGlyphs">Effect on Response</text>
<text transform="translate(276.9,375.95) scale(1,0.92)" font-size="4.95" font-weight="normal" fill="#505050" stroke="#505050" stroke-width="0.1" text-anchor="middle">0</text>
<text transform="translate(339.2,375.95) scale(1,0.92)" font-size="4.95" font-weight="normal" fill="#505050" stroke="#505050" stroke-width="0.1" text-anchor="middle">10</text>
<text transform="translate(401.4,375.95) scale(1,0.92)" font-size="4.95" font-weight="normal" fill="#505050" stroke="#505050" stroke-width="0.1" text-anchor="middle">20</text>
<text transform="translate(463.3,375.95) scale(1,0.92)" font-size="4.95" font-weight="normal" fill="#505050" stroke="#505050" stroke-width="0.1" text-anchor="middle">30</text>
<text transform="translate(264.5,270.1) scale(1,0.92)" font-size="4.95" font-weight="normal" fill="#505050" stroke="#505050" stroke-width="0.1" text-anchor="end">2</text>
<text transform="translate(264.5,295.9) scale(1,0.92)" font-size="4.95" font-weight="normal" fill="#505050" stroke="#505050" stroke-width="0.1" text-anchor="end">1</text>
<text transform="translate(264.5,321.9) scale(1,0.92)" font-size="4.95" font-weight="normal" fill="#505050" stroke="#505050" stroke-width="0.1" text-anchor="end">0</text>
<text transform="translate(264.5,347.7) scale(1,0.92)" font-size="4.95" font-weight="normal" fill="#505050" stroke="#505050" stroke-width="0.1" text-anchor="end">-1</text>
<text transform="translate(366.1,380.6) scale(1,0.9)" font-size="6.7" font-weight="bold" fill="#000" text-anchor="middle" textLength="46" lengthAdjust="spacingAndGlyphs">mean SST (°C)</text>
<text transform="translate(257.9,315.75) rotate(-90) scale(0.78,1)" font-size="7.1" font-weight="bold" fill="#000" stroke="#000" stroke-width="0.12" text-anchor="middle" textLength="61.28" lengthAdjust="spacingAndGlyphs">Effect on Response</text>
<text transform="translate(493.3,375.05) scale(1,0.92)" font-size="4.95" font-weight="normal" fill="#505050" stroke="#505050" stroke-width="0.1" text-anchor="middle">0</text>
<text transform="translate(529.2,375.05) scale(1,0.92)" font-size="4.95" font-weight="normal" fill="#505050" stroke="#505050" stroke-width="0.1" text-anchor="middle">10</text>
<text transform="translate(565.2,375.05) scale(1,0.92)" font-size="4.95" font-weight="normal" fill="#505050" stroke="#505050" stroke-width="0.1" text-anchor="middle">20</text>
<text transform="translate(600.8,375.05) scale(1,0.92)" font-size="4.95" font-weight="normal" fill="#505050" stroke="#505050" stroke-width="0.1" text-anchor="middle">30</text>
<text transform="translate(636.8,375.05) scale(1,0.92)" font-size="4.95" font-weight="normal" fill="#505050" stroke="#505050" stroke-width="0.1" text-anchor="middle">40</text>
<text transform="translate(672.1,375.05) scale(1,0.92)" font-size="4.95" font-weight="normal" fill="#505050" stroke="#505050" stroke-width="0.1" text-anchor="middle">50</text>
<text transform="translate(482.5,265.9) scale(1,0.92)" font-size="4.95" font-weight="normal" fill="#505050" stroke="#505050" stroke-width="0.1" text-anchor="end">1.2</text>
<text transform="translate(482.5,294.1) scale(1,0.92)" font-size="4.95" font-weight="normal" fill="#505050" stroke="#505050" stroke-width="0.1" text-anchor="end">0.8</text>
<text transform="translate(482.5,322.4) scale(1,0.92)" font-size="4.95" font-weight="normal" fill="#505050" stroke="#505050" stroke-width="0.1" text-anchor="end">0.4</text>
<text transform="translate(482.5,350.8) scale(1,0.92)" font-size="4.95" font-weight="normal" fill="#505050" stroke="#505050" stroke-width="0.1" text-anchor="end">0.0</text>
<text transform="translate(582.15,379.7) scale(1,0.9)" font-size="6.7" font-weight="bold" fill="#000" text-anchor="middle" textLength="53.9" lengthAdjust="spacingAndGlyphs">mean sea ice (%)</text>
<text transform="translate(473,314.95) rotate(-90) scale(0.78,1)" font-size="7.1" font-weight="bold" fill="#000" stroke="#000" stroke-width="0.12" text-anchor="middle" textLength="61.28" lengthAdjust="spacingAndGlyphs">Effect on Response</text>
<text transform="translate(101.3,500.95) scale(1,0.92)" font-size="4.95" font-weight="normal" fill="#505050" stroke="#505050" stroke-width="0.1" text-anchor="middle">60</text>
<text transform="translate(152.4,500.95) scale(1,0.92)" font-size="4.95" font-weight="normal" fill="#505050" stroke="#505050" stroke-width="0.1" text-anchor="middle">70</text>
<text transform="translate(203.4,500.95) scale(1,0.92)" font-size="4.95" font-weight="normal" fill="#505050" stroke="#505050" stroke-width="0.1" text-anchor="middle">80</text>
<text transform="translate(53,414.8) scale(1,0.92)" font-size="4.95" font-weight="normal" fill="#505050" stroke="#505050" stroke-width="0.1" text-anchor="end">-30</text>
<text transform="translate(53,444) scale(1,0.92)" font-size="4.95" font-weight="normal" fill="#505050" stroke="#505050" stroke-width="0.1" text-anchor="end">-40</text>
<text transform="translate(53,472.9) scale(1,0.92)" font-size="4.95" font-weight="normal" fill="#505050" stroke="#505050" stroke-width="0.1" text-anchor="end">-50</text>
<text transform="translate(143,506.8) scale(1,0.92)" font-size="6.7" font-weight="bold" fill="#000" text-anchor="middle" textLength="32.2" lengthAdjust="spacingAndGlyphs">Longitude</text>
<text transform="translate(43.1,443.5) rotate(-90) scale(0.78,1)" font-size="7.3" font-weight="bold" fill="#000" stroke="#000" stroke-width="0.12" text-anchor="middle" textLength="26.03" lengthAdjust="spacingAndGlyphs">Latitude</text>
<text transform="translate(55.3,388) scale(1,0.9)" font-size="4.7" font-weight="bold" fill="#222" text-anchor="start" textLength="54.7" lengthAdjust="spacingAndGlyphs">s(longitude,latitude, 6.94)</text>
<text transform="translate(236.7,431.5) scale(1,0.9)" font-size="4.0" font-weight="bold" fill="#222" text-anchor="start">s(x)</text>
<text transform="translate(245,435.8) scale(1,0.9)" font-size="3.8" font-weight="normal" fill="#222" stroke="#222" stroke-width="0.1" text-anchor="start">1</text>
<text transform="translate(245,442.2) scale(1,0.9)" font-size="3.8" font-weight="normal" fill="#222" stroke="#222" stroke-width="0.1" text-anchor="start">0</text>
<text transform="translate(245,448.6) scale(1,0.9)" font-size="3.8" font-weight="normal" fill="#222" stroke="#222" stroke-width="0.1" text-anchor="start">-1</text>
<text transform="translate(245,455.1) scale(1,0.9)" font-size="3.8" font-weight="normal" fill="#222" stroke="#222" stroke-width="0.1" text-anchor="start">-2</text>
<text transform="translate(278.2,501.35) scale(1,0.92)" font-size="4.95" font-weight="normal" fill="#505050" stroke="#505050" stroke-width="0.1" text-anchor="middle">1</text>
<text transform="translate(294.47,501.35) scale(1,0.92)" font-size="4.95" font-weight="normal" fill="#505050" stroke="#505050" stroke-width="0.1" text-anchor="middle">2</text>
<text transform="translate(310.74,501.35) scale(1,0.92)" font-size="4.95" font-weight="normal" fill="#505050" stroke="#505050" stroke-width="0.1" text-anchor="middle">3</text>
<text transform="translate(327.01,501.35) scale(1,0.92)" font-size="4.95" font-weight="normal" fill="#505050" stroke="#505050" stroke-width="0.1" text-anchor="middle">4</text>
<text transform="translate(343.28,501.35) scale(1,0.92)" font-size="4.95" font-weight="normal" fill="#505050" stroke="#505050" stroke-width="0.1" text-anchor="middle">5</text>
<text transform="translate(359.55,501.35) scale(1,0.92)" font-size="4.95" font-weight="normal" fill="#505050" stroke="#505050" stroke-width="0.1" text-anchor="middle">6</text>
<text transform="translate(375.82,501.35) scale(1,0.92)" font-size="4.95" font-weight="normal" fill="#505050" stroke="#505050" stroke-width="0.1" text-anchor="middle">7</text>
<text transform="translate(392.09,501.35) scale(1,0.92)" font-size="4.95" font-weight="normal" fill="#505050" stroke="#505050" stroke-width="0.1" text-anchor="middle">8</text>
<text transform="translate(408.36,501.35) scale(1,0.92)" font-size="4.95" font-weight="normal" fill="#505050" stroke="#505050" stroke-width="0.1" text-anchor="middle">9</text>
<text transform="translate(424.63,501.35) scale(1,0.92)" font-size="4.95" font-weight="normal" fill="#505050" stroke="#505050" stroke-width="0.1" text-anchor="middle">10</text>
<text transform="translate(440.9,501.35) scale(1,0.92)" font-size="4.95" font-weight="normal" fill="#505050" stroke="#505050" stroke-width="0.1" text-anchor="middle">11</text>
<text transform="translate(457.17,501.35) scale(1,0.92)" font-size="4.95" font-weight="normal" fill="#505050" stroke="#505050" stroke-width="0.1" text-anchor="middle">12</text>
<text transform="translate(266.2,399) scale(1,0.92)" font-size="4.95" font-weight="normal" fill="#505050" stroke="#505050" stroke-width="0.1" text-anchor="end">1</text>
<text transform="translate(266.2,426.8) scale(1,0.92)" font-size="4.95" font-weight="normal" fill="#505050" stroke="#505050" stroke-width="0.1" text-anchor="end">0</text>
<text transform="translate(266.2,454.5) scale(1,0.92)" font-size="4.95" font-weight="normal" fill="#505050" stroke="#505050" stroke-width="0.1" text-anchor="end">-1</text>
<text transform="translate(266.2,482.4) scale(1,0.92)" font-size="4.95" font-weight="normal" fill="#505050" stroke="#505050" stroke-width="0.1" text-anchor="end">-2</text>
<text transform="translate(367.75,506.5) scale(1,0.85)" font-size="6.8" font-weight="bold" fill="#000" text-anchor="middle">Month</text>
<text transform="translate(259.6,441.2) rotate(-90) scale(0.78,1)" font-size="7.1" font-weight="bold" fill="#000" stroke="#000" stroke-width="0.12" text-anchor="middle" textLength="61.28" lengthAdjust="spacingAndGlyphs">Effect on Response</text>
<text transform="translate(496.1,500.95) scale(1,0.92)" font-size="4.95" font-weight="normal" fill="#505050" stroke="#505050" stroke-width="0.1" text-anchor="middle">2010</text>
<text transform="translate(510.77,500.95) scale(1,0.92)" font-size="4.95" font-weight="normal" fill="#505050" stroke="#505050" stroke-width="0.1" text-anchor="middle">2011</text>
<text transform="translate(525.44,500.95) scale(1,0.92)" font-size="4.95" font-weight="normal" fill="#505050" stroke="#505050" stroke-width="0.1" text-anchor="middle">2012</text>
<text transform="translate(540.11,500.95) scale(1,0.92)" font-size="4.95" font-weight="normal" fill="#505050" stroke="#505050" stroke-width="0.1" text-anchor="middle">2013</text>
<text transform="translate(554.78,500.95) scale(1,0.92)" font-size="4.95" font-weight="normal" fill="#505050" stroke="#505050" stroke-width="0.1" text-anchor="middle">2014</text>
<text transform="translate(569.45,500.95) scale(1,0.92)" font-size="4.95" font-weight="normal" fill="#505050" stroke="#505050" stroke-width="0.1" text-anchor="middle">2015</text>
<text transform="translate(584.12,500.95) scale(1,0.92)" font-size="4.95" font-weight="normal" fill="#505050" stroke="#505050" stroke-width="0.1" text-anchor="middle">2016</text>
<text transform="translate(598.79,500.95) scale(1,0.92)" font-size="4.95" font-weight="normal" fill="#505050" stroke="#505050" stroke-width="0.1" text-anchor="middle">2017</text>
<text transform="translate(613.46,500.95) scale(1,0.92)" font-size="4.95" font-weight="normal" fill="#505050" stroke="#505050" stroke-width="0.1" text-anchor="middle">2018</text>
<text transform="translate(628.13,500.95) scale(1,0.92)" font-size="4.95" font-weight="normal" fill="#505050" stroke="#505050" stroke-width="0.1" text-anchor="middle">2019</text>
<text transform="translate(642.8,500.95) scale(1,0.92)" font-size="4.95" font-weight="normal" fill="#505050" stroke="#505050" stroke-width="0.1" text-anchor="middle">2020</text>
<text transform="translate(657.47,500.95) scale(1,0.92)" font-size="4.95" font-weight="normal" fill="#505050" stroke="#505050" stroke-width="0.1" text-anchor="middle">2021</text>
<text transform="translate(672.14,500.95) scale(1,0.92)" font-size="4.95" font-weight="normal" fill="#505050" stroke="#505050" stroke-width="0.1" text-anchor="middle">2022</text>
<text transform="translate(485,411.1) scale(1,0.92)" font-size="4.95" font-weight="normal" fill="#505050" stroke="#505050" stroke-width="0.1" text-anchor="end">0.0</text>
<text transform="translate(485,442) scale(1,0.92)" font-size="4.95" font-weight="normal" fill="#505050" stroke="#505050" stroke-width="0.1" text-anchor="end">-0.5</text>
<text transform="translate(485,473.1) scale(1,0.92)" font-size="4.95" font-weight="normal" fill="#505050" stroke="#505050" stroke-width="0.1" text-anchor="end">-1.0</text>
<text transform="translate(583.75,506.1) scale(1,0.85)" font-size="6.8" font-weight="bold" fill="#000" text-anchor="middle">Year</text>
<text transform="translate(473.7,440.75) rotate(-90) scale(0.78,1)" font-size="7.1" font-weight="bold" fill="#000" stroke="#000" stroke-width="0.12" text-anchor="middle" textLength="61.28" lengthAdjust="spacingAndGlyphs">Effect on Response</text>
<text transform="translate(71.2,632.95) scale(1,0.92)" font-size="4.95" font-weight="normal" fill="#505050" stroke="#505050" stroke-width="0.1" text-anchor="middle">-3</text>
<text transform="translate(124.1,632.95) scale(1,0.92)" font-size="4.95" font-weight="normal" fill="#505050" stroke="#505050" stroke-width="0.1" text-anchor="middle">-2</text>
<text transform="translate(177,632.95) scale(1,0.92)" font-size="4.95" font-weight="normal" fill="#505050" stroke="#505050" stroke-width="0.1" text-anchor="middle">-1</text>
<text transform="translate(230,632.95) scale(1,0.92)" font-size="4.95" font-weight="normal" fill="#505050" stroke="#505050" stroke-width="0.1" text-anchor="middle">0</text>
<text transform="translate(52.2,536.6) scale(1,0.92)" font-size="4.95" font-weight="normal" fill="#505050" stroke="#505050" stroke-width="0.1" text-anchor="end">2.0</text>
<text transform="translate(52.2,555) scale(1,0.92)" font-size="4.95" font-weight="normal" fill="#505050" stroke="#505050" stroke-width="0.1" text-anchor="end">1.5</text>
<text transform="translate(52.2,573.2) scale(1,0.92)" font-size="4.95" font-weight="normal" fill="#505050" stroke="#505050" stroke-width="0.1" text-anchor="end">1.0</text>
<text transform="translate(52.2,591.4) scale(1,0.92)" font-size="4.95" font-weight="normal" fill="#505050" stroke="#505050" stroke-width="0.1" text-anchor="end">0.5</text>
<text transform="translate(52.2,609.8) scale(1,0.92)" font-size="4.95" font-weight="normal" fill="#505050" stroke="#505050" stroke-width="0.1" text-anchor="end">0.0</text>
<text transform="translate(52.2,628.1) scale(1,0.92)" font-size="4.95" font-weight="normal" fill="#505050" stroke="#505050" stroke-width="0.1" text-anchor="end">-0.5</text>
<text transform="translate(151.35,637.6) scale(1,0.9)" font-size="6.7" font-weight="bold" fill="#000" text-anchor="middle" textLength="83.6" lengthAdjust="spacingAndGlyphs">mean log(Chl-a) (mg/m^3)</text>
<text transform="translate(41,572.7) rotate(-90) scale(0.78,1)" font-size="7.1" font-weight="bold" fill="#000" stroke="#000" stroke-width="0.12" text-anchor="middle" textLength="61.28" lengthAdjust="spacingAndGlyphs">Effect on Response</text>
<text transform="translate(279.9,633.05) scale(1,0.92)" font-size="4.95" font-weight="normal" fill="#505050" stroke="#505050" stroke-width="0.1" text-anchor="middle">0</text>
<text transform="translate(341,633.05) scale(1,0.92)" font-size="4.95" font-weight="normal" fill="#505050" stroke="#505050" stroke-width="0.1" text-anchor="middle">10</text>
<text transform="translate(401.8,633.05) scale(1,0.92)" font-size="4.95" font-weight="normal" fill="#505050" stroke="#505050" stroke-width="0.1" text-anchor="middle">20</text>
<text transform="translate(463.3,633.05) scale(1,0.92)" font-size="4.95" font-weight="normal" fill="#505050" stroke="#505050" stroke-width="0.1" text-anchor="middle">30</text>
<text transform="translate(267.9,527.5) scale(1,0.92)" font-size="4.95" font-weight="normal" fill="#505050" stroke="#505050" stroke-width="0.1" text-anchor="end">0.5</text>
<text transform="translate(267.9,558.8) scale(1,0.92)" font-size="4.95" font-weight="normal" fill="#505050" stroke="#505050" stroke-width="0.1" text-anchor="end">0.0</text>
<text transform="translate(267.9,589.7) scale(1,0.92)" font-size="4.95" font-weight="normal" fill="#505050" stroke="#505050" stroke-width="0.1" text-anchor="end">-0.5</text>
<text transform="translate(267.9,620.8) scale(1,0.92)" font-size="4.95" font-weight="normal" fill="#505050" stroke="#505050" stroke-width="0.1" text-anchor="end">-1.0</text>
<text transform="translate(366.95,637.7) scale(1,0.9)" font-size="6.7" font-weight="bold" fill="#000" text-anchor="middle" textLength="46" lengthAdjust="spacingAndGlyphs">mean SST (°C)</text>
<text transform="translate(257.1,572.85) rotate(-90) scale(0.78,1)" font-size="7.1" font-weight="bold" fill="#000" stroke="#000" stroke-width="0.12" text-anchor="middle" textLength="61.28" lengthAdjust="spacingAndGlyphs">Effect on Response</text>
<text transform="translate(495.5,632.65) scale(1,0.92)" font-size="4.95" font-weight="normal" fill="#505050" stroke="#505050" stroke-width="0.1" text-anchor="middle">0</text>
<text transform="translate(531.2,632.65) scale(1,0.92)" font-size="4.95" font-weight="normal" fill="#505050" stroke="#505050" stroke-width="0.1" text-anchor="middle">10</text>
<text transform="translate(566.8,632.65) scale(1,0.92)" font-size="4.95" font-weight="normal" fill="#505050" stroke="#505050" stroke-width="0.1" text-anchor="middle">20</text>
<text transform="translate(602.4,632.65) scale(1,0.92)" font-size="4.95" font-weight="normal" fill="#505050" stroke="#505050" stroke-width="0.1" text-anchor="middle">30</text>
<text transform="translate(637.8,632.65) scale(1,0.92)" font-size="4.95" font-weight="normal" fill="#505050" stroke="#505050" stroke-width="0.1" text-anchor="middle">40</text>
<text transform="translate(673.1,632.65) scale(1,0.92)" font-size="4.95" font-weight="normal" fill="#505050" stroke="#505050" stroke-width="0.1" text-anchor="middle">50</text>
<text transform="translate(484.7,534.9) scale(1,0.92)" font-size="4.95" font-weight="normal" fill="#505050" stroke="#505050" stroke-width="0.1" text-anchor="end">0.1</text>
<text transform="translate(484.7,558.9) scale(1,0.92)" font-size="4.95" font-weight="normal" fill="#505050" stroke="#505050" stroke-width="0.1" text-anchor="end">0.0</text>
<text transform="translate(484.7,582.5) scale(1,0.92)" font-size="4.95" font-weight="normal" fill="#505050" stroke="#505050" stroke-width="0.1" text-anchor="end">-0.1</text>
<text transform="translate(484.7,606.5) scale(1,0.92)" font-size="4.95" font-weight="normal" fill="#505050" stroke="#505050" stroke-width="0.1" text-anchor="end">-0.2</text>
<text transform="translate(583.9,637.3) scale(1,0.9)" font-size="6.7" font-weight="bold" fill="#000" text-anchor="middle" textLength="53.9" lengthAdjust="spacingAndGlyphs">mean sea ice (%)</text>
<text transform="translate(473.7,572.55) rotate(-90) scale(0.78,1)" font-size="7.1" font-weight="bold" fill="#000" stroke="#000" stroke-width="0.12" text-anchor="middle" textLength="61.28" lengthAdjust="spacingAndGlyphs">Effect on Response</text>
<text transform="translate(100,759.55) scale(1,0.92)" font-size="4.95" font-weight="normal" fill="#505050" stroke="#505050" stroke-width="0.1" text-anchor="middle">60</text>
<text transform="translate(149.8,759.55) scale(1,0.92)" font-size="4.95" font-weight="normal" fill="#505050" stroke="#505050" stroke-width="0.1" text-anchor="middle">70</text>
<text transform="translate(200.2,759.55) scale(1,0.92)" font-size="4.95" font-weight="normal" fill="#505050" stroke="#505050" stroke-width="0.1" text-anchor="middle">80</text>
<text transform="translate(51.9,673.3) scale(1,0.92)" font-size="4.95" font-weight="normal" fill="#505050" stroke="#505050" stroke-width="0.1" text-anchor="end">-30</text>
<text transform="translate(51.9,702.6) scale(1,0.92)" font-size="4.95" font-weight="normal" fill="#505050" stroke="#505050" stroke-width="0.1" text-anchor="end">-40</text>
<text transform="translate(51.9,731.8) scale(1,0.92)" font-size="4.95" font-weight="normal" fill="#505050" stroke="#505050" stroke-width="0.1" text-anchor="end">-50</text>
<text transform="translate(140.55,765.4) scale(1,0.92)" font-size="6.7" font-weight="bold" fill="#000" text-anchor="middle" textLength="32.2" lengthAdjust="spacingAndGlyphs">Longitude</text>
<text transform="translate(42,701.95) rotate(-90) scale(0.78,1)" font-size="7.3" font-weight="bold" fill="#000" stroke="#000" stroke-width="0.12" text-anchor="middle" textLength="26.03" lengthAdjust="spacingAndGlyphs">Latitude</text>
<text transform="translate(54.2,646.3) scale(1,0.9)" font-size="4.7" font-weight="bold" fill="#222" text-anchor="start" textLength="54.7" lengthAdjust="spacingAndGlyphs">s(longitude,latitude, 6.97)</text>
<text transform="translate(232.9,690.2) scale(1,0.9)" font-size="4.0" font-weight="bold" fill="#222" text-anchor="start">s(x)</text>
<text transform="translate(241.8,698.7) scale(1,0.9)" font-size="3.8" font-weight="normal" fill="#222" stroke="#222" stroke-width="0.1" text-anchor="start">0.4</text>
<text transform="translate(241.8,705.2) scale(1,0.9)" font-size="3.8" font-weight="normal" fill="#222" stroke="#222" stroke-width="0.1" text-anchor="start">0.0</text>
<text transform="translate(241.8,711.6) scale(1,0.9)" font-size="3.8" font-weight="normal" fill="#222" stroke="#222" stroke-width="0.1" text-anchor="start">-0.4</text>
<text transform="translate(241.8,718) scale(1,0.9)" font-size="3.8" font-weight="normal" fill="#222" stroke="#222" stroke-width="0.1" text-anchor="start">-0.8</text>
<text transform="translate(279.6,760.15) scale(1,0.92)" font-size="4.95" font-weight="normal" fill="#505050" stroke="#505050" stroke-width="0.1" text-anchor="middle">1</text>
<text transform="translate(295.6,760.15) scale(1,0.92)" font-size="4.95" font-weight="normal" fill="#505050" stroke="#505050" stroke-width="0.1" text-anchor="middle">2</text>
<text transform="translate(311.6,760.15) scale(1,0.92)" font-size="4.95" font-weight="normal" fill="#505050" stroke="#505050" stroke-width="0.1" text-anchor="middle">3</text>
<text transform="translate(327.6,760.15) scale(1,0.92)" font-size="4.95" font-weight="normal" fill="#505050" stroke="#505050" stroke-width="0.1" text-anchor="middle">4</text>
<text transform="translate(343.6,760.15) scale(1,0.92)" font-size="4.95" font-weight="normal" fill="#505050" stroke="#505050" stroke-width="0.1" text-anchor="middle">5</text>
<text transform="translate(359.6,760.15) scale(1,0.92)" font-size="4.95" font-weight="normal" fill="#505050" stroke="#505050" stroke-width="0.1" text-anchor="middle">6</text>
<text transform="translate(375.6,760.15) scale(1,0.92)" font-size="4.95" font-weight="normal" fill="#505050" stroke="#505050" stroke-width="0.1" text-anchor="middle">7</text>
<text transform="translate(391.6,760.15) scale(1,0.92)" font-size="4.95" font-weight="normal" fill="#505050" stroke="#505050" stroke-width="0.1" text-anchor="middle">8</text>
<text transform="translate(407.6,760.15) scale(1,0.92)" font-size="4.95" font-weight="normal" fill="#505050" stroke="#505050" stroke-width="0.1" text-anchor="middle">9</text>
<text transform="translate(423.6,760.15) scale(1,0.92)" font-size="4.95" font-weight="normal" fill="#505050" stroke="#505050" stroke-width="0.1" text-anchor="middle">10</text>
<text transform="translate(439.6,760.15) scale(1,0.92)" font-size="4.95" font-weight="normal" fill="#505050" stroke="#505050" stroke-width="0.1" text-anchor="middle">11</text>
<text transform="translate(455.6,760.15) scale(1,0.92)" font-size="4.95" font-weight="normal" fill="#505050" stroke="#505050" stroke-width="0.1" text-anchor="middle">12</text>
<text transform="translate(267.9,656.3) scale(1,0.92)" font-size="4.95" font-weight="normal" fill="#505050" stroke="#505050" stroke-width="0.1" text-anchor="end">0.5</text>
<text transform="translate(267.9,683.1) scale(1,0.92)" font-size="4.95" font-weight="normal" fill="#505050" stroke="#505050" stroke-width="0.1" text-anchor="end">0.0</text>
<text transform="translate(267.9,710.1) scale(1,0.92)" font-size="4.95" font-weight="normal" fill="#505050" stroke="#505050" stroke-width="0.1" text-anchor="end">-0.5</text>
<text transform="translate(267.9,737.3) scale(1,0.92)" font-size="4.95" font-weight="normal" fill="#505050" stroke="#505050" stroke-width="0.1" text-anchor="end">-1.0</text>
<text transform="translate(367.1,765.3) scale(1,0.85)" font-size="6.8" font-weight="bold" fill="#000" text-anchor="middle">Month</text>
<text transform="translate(257.5,699.85) rotate(-90) scale(0.78,1)" font-size="7.1" font-weight="bold" fill="#000" stroke="#000" stroke-width="0.12" text-anchor="middle" textLength="61.28" lengthAdjust="spacingAndGlyphs">Effect on Response</text>
<text transform="translate(497.8,759.55) scale(1,0.92)" font-size="4.95" font-weight="normal" fill="#505050" stroke="#505050" stroke-width="0.1" text-anchor="middle">2010</text>
<text transform="translate(512.59,759.55) scale(1,0.92)" font-size="4.95" font-weight="normal" fill="#505050" stroke="#505050" stroke-width="0.1" text-anchor="middle">2011</text>
<text transform="translate(527.38,759.55) scale(1,0.92)" font-size="4.95" font-weight="normal" fill="#505050" stroke="#505050" stroke-width="0.1" text-anchor="middle">2012</text>
<text transform="translate(542.17,759.55) scale(1,0.92)" font-size="4.95" font-weight="normal" fill="#505050" stroke="#505050" stroke-width="0.1" text-anchor="middle">2013</text>
<text transform="translate(556.96,759.55) scale(1,0.92)" font-size="4.95" font-weight="normal" fill="#505050" stroke="#505050" stroke-width="0.1" text-anchor="middle">2014</text>
<text transform="translate(571.75,759.55) scale(1,0.92)" font-size="4.95" font-weight="normal" fill="#505050" stroke="#505050" stroke-width="0.1" text-anchor="middle">2015</text>
<text transform="translate(586.54,759.55) scale(1,0.92)" font-size="4.95" font-weight="normal" fill="#505050" stroke="#505050" stroke-width="0.1" text-anchor="middle">2016</text>
<text transform="translate(601.33,759.55) scale(1,0.92)" font-size="4.95" font-weight="normal" fill="#505050" stroke="#505050" stroke-width="0.1" text-anchor="middle">2017</text>
<text transform="translate(616.12,759.55) scale(1,0.92)" font-size="4.95" font-weight="normal" fill="#505050" stroke="#505050" stroke-width="0.1" text-anchor="middle">2018</text>
<text transform="translate(630.91,759.55) scale(1,0.92)" font-size="4.95" font-weight="normal" fill="#505050" stroke="#505050" stroke-width="0.1" text-anchor="middle">2019</text>
<text transform="translate(645.7,759.55) scale(1,0.92)" font-size="4.95" font-weight="normal" fill="#505050" stroke="#505050" stroke-width="0.1" text-anchor="middle">2020</text>
<text transform="translate(660.49,759.55) scale(1,0.92)" font-size="4.95" font-weight="normal" fill="#505050" stroke="#505050" stroke-width="0.1" text-anchor="middle">2021</text>
<text transform="translate(675.28,759.55) scale(1,0.92)" font-size="4.95" font-weight="normal" fill="#505050" stroke="#505050" stroke-width="0.1" text-anchor="middle">2022</text>
<text transform="translate(486.2,650.7) scale(1,0.92)" font-size="4.95" font-weight="normal" fill="#505050" stroke="#505050" stroke-width="0.1" text-anchor="end">0.8</text>
<text transform="translate(486.2,671.8) scale(1,0.92)" font-size="4.95" font-weight="normal" fill="#505050" stroke="#505050" stroke-width="0.1" text-anchor="end">0.6</text>
<text transform="translate(486.2,693.3) scale(1,0.92)" font-size="4.95" font-weight="normal" fill="#505050" stroke="#505050" stroke-width="0.1" text-anchor="end">0.4</text>
<text transform="translate(486.2,714.4) scale(1,0.92)" font-size="4.95" font-weight="normal" fill="#505050" stroke="#505050" stroke-width="0.1" text-anchor="end">0.2</text>
<text transform="translate(486.2,735.5) scale(1,0.92)" font-size="4.95" font-weight="normal" fill="#505050" stroke="#505050" stroke-width="0.1" text-anchor="end">0.0</text>
<text transform="translate(586.05,764.7) scale(1,0.85)" font-size="6.8" font-weight="bold" fill="#000" text-anchor="middle">Year</text>
<text transform="translate(477.5,699.25) rotate(-90) scale(0.78,1)" font-size="7.1" font-weight="bold" fill="#000" stroke="#000" stroke-width="0.12" text-anchor="middle" textLength="61.28" lengthAdjust="spacingAndGlyphs">Effect on Response</text>
</g>
</svg>
</body></html>
